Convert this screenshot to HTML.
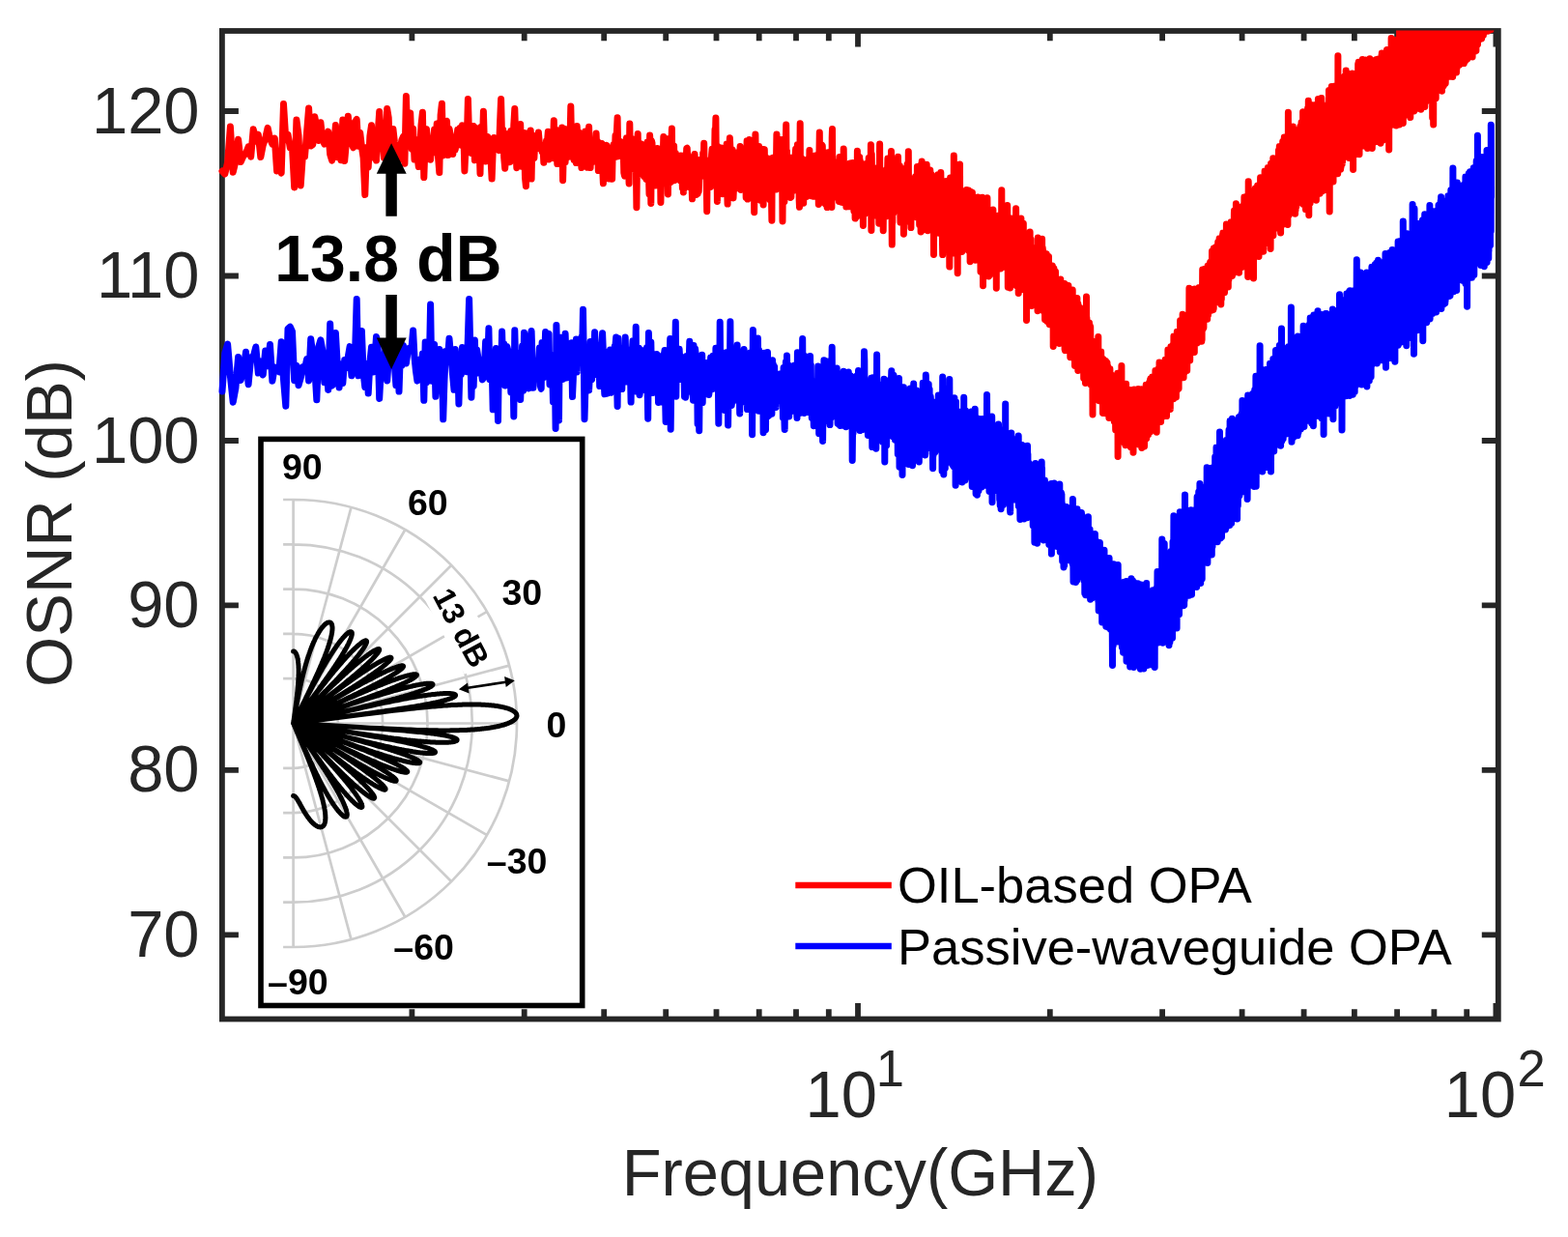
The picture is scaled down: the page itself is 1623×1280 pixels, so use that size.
<!DOCTYPE html><html><head><meta charset="utf-8"><title>OSNR vs Frequency</title><style>html,body{margin:0;padding:0;background:#fff;}svg{display:block;}text{font-family:"Liberation Sans",Arial,Helvetica,sans-serif;}</style></head><body>
<svg width="1623" height="1280" viewBox="0 0 1623 1280">
<rect width="1623" height="1280" fill="#fff"/>
<defs><clipPath id="ax"><rect x="224" y="31.5" width="1335" height="1028"/></clipPath></defs>
<path d="M229.9 967.4H246.9M1550.8 967.4H1533.8M229.9 796.9H246.9M1550.8 796.9H1533.8M229.9 626.4H246.9M1550.8 626.4H1533.8M229.9 456.0H246.9M1550.8 456.0H1533.8M229.9 285.5H246.9M1550.8 285.5H1533.8M229.9 115.0H246.9M1550.8 115.0H1533.8M426.4 1054.5V1044.3M426.4 32.0V42.2M542.7 1054.5V1044.3M542.7 32.0V42.2M625.2 1054.5V1044.3M625.2 32.0V42.2M689.2 1054.5V1044.3M689.2 32.0V42.2M741.5 1054.5V1044.3M741.5 32.0V42.2M785.7 1054.5V1044.3M785.7 32.0V42.2M824.0 1054.5V1044.3M824.0 32.0V42.2M857.8 1054.5V1044.3M857.8 32.0V42.2M1086.8 1054.5V1044.3M1086.8 32.0V42.2M1203.1 1054.5V1044.3M1203.1 32.0V42.2M1285.6 1054.5V1044.3M1285.6 32.0V42.2M1349.6 1054.5V1044.3M1349.6 32.0V42.2M1401.9 1054.5V1044.3M1401.9 32.0V42.2M1446.1 1054.5V1044.3M1446.1 32.0V42.2M1484.4 1054.5V1044.3M1484.4 32.0V42.2M1518.2 1054.5V1044.3M1518.2 32.0V42.2M888.0 1054.5V1037.9M888.0 32.0V48.6M1548.4 1054.5V1037.9M1548.4 32.0V48.6" stroke="#262626" stroke-width="5.8" fill="none"/>
<rect x="229.9" y="32.0" width="1320.8999999999999" height="1022.5" fill="none" stroke="#262626" stroke-width="5.8"/>
<g clip-path="url(#ax)" fill="none" stroke-width="7" stroke-linejoin="round" stroke-linecap="round">
<path stroke="#0000ff" d="M230.0 405.0L232.8 365.4 235.6 356.0 238.4 388.9 241.2 416.2 243.9 401.7 246.6 369.5 249.2 393.5 251.9 382.7 254.5 364.3 257.1 397.8 259.7 369.6 262.2 369.1 264.8 359.0 267.3 386.1 269.8 374.0 272.2 388.0 274.7 362.9 277.1 378.8 279.5 356.6 281.9 394.2 284.3 380.0 286.6 383.0 288.9 384.7 291.2 353.8 293.5 392.7 295.8 420.2 298.0 340.1 300.3 338.2 302.5 343.0 304.7 393.7 306.9 378.2 309.0 398.7 311.2 391.0 313.3 379.9 315.5 381.4 317.6 371.6 319.6 393.9 321.7 350.8 323.8 366.0 325.8 380.3 327.8 413.8 329.9 358.6 331.9 351.8 333.9 362.9 335.8 395.8 337.8 370.0 339.7 403.4 341.7 334.9 343.6 399.2 345.5 397.2 347.4 344.6 349.3 378.3 351.1 401.0 353.0 376.9 354.8 396.4 356.7 372.5 358.5 380.8 360.3 369.0 362.1 358.6 363.9 388.8 365.7 370.8 367.4 371.2 369.2 309.5 370.9 388.8 372.7 352.3 374.4 342.5 376.1 385.8 377.8 400.5 379.5 376.6 381.2 407.1 382.9 374.8 384.5 359.2 386.2 385.1 387.8 373.4 389.5 348.4 391.1 356.2 392.7 412.4 394.3 382.5 395.9 383.8 397.5 369.1 399.1 360.4 400.7 393.9 402.2 372.8 403.8 359.0 405.3 372.2 406.9 355.9 408.4 379.0 409.9 398.8 411.4 357.4 413.0 405.1 414.5 360.9 415.9 378.2 417.4 357.4 418.9 370.3 420.4 376.0 421.8 365.9 423.3 360.2 424.7 360.7 426.2 357.7 427.6 342.0 429.0 369.5 430.4 383.4 431.9 394.1 433.3 388.7 434.7 372.1 436.0 382.0 437.4 366.0 438.8 414.3 440.2 353.9 441.5 395.6 442.9 356.1 444.2 383.1 445.6 315.0 446.9 394.3 448.3 372.8 449.6 356.4 450.9 410.3 452.2 391.8 453.5 377.3 454.8 361.4 456.1 375.6 457.4 373.3 458.7 433.8 460.0 392.7 461.3 363.5 462.5 365.9 463.8 366.4 465.0 350.2 466.3 365.4 467.5 375.3 468.8 390.8 470.0 403.3 471.2 361.5 472.5 388.2 473.7 368.8 474.9 418.0 476.1 376.7 477.3 387.5 478.5 359.6 479.7 362.2 480.9 381.8 482.1 370.6 483.2 384.8 484.4 348.1 485.6 309.5 486.8 361.1 487.9 411.2 489.1 372.9 490.2 399.3 491.4 352.1 492.5 386.7 493.6 361.9 494.8 369.5 495.9 379.2 497.0 372.9 498.1 383.8 499.3 392.9 500.4 391.2 501.5 377.3 502.6 353.6 503.7 364.0 504.8 375.3 505.9 339.7 506.9 392.7 508.0 374.4 509.1 374.2 510.2 423.8 511.2 391.0 512.3 382.8 513.4 360.5 514.4 384.4 515.5 435.5 516.5 362.6 517.6 397.5 518.6 387.8 519.6 343.1 520.7 380.8 521.7 355.8 522.7 399.0 523.8 393.1 524.8 358.6 525.8 362.6 526.8 380.3 527.8 374.1 528.8 405.9 529.8 391.7 530.8 373.3 531.8 431.0 532.8 341.8 533.8 383.9 534.8 393.9 535.8 375.1 536.7 365.5 537.7 388.4 538.7 413.5 539.7 381.9 540.6 358.0 541.6 404.2 542.5 344.3 543.5 387.2 544.4 367.6 545.4 394.8 546.3 362.8 547.3 401.9 548.2 383.4 549.2 346.9 550.1 342.5 551.0 372.3 551.9 401.3 552.9 380.2 553.8 379.1 554.7 373.7 555.6 391.2 556.5 384.7 557.4 382.9 558.4 360.1 559.3 399.2 560.2 402.3 561.1 354.4 562.0 368.7 562.8 390.7 563.7 368.9 564.6 343.4 565.5 389.5 566.4 387.7 567.3 366.9 568.1 345.4 569.0 397.9 569.9 367.0 570.8 369.1 571.6 382.5 572.5 415.9 573.3 394.7 574.2 369.3 575.1 443.5 575.9 336.4 576.8 379.4 577.6 363.8 578.5 434.9 579.3 348.9 580.1 386.8 581.0 379.0 581.8 380.2 582.6 392.5 583.5 362.1 584.3 355.1 585.1 345.3 586.0 371.2 586.8 390.9 587.6 374.6 588.4 388.8 589.2 356.0 590.0 368.8 590.8 363.4 591.6 354.7 592.5 410.6 593.3 392.5 594.1 363.4 594.9 363.3 595.7 376.1 596.4 351.1 597.2 384.9 598.0 353.7 598.8 370.4 599.6 358.6 600.4 368.4 601.2 353.1 601.9 348.9 602.7 359.9 603.5 320.2 604.3 372.1 605.0 433.7 605.8 405.0 606.6 392.2 607.3 373.1 608.1 390.8 608.9 365.4 609.6 403.9 610.4 387.8 611.1 353.6 611.9 391.7 612.6 392.8 613.4 377.8 614.1 364.8 614.9 369.8 615.6 343.7 616.3 359.3 617.1 361.5 617.8 387.7 618.6 384.1 619.3 367.4 620.0 371.7 620.7 399.6 621.5 380.4 622.2 383.9 622.9 358.2 623.6 344.7 624.4 365.4 625.1 393.0 625.8 407.8 626.5 390.3 627.2 388.4 627.9 364.4 628.6 407.2 629.4 403.8 630.1 370.2 630.8 378.9 631.5 361.9 632.2 406.3 632.9 387.3 633.6 378.3 634.3 387.4 635.0 388.1 635.6 372.8 636.3 357.9 637.0 357.2 637.7 349.1 638.4 388.8 639.1 420.5 639.8 350.0 640.4 383.1 641.1 388.1 641.8 363.0 642.5 384.5 643.2 361.1 643.8 402.6 644.5 370.3 645.2 382.9 645.8 393.4 646.5 373.4 647.2 349.0 647.8 371.7 648.5 395.1 649.2 379.9 649.8 385.6 650.5 362.1 651.1 384.2 651.8 394.8 652.4 382.4 653.1 416.1 653.7 378.1 654.4 363.2 655.0 352.8 655.7 402.7 656.3 381.0 657.0 400.3 657.6 390.4 658.2 338.2 658.9 405.1 659.5 375.6 660.2 387.3 660.8 402.0 661.4 360.3 662.0 408.7 662.7 404.5 663.3 400.4 663.9 379.1 664.6 388.2 665.2 362.8 665.8 384.0 666.4 372.4 667.1 384.6 667.7 374.2 668.3 388.3 668.9 404.4 669.5 359.7 670.1 400.0 670.7 433.2 671.4 344.5 672.0 381.3 672.6 383.7 673.2 391.6 673.8 354.0 674.4 382.6 675.0 386.0 675.6 406.4 676.2 382.0 676.8 393.4 677.4 366.4 678.0 380.6 678.6 376.1 679.2 396.8 679.8 366.4 680.4 369.2 681.0 394.7 681.5 416.5 682.1 391.3 682.7 389.9 683.3 378.3 683.9 404.1 684.5 394.3 685.1 415.9 685.6 390.7 686.2 367.7 686.8 374.6 687.4 367.1 688.0 362.4 688.5 407.7 689.1 436.4 689.7 362.8 690.3 417.2 690.8 389.6 691.4 368.0 692.0 392.2 692.5 384.1 693.1 371.5 693.7 350.5 694.2 444.2 694.8 390.8 695.4 362.6 695.9 395.6 696.5 396.8 697.0 377.3 697.6 387.8 698.1 380.8 698.7 370.8 699.3 333.2 699.8 410.3 700.4 359.9 700.9 390.4 701.5 389.5 702.0 373.5 702.6 378.4 703.1 361.2 703.7 371.1 704.2 386.8 704.7 392.4 705.3 370.5 705.8 369.5 706.4 376.5 706.9 389.1 707.4 382.7 708.0 379.8 708.5 410.4 709.1 378.5 709.6 411.2 710.1 407.8 710.7 368.5 711.2 406.0 711.7 375.7 712.2 382.0 712.8 380.6 713.3 370.7 713.8 353.3 714.4 364.4 714.9 377.3 715.4 369.9 715.9 365.8 716.5 375.5 717.0 384.3 717.5 414.2 718.0 357.5 718.5 378.3 719.0 371.1 719.6 361.1 720.1 365.6 720.6 372.2 721.1 401.4 721.6 385.1 722.1 438.7 722.6 399.7 723.2 393.8 723.7 445.7 724.2 395.8 724.7 374.1 725.2 400.3 725.7 397.5 726.2 381.7 726.7 367.3 727.2 416.6 727.7 391.0 728.2 400.8 728.7 377.7 729.2 404.9 729.7 381.7 730.2 394.2 730.7 404.7 731.2 375.4 731.7 388.0 732.2 392.8 732.7 392.0 733.2 400.7 733.7 408.5 734.2 405.1 734.6 394.9 735.1 384.0 735.6 369.9 736.1 377.1 736.6 380.9 737.1 402.7 737.6 384.0 738.0 368.2 738.5 401.9 739.0 376.2 739.5 377.0 740.0 386.7 740.5 399.4 740.9 360.3 741.4 370.8 741.9 394.2 742.4 384.5 742.8 375.6 743.3 381.5 743.8 438.3 744.3 383.1 744.7 404.2 745.2 333.3 745.7 383.4 746.2 399.5 746.6 383.5 747.1 380.7 747.6 371.4 748.0 407.5 748.5 384.7 749.0 381.9 749.4 371.6 749.9 424.5 750.4 405.4 750.8 389.7 751.3 379.6 751.7 364.7 752.2 397.5 752.7 397.5 753.1 367.0 753.6 440.1 754.0 406.5 754.5 375.2 755.0 382.6 755.4 385.0 755.9 332.7 756.3 390.1 756.8 363.3 757.2 419.4 757.7 398.6 758.1 415.7 758.6 415.6 759.0 389.3 759.5 399.3 759.9 406.5 760.4 407.1 760.8 390.3 761.3 382.2 761.7 394.0 762.2 379.0 762.6 383.5 763.1 357.0 763.5 395.1 763.9 375.2 764.4 383.7 764.8 392.8 765.3 399.5 765.7 427.9 766.1 397.6 766.6 368.6 767.0 396.4 767.5 383.4 767.9 401.3 768.3 381.9 768.8 381.5 769.2 385.1 769.6 383.1 770.1 361.6 770.5 382.4 770.9 394.3 771.4 416.2 771.8 389.3 772.2 388.0 772.6 405.2 773.1 404.5 773.5 423.6 773.9 405.4 774.4 394.6 774.8 419.1 775.2 422.6 775.6 386.5 776.1 398.0 776.5 364.9 776.9 388.7 777.3 379.4 777.7 391.5 778.2 386.7 778.6 449.7 779.0 393.6 779.4 341.4 779.8 399.7 780.3 385.5 780.7 372.5 781.1 418.0 781.5 421.3 781.9 387.7 782.3 406.0 782.8 368.5 783.2 367.9 783.6 391.2 784.0 422.6 784.4 350.1 784.8 381.2 785.2 425.2 785.6 362.2 786.0 408.0 786.5 405.2 786.9 392.7 787.3 399.9 787.7 396.7 788.1 376.3 788.5 391.0 788.9 392.4 789.3 384.3 789.7 372.6 790.1 447.7 790.5 400.8 790.9 365.3 791.3 384.3 791.7 404.3 792.1 404.3 792.5 444.7 792.9 395.5 793.3 401.9 793.7 404.3 794.1 404.4 794.5 364.5 794.9 430.6 795.3 401.2 795.7 430.0 796.1 423.2 796.5 394.7 796.9 375.4 797.3 413.2 797.7 394.5 798.1 389.6 798.5 379.2 798.9 428.2 799.2 389.9 799.6 372.8 800.0 389.9 800.4 377.3 800.8 401.0 801.2 390.7 801.6 379.4 802.0 409.3 802.4 387.0 802.7 411.7 803.1 421.5 803.5 392.4 803.9 387.3 804.3 402.7 804.7 415.2 805.0 399.2 805.4 401.9 805.8 399.0 806.2 405.2 806.6 411.0 807.0 387.0 807.3 391.1 807.7 400.7 808.1 388.0 808.5 402.6 808.9 409.9 809.2 399.9 809.6 389.5 810.0 386.5 810.4 432.1 810.7 416.5 811.1 380.6 811.5 385.7 811.9 434.7 812.2 444.4 812.6 403.5 813.0 422.1 813.4 374.6 813.7 401.5 814.1 414.9 814.5 368.1 814.8 387.6 815.2 415.9 815.6 422.3 815.9 391.3 816.3 407.3 816.7 431.0 817.0 395.4 817.4 378.4 817.8 401.3 818.1 395.5 818.5 426.0 818.9 405.6 819.2 388.4 819.6 380.9 820.0 394.0 820.3 411.6 820.7 415.3 821.1 417.4 821.4 406.5 821.8 414.0 822.1 402.3 822.5 378.1 822.9 399.8 823.2 400.2 823.6 400.7 823.9 406.4 824.3 392.8 824.7 428.0 825.0 432.5 825.4 364.7 825.7 404.6 826.1 391.7 826.4 392.7 826.8 412.1 827.2 393.6 827.5 398.1 827.9 393.2 828.2 424.6 828.6 427.4 828.9 410.2 829.3 417.8 829.6 403.4 830.0 408.0 830.3 392.2 830.7 350.6 831.0 392.9 831.4 412.6 831.7 420.8 832.1 411.6 832.4 427.4 832.8 397.4 833.1 368.4 833.5 406.6 833.8 396.2 834.2 398.3 834.5 382.2 834.8 407.7 835.2 402.1 835.5 395.5 835.9 402.4 836.2 396.4 836.6 397.2 836.9 426.6 837.3 401.9 837.6 390.3 837.9 413.0 838.3 395.6 838.6 368.5 839.0 423.7 839.3 377.6 839.6 404.0 840.0 410.2 840.3 432.4 840.7 429.6 841.0 411.2 841.3 394.6 841.7 400.9 842.0 428.1 842.3 440.7 842.7 418.5 843.0 397.1 843.4 427.4 843.7 402.2 844.0 401.7 844.4 404.1 844.7 419.8 845.0 414.2 845.4 427.2 845.7 432.8 846.0 418.7 846.4 408.9 846.7 379.1 847.0 412.6 847.3 408.7 847.7 448.8 848.0 409.5 848.3 407.3 848.7 427.2 849.0 429.4 849.3 406.1 849.6 418.9 850.0 390.1 850.3 393.6 850.6 432.9 851.0 385.4 851.3 427.4 851.6 456.4 851.9 424.8 852.3 427.5 852.6 421.3 852.9 372.7 853.2 393.2 853.6 400.6 853.9 427.9 854.2 391.3 854.5 398.9 854.8 405.2 855.2 435.5 855.5 385.9 855.8 387.6 856.1 423.3 856.5 373.9 856.8 418.2 857.1 404.1 857.4 384.0 857.7 404.9 858.0 394.5 858.4 415.6 858.7 419.2 859.0 439.6 859.3 412.6 859.6 414.7 860.0 402.6 860.3 412.6 860.6 432.0 860.9 378.6 861.2 359.2 861.5 403.7 861.8 414.8 862.2 419.4 862.5 428.9 862.8 418.0 863.1 406.7 863.4 419.5 863.7 414.1 864.0 410.3 864.3 417.8 864.7 429.9 865.0 416.7 865.3 417.1 865.6 391.2 865.9 412.2 866.2 381.1 866.5 427.6 866.8 397.8 867.1 438.1 867.4 400.8 867.8 407.8 868.1 438.9 868.4 422.4 868.7 405.1 869.0 400.1 869.3 425.4 869.6 440.5 869.9 421.8 870.2 388.3 870.5 396.9 870.8 411.6 871.1 440.2 871.4 421.0 871.7 421.8 872.0 437.8 872.3 412.4 872.6 414.6 872.9 413.0 873.2 384.3 873.5 424.8 873.8 423.9 874.1 434.1 874.4 395.2 874.7 402.0 875.0 433.6 875.3 422.7 875.6 441.7 875.9 401.5 876.2 420.7 876.5 405.0 876.8 422.8 877.1 408.6 877.4 427.0 877.7 436.9 878.0 429.7 878.3 385.0 878.6 434.6 878.9 425.8 879.2 399.0 879.5 401.9 879.8 418.1 880.1 428.3 880.4 409.9 880.7 388.9 881.0 423.2 881.3 421.2 881.6 427.0 881.9 395.1 882.2 476.4 882.5 449.8 882.7 423.8 883.0 448.3 883.3 420.2 883.6 436.1 883.9 405.4 884.2 420.0 884.5 400.4 884.8 390.3 885.1 413.8 885.4 406.9 885.7 429.1 885.9 441.7 886.2 415.8 886.5 420.0 886.8 422.4 887.1 388.8 887.4 423.9 887.7 419.3 888.0 418.3 888.2 399.4 888.5 383.5 888.8 414.8 889.1 425.0 889.4 443.5 889.7 439.7 890.0 445.6 890.2 426.1 890.5 440.3 890.8 415.8 891.1 430.9 891.4 436.4 891.7 436.5 891.9 424.1 892.2 396.8 892.5 444.6 892.8 405.6 893.1 418.8 893.4 414.6 893.6 403.6 893.9 444.0 894.2 430.8 894.5 363.8 894.8 373.2 895.0 412.3 895.3 431.3 895.6 413.4 895.9 406.5 896.2 408.7 896.4 412.5 896.7 425.6 897.0 403.9 897.3 418.9 897.5 428.5 897.8 426.0 898.1 436.0 898.4 450.5 898.7 411.5 898.9 413.6 899.2 426.5 899.5 449.0 899.8 434.2 900.0 402.7 900.3 426.4 900.6 422.9 900.9 428.4 901.1 445.5 901.4 401.4 901.7 441.0 901.9 391.3 902.2 422.1 902.5 428.1 902.8 462.6 903.0 408.6 903.3 390.7 903.6 433.8 903.9 409.4 904.1 449.8 904.4 408.6 904.7 405.6 904.9 444.1 905.2 423.2 905.5 439.8 905.7 395.7 906.0 451.7 906.3 411.0 906.6 436.7 906.8 464.3 907.1 393.6 907.4 417.2 907.6 367.1 907.9 450.7 908.2 428.4 908.4 435.1 908.7 434.1 909.0 419.2 909.2 407.2 909.5 445.2 909.8 419.5 910.0 427.1 910.3 412.3 910.6 443.7 910.8 399.4 911.1 398.2 911.4 418.7 911.6 401.3 911.9 435.5 912.1 439.5 912.4 408.8 912.7 437.1 912.9 410.5 913.2 421.9 913.5 422.9 913.7 457.4 914.0 422.8 914.2 406.1 914.5 406.0 914.8 445.1 915.0 392.2 915.3 414.4 915.6 416.1 915.8 477.9 916.1 414.5 916.3 441.7 916.6 427.5 916.9 406.6 917.1 436.1 917.4 432.9 917.6 460.9 917.9 409.7 918.1 416.2 918.4 424.2 918.7 420.9 918.9 425.2 919.2 421.6 919.4 410.7 919.7 393.8 919.9 413.3 920.2 397.8 920.5 404.2 920.7 413.6 921.0 433.2 921.2 439.7 921.5 404.5 921.7 429.5 922.0 438.8 922.2 423.0 922.5 393.3 922.8 383.8 923.0 439.0 923.3 441.4 923.5 429.5 923.8 404.7 924.0 451.7 924.3 447.3 924.5 423.9 924.8 420.6 925.0 388.2 925.3 439.1 925.5 394.8 925.8 438.0 926.0 439.0 926.3 427.2 926.5 455.3 926.8 419.6 927.0 436.9 927.3 440.9 927.5 430.7 927.8 418.3 928.0 449.4 928.3 434.3 928.5 422.9 928.8 423.5 929.0 429.2 929.3 469.9 929.5 428.9 929.8 422.5 930.0 407.0 930.3 404.2 930.5 391.5 930.8 431.9 931.0 483.2 931.3 408.2 931.5 399.6 931.8 421.7 932.0 418.1 932.3 402.8 932.5 433.9 932.7 431.0 933.0 427.5 933.2 443.2 933.5 416.2 933.7 454.6 934.0 491.5 934.2 438.7 934.5 441.2 934.7 424.2 934.9 436.0 935.2 404.9 935.4 400.8 935.7 425.8 935.9 415.8 936.2 441.1 936.4 430.5 936.6 441.8 936.9 436.2 937.1 434.1 937.4 432.1 937.6 423.3 937.9 421.7 938.1 469.6 938.3 478.1 938.6 427.3 938.8 450.2 939.1 439.1 939.3 458.2 939.5 441.8 939.8 407.2 940.0 425.2 940.3 480.5 940.5 450.6 940.7 459.5 941.0 423.4 941.2 442.4 941.4 424.2 941.7 404.5 941.9 423.7 942.2 401.9 942.4 421.5 942.6 436.6 942.9 446.6 943.1 457.7 943.3 426.4 943.6 437.5 943.8 441.2 944.1 443.9 944.3 416.2 944.5 481.7 944.8 448.8 945.0 411.8 945.2 438.4 945.5 449.8 945.7 397.0 945.9 430.2 946.2 438.5 946.4 434.2 946.6 404.4 946.9 440.9 947.1 423.4 947.3 450.4 947.6 442.8 947.8 423.9 948.0 438.1 948.3 421.3 948.5 421.2 948.7 404.1 949.0 430.3 949.2 450.7 949.4 437.3 949.7 434.7 949.9 422.9 950.1 424.9 950.4 449.8 950.6 406.1 950.8 475.7 951.0 434.2 951.3 478.0 951.5 458.6 951.7 427.5 952.0 450.1 952.2 440.8 952.4 444.9 952.7 451.5 952.9 425.3 953.1 423.9 953.3 427.9 953.6 409.4 953.8 431.1 954.0 440.8 954.2 441.3 954.5 440.3 954.7 428.8 954.9 452.1 955.2 396.3 955.4 428.9 955.6 430.3 955.8 454.5 956.1 450.0 956.3 452.7 956.5 437.3 956.7 455.8 957.0 417.3 957.2 438.6 957.4 395.6 957.6 471.1 957.9 468.8 958.1 425.6 958.3 388.1 958.5 396.1 958.8 407.4 959.0 440.2 959.2 434.7 959.4 408.8 959.7 428.2 959.9 425.0 960.1 447.6 960.3 452.4 960.6 434.1 960.8 440.9 961.0 438.6 961.2 397.4 961.4 442.5 961.7 437.7 961.9 454.0 962.1 402.8 962.3 454.5 962.6 426.8 962.8 444.9 963.0 463.8 963.2 410.4 963.4 413.8 963.7 459.8 963.9 417.4 964.1 421.1 964.3 452.3 964.5 436.4 964.8 456.1 965.0 446.6 965.2 440.3 965.4 460.5 965.6 484.7 965.8 439.1 966.1 470.8 966.3 464.0 966.5 443.6 966.7 450.7 966.9 422.9 967.2 429.4 967.4 447.4 967.6 441.0 967.8 468.1 968.0 416.1 968.2 436.4 968.5 429.6 968.7 439.4 968.9 466.0 969.1 418.5 969.3 459.9 969.5 431.1 969.8 436.5 970.0 463.2 970.2 437.6 970.4 456.8 970.6 445.8 970.8 440.1 971.0 436.5 971.3 408.9 971.5 428.9 971.7 447.4 971.9 448.3 972.1 414.2 972.3 464.6 972.5 456.1 972.8 418.4 973.0 423.7 973.2 455.1 973.4 409.4 973.6 430.1 973.8 444.2 974.0 442.8 974.3 444.3 974.5 453.5 974.7 429.5 974.9 436.0 975.1 487.6 975.3 417.6 975.5 437.1 975.7 390.0 975.9 433.3 976.2 471.3 976.4 448.1 976.6 462.2 976.8 490.9 977.0 471.1 977.2 470.5 977.4 431.9 977.6 473.9 977.8 452.9 978.0 466.5 978.3 484.6 978.5 449.9 978.7 427.3 978.9 447.9 979.1 422.2 979.3 432.0 979.5 432.9 979.7 434.0 979.9 472.5 980.1 465.9 980.3 430.6 980.6 472.2 980.8 414.9 981.0 435.9 981.2 446.6 981.4 473.9 981.6 464.6 981.8 459.1 982.0 476.6 982.2 464.8 982.4 478.2 982.6 434.2 982.8 392.6 983.0 442.0 983.2 467.7 983.4 456.2 983.6 469.2 983.9 465.6 984.1 461.8 984.3 468.1 984.5 436.7 984.7 474.0 984.9 430.9 985.1 449.3 985.3 422.7 985.5 462.3 985.7 420.0 985.9 481.0 986.1 424.5 986.3 457.6 986.5 449.5 986.7 434.4 986.9 478.4 987.1 443.8 987.3 483.1 987.5 431.7 987.7 436.4 987.9 411.8 988.1 464.6 988.3 472.2 988.5 458.0 988.7 450.1 988.9 434.5 989.1 502.3 989.3 469.2 989.5 415.7 989.7 447.6 989.9 445.7 990.2 486.9 990.4 495.3 990.6 484.7 990.8 453.4 991.0 442.3 991.2 425.5 991.4 465.9 991.6 439.4 991.8 447.2 992.0 441.8 992.2 448.8 992.4 474.0 992.6 490.6 992.7 458.7 992.9 456.0 993.1 432.5 993.3 430.2 993.5 433.7 993.7 474.5 993.9 461.3 994.1 476.5 994.3 465.2 994.5 448.0 994.7 430.6 994.9 449.0 995.1 426.9 995.3 498.8 995.5 462.6 995.7 449.4 995.9 499.0 996.1 449.2 996.3 469.1 996.5 454.0 996.7 465.1 996.9 449.9 997.1 468.1 997.3 487.9 997.5 431.4 997.7 411.3 997.9 486.6 998.1 461.8 998.3 476.8 998.5 452.3 998.7 491.2 998.9 497.1 999.0 434.0 999.2 473.0 999.4 446.0 999.6 424.9 999.8 452.6 1000.0 471.1 1000.2 430.1 1000.4 431.9 1000.6 485.4 1000.8 460.0 1001.0 467.9 1001.2 435.2 1001.4 445.6 1001.6 462.0 1001.8 463.5 1002.0 462.6 1002.1 493.3 1002.3 463.1 1002.5 427.1 1002.7 441.1 1002.9 458.4 1003.1 486.7 1003.3 445.1 1003.5 451.4 1003.7 459.2 1003.9 444.8 1004.1 442.4 1004.3 454.9 1004.5 480.9 1004.6 470.2 1004.8 453.9 1005.0 468.6 1005.2 432.9 1005.4 481.3 1005.6 475.9 1005.8 466.6 1006.0 425.8 1006.2 503.5 1006.4 467.9 1006.5 439.6 1006.7 441.4 1006.9 475.7 1007.1 429.4 1007.3 466.2 1007.5 458.1 1007.7 455.3 1007.9 479.7 1008.1 491.8 1008.2 470.2 1008.4 456.2 1008.6 451.4 1008.8 493.3 1009.0 456.0 1009.2 423.3 1009.4 466.0 1009.6 493.4 1009.8 460.0 1009.9 438.4 1010.1 510.9 1010.3 476.4 1010.5 470.9 1010.7 485.2 1010.9 432.4 1011.1 462.5 1011.2 460.7 1011.4 512.2 1011.6 452.6 1011.8 452.9 1012.0 435.4 1012.2 447.5 1012.4 460.7 1012.6 470.8 1012.7 461.2 1012.9 507.9 1013.1 476.0 1013.3 479.3 1013.5 494.8 1013.7 479.4 1013.9 455.1 1014.0 433.6 1014.2 474.0 1014.4 449.0 1014.6 494.5 1014.8 450.6 1015.0 449.3 1015.1 468.0 1015.3 489.9 1015.5 462.9 1015.7 471.3 1015.9 470.8 1016.1 504.1 1016.2 474.2 1016.4 467.1 1016.6 455.0 1016.8 433.4 1017.0 498.0 1017.2 492.7 1017.3 448.3 1017.5 481.5 1017.7 475.6 1017.9 460.8 1018.1 462.3 1018.3 485.0 1018.4 443.7 1018.6 458.3 1018.8 467.8 1019.0 469.4 1019.2 465.2 1019.3 474.4 1019.5 481.1 1019.7 451.2 1019.9 471.9 1020.1 459.1 1020.3 502.2 1020.4 440.8 1020.6 465.7 1020.8 485.5 1021.0 464.9 1021.2 464.0 1021.3 459.8 1021.5 408.6 1021.7 446.9 1021.9 469.9 1022.1 469.6 1022.2 441.0 1022.4 477.8 1022.6 462.3 1022.8 478.8 1023.0 490.6 1023.1 479.9 1023.3 447.9 1023.5 479.7 1023.7 439.4 1023.8 457.1 1024.0 508.6 1024.2 473.7 1024.4 506.5 1024.6 470.0 1024.7 474.2 1024.9 450.7 1025.1 494.1 1025.3 470.3 1025.4 487.8 1025.6 483.9 1025.8 486.2 1026.0 482.0 1026.2 474.5 1026.3 475.4 1026.5 461.1 1026.7 431.1 1026.9 486.2 1027.0 519.8 1027.2 499.0 1027.4 484.1 1027.6 486.9 1027.7 456.7 1027.9 456.4 1028.1 492.9 1028.3 484.6 1028.5 474.1 1028.6 493.3 1028.8 459.5 1029.0 489.0 1029.2 472.3 1029.3 481.7 1029.5 503.4 1029.7 475.8 1029.9 507.6 1030.0 506.8 1030.2 463.2 1030.4 452.7 1030.6 453.4 1030.7 477.5 1030.9 495.1 1031.1 472.4 1031.3 501.6 1031.4 503.9 1031.6 477.9 1031.8 486.1 1031.9 485.0 1032.1 476.2 1032.3 503.2 1032.5 473.1 1032.6 480.1 1032.8 488.8 1033.0 499.0 1033.2 504.4 1033.3 450.5 1033.5 439.0 1033.7 478.8 1033.8 480.6 1034.0 459.2 1034.2 488.4 1034.4 495.3 1034.5 490.2 1034.7 516.9 1034.9 460.8 1035.1 483.0 1035.2 523.1 1035.4 497.0 1035.6 459.5 1035.7 487.2 1035.9 507.8 1036.1 526.8 1036.3 497.2 1036.4 507.9 1036.6 460.3 1036.8 478.4 1036.9 508.7 1037.1 463.7 1037.3 482.6 1037.4 445.0 1037.6 515.1 1037.8 481.5 1038.0 496.2 1038.1 453.0 1038.3 457.1 1038.5 522.6 1038.6 477.6 1038.8 473.5 1039.0 495.7 1039.1 496.7 1039.3 444.2 1039.5 464.9 1039.7 486.5 1039.8 485.7 1040.0 493.0 1040.2 476.8 1040.3 480.0 1040.5 490.5 1040.7 418.1 1040.8 468.8 1041.0 474.9 1041.2 486.6 1041.3 483.4 1041.5 476.7 1041.7 481.5 1041.8 485.8 1042.0 493.6 1042.2 494.6 1042.3 460.3 1042.5 507.5 1042.7 454.0 1042.8 498.8 1043.0 472.8 1043.2 499.7 1043.3 509.8 1043.5 448.7 1043.7 500.5 1043.8 493.7 1044.0 478.5 1044.2 496.2 1044.3 478.0 1044.5 490.9 1044.7 466.7 1044.8 504.9 1045.0 501.0 1045.2 504.3 1045.3 475.4 1045.5 527.2 1045.7 530.1 1045.8 487.5 1046.0 480.7 1046.2 481.0 1046.3 503.8 1046.5 511.0 1046.7 474.3 1046.8 447.9 1047.0 499.4 1047.2 489.3 1047.3 493.8 1047.5 501.0 1047.7 467.4 1047.8 491.9 1048.0 484.5 1048.1 498.6 1048.3 516.2 1048.5 491.1 1048.6 473.5 1048.8 517.1 1049.0 506.2 1049.1 487.5 1049.3 454.5 1049.5 473.8 1049.6 495.0 1049.8 503.5 1049.9 481.5 1050.1 501.5 1050.3 479.6 1050.4 484.1 1050.6 504.0 1050.8 487.5 1050.9 496.2 1051.1 511.5 1051.2 516.9 1051.4 481.6 1051.6 488.7 1051.7 466.7 1051.9 467.3 1052.1 500.5 1052.2 483.8 1052.4 456.5 1052.5 505.7 1052.7 477.7 1052.9 488.7 1053.0 503.9 1053.2 503.6 1053.4 494.5 1053.5 454.8 1053.7 507.6 1053.8 483.9 1054.0 467.2 1054.2 451.1 1054.3 523.8 1054.5 499.7 1054.6 499.3 1054.8 509.7 1055.0 495.7 1055.1 467.2 1055.3 511.7 1055.4 518.4 1055.6 508.7 1055.8 529.8 1055.9 537.5 1056.1 482.3 1056.2 489.7 1056.4 517.1 1056.6 502.8 1056.7 503.7 1056.9 518.7 1057.0 514.9 1057.2 490.8 1057.4 502.6 1057.5 485.7 1057.7 496.4 1057.8 477.9 1058.0 460.6 1058.1 490.8 1058.3 489.0 1058.5 519.6 1058.6 533.7 1058.8 502.2 1058.9 511.5 1059.1 489.1 1059.3 483.3 1059.4 496.6 1059.6 496.8 1059.7 508.8 1059.9 505.3 1060.0 537.0 1060.2 498.9 1060.4 469.9 1060.5 506.2 1060.7 490.5 1060.8 508.3 1061.0 527.2 1061.1 491.3 1061.3 503.1 1061.5 515.3 1061.6 485.7 1061.8 509.6 1061.9 516.5 1062.1 522.1 1062.2 528.1 1062.4 517.2 1062.5 514.0 1062.7 477.9 1062.9 505.4 1063.0 487.0 1063.2 535.8 1063.3 509.4 1063.5 461.3 1063.6 498.8 1063.8 514.9 1063.9 470.0 1064.1 519.5 1064.3 484.7 1064.4 529.4 1064.6 509.0 1064.7 498.6 1064.9 481.7 1065.0 514.7 1065.2 479.2 1065.3 532.7 1065.5 512.1 1065.7 528.4 1065.8 512.0 1066.0 486.3 1066.1 497.0 1066.3 485.3 1066.4 489.3 1066.6 513.7 1066.7 532.7 1066.9 528.5 1067.0 521.7 1067.2 500.0 1067.3 522.0 1067.5 494.4 1067.7 516.1 1067.8 529.1 1068.0 508.5 1068.1 502.9 1068.3 503.8 1068.4 525.2 1068.6 506.6 1068.7 484.3 1068.9 504.9 1069.0 491.9 1069.2 544.0 1069.3 514.0 1069.5 484.1 1069.6 519.4 1069.8 528.8 1069.9 522.1 1070.1 507.3 1070.2 517.7 1070.4 520.5 1070.6 535.3 1070.7 522.6 1070.9 561.2 1071.0 511.2 1071.2 546.6 1071.3 516.2 1071.5 481.6 1071.6 492.5 1071.8 479.6 1071.9 481.8 1072.1 541.0 1072.2 503.6 1072.4 529.2 1072.5 499.2 1072.7 517.1 1072.8 496.2 1073.0 535.2 1073.1 512.7 1073.3 508.9 1073.4 514.9 1073.6 562.2 1073.7 527.5 1073.9 535.5 1074.0 493.8 1074.2 505.9 1074.3 525.1 1074.5 481.8 1074.6 546.4 1074.8 525.1 1074.9 519.4 1075.1 515.9 1075.2 515.4 1075.4 510.1 1075.5 548.5 1075.7 534.4 1075.8 545.8 1076.0 514.8 1076.1 503.3 1076.3 548.6 1076.4 496.8 1076.6 509.2 1076.7 536.0 1076.9 543.7 1077.0 495.5 1077.2 516.6 1077.3 522.9 1077.4 519.8 1077.6 505.3 1077.7 536.4 1077.9 512.4 1078.0 518.2 1078.2 478.0 1078.3 521.2 1078.5 484.5 1078.6 537.9 1078.8 533.8 1078.9 513.8 1079.1 527.4 1079.2 526.5 1079.4 521.5 1079.5 531.9 1079.7 522.3 1079.8 515.4 1080.0 509.2 1080.1 558.9 1080.2 529.3 1080.4 525.2 1080.5 540.3 1080.7 518.1 1080.8 518.4 1081.0 539.6 1081.1 547.0 1081.3 540.0 1081.4 496.9 1081.6 528.0 1081.7 526.5 1081.9 536.3 1082.0 509.6 1082.2 506.4 1082.3 525.3 1082.4 510.0 1082.6 506.6 1082.7 526.7 1082.9 546.8 1083.0 531.1 1083.2 550.9 1083.3 508.8 1083.5 543.0 1083.6 528.8 1083.7 511.6 1083.9 520.9 1084.0 512.3 1084.2 525.3 1084.3 514.8 1084.5 555.0 1084.6 522.9 1084.8 501.8 1084.9 526.5 1085.1 538.2 1085.2 524.3 1085.3 548.0 1085.5 512.8 1085.6 514.1 1085.8 563.6 1085.9 531.5 1086.1 542.4 1086.2 541.6 1086.3 543.4 1086.5 532.9 1086.6 528.4 1086.8 553.9 1086.9 522.8 1087.1 535.0 1087.2 546.4 1087.4 525.1 1087.5 502.7 1087.6 542.4 1087.8 554.9 1087.9 538.7 1088.1 500.6 1088.2 546.6 1088.4 573.1 1088.5 503.7 1088.6 547.4 1088.8 529.7 1088.9 536.3 1089.1 550.4 1089.2 551.2 1089.3 537.1 1089.5 546.1 1089.6 542.2 1089.8 538.2 1089.9 534.8 1090.1 533.0 1090.2 550.1 1090.3 544.4 1090.5 528.1 1090.6 558.2 1090.8 522.6 1090.9 532.5 1091.0 539.8 1091.2 500.0 1091.3 530.1 1091.5 554.5 1091.6 553.8 1091.8 514.6 1091.9 521.9 1092.0 517.2 1092.2 533.9 1092.3 537.4 1092.5 507.5 1092.6 545.2 1092.7 540.5 1092.9 537.9 1093.0 526.3 1093.2 536.0 1093.3 504.9 1093.4 544.5 1093.6 544.2 1093.7 538.2 1093.9 517.3 1094.0 565.5 1094.1 562.9 1094.3 504.2 1094.4 549.2 1094.6 544.2 1094.7 526.9 1094.8 551.7 1095.0 554.4 1095.1 555.9 1095.3 545.2 1095.4 529.4 1095.5 532.3 1095.7 552.5 1095.8 565.6 1096.0 533.3 1096.1 537.6 1096.2 556.8 1096.4 501.3 1096.5 552.2 1096.6 539.1 1096.8 501.0 1096.9 559.0 1097.1 526.3 1097.2 559.7 1097.3 571.3 1097.5 520.4 1097.6 521.4 1097.8 544.7 1097.9 511.0 1098.0 559.5 1098.2 549.1 1098.3 564.8 1098.4 510.1 1098.6 549.9 1098.7 555.2 1098.9 511.3 1099.0 563.9 1099.1 519.8 1099.3 550.4 1099.4 521.4 1099.5 562.5 1099.7 580.6 1099.8 548.7 1100.0 548.4 1100.1 573.3 1100.2 539.4 1100.4 549.3 1100.5 564.5 1100.6 557.0 1100.8 579.7 1100.9 572.6 1101.0 587.0 1101.2 549.4 1101.3 571.9 1101.5 534.3 1101.6 568.2 1101.7 585.0 1101.9 548.9 1102.0 526.8 1102.1 548.1 1102.3 565.6 1102.4 534.7 1102.5 562.8 1102.7 562.8 1102.8 542.9 1102.9 542.1 1103.1 534.7 1103.2 558.9 1103.4 577.9 1103.5 559.0 1103.6 560.8 1103.8 524.6 1103.9 542.4 1104.0 567.1 1104.2 531.7 1104.3 561.0 1104.4 570.4 1104.6 558.0 1104.7 550.3 1104.8 573.3 1105.0 563.2 1105.1 569.4 1105.2 566.0 1105.4 542.3 1105.5 534.0 1105.6 548.3 1105.8 559.4 1105.9 552.3 1106.0 574.8 1106.2 561.4 1106.3 575.6 1106.5 558.9 1106.6 542.6 1106.7 573.5 1106.9 566.8 1107.0 540.6 1107.1 549.2 1107.3 570.8 1107.4 552.4 1107.5 579.9 1107.7 558.9 1107.8 556.5 1107.9 552.1 1108.1 547.9 1108.2 550.8 1108.3 549.5 1108.5 552.3 1108.6 574.3 1108.7 566.2 1108.9 555.1 1109.0 553.1 1109.1 532.5 1109.3 580.5 1109.4 538.2 1109.5 556.8 1109.6 580.2 1109.8 574.4 1109.9 566.4 1110.0 549.4 1110.2 583.5 1110.3 538.4 1110.4 516.5 1110.6 563.4 1110.7 576.4 1110.8 572.8 1111.0 602.0 1111.1 577.3 1111.2 556.3 1111.4 557.1 1111.5 578.9 1111.6 560.0 1111.8 558.7 1111.9 526.3 1112.0 555.5 1112.2 535.9 1112.3 566.6 1112.4 564.8 1112.5 576.5 1112.7 598.2 1112.8 558.9 1112.9 591.6 1113.1 540.2 1113.2 566.1 1113.3 582.2 1113.5 602.5 1113.6 541.3 1113.7 558.4 1113.9 566.5 1114.0 561.8 1114.1 544.8 1114.2 531.3 1114.4 539.6 1114.5 562.8 1114.6 537.6 1114.8 600.4 1114.9 589.6 1115.0 526.7 1115.2 555.2 1115.3 592.0 1115.4 594.6 1115.5 588.1 1115.7 536.9 1115.8 558.5 1115.9 591.8 1116.1 568.2 1116.2 557.1 1116.3 576.6 1116.5 586.4 1116.6 569.5 1116.7 571.8 1116.8 588.7 1117.0 555.8 1117.1 548.9 1117.2 582.9 1117.4 543.4 1117.5 577.8 1117.6 553.1 1117.7 585.0 1117.9 544.1 1118.0 591.2 1118.1 574.2 1118.3 562.4 1118.4 551.3 1118.5 565.7 1118.6 550.3 1118.8 544.9 1118.9 591.0 1119.0 581.5 1119.2 594.5 1119.3 542.3 1119.4 530.4 1119.5 537.9 1119.7 583.3 1119.8 586.6 1119.9 532.9 1120.1 591.2 1120.2 561.8 1120.3 546.5 1120.4 569.3 1120.6 582.5 1120.7 566.8 1120.8 567.7 1120.9 554.4 1121.1 542.8 1121.2 564.1 1121.3 538.9 1121.5 584.1 1121.6 554.8 1121.7 598.8 1121.8 540.2 1122.0 601.0 1122.1 554.7 1122.2 554.7 1122.3 578.9 1122.5 591.4 1122.6 572.4 1122.7 566.1 1122.8 614.0 1123.0 584.0 1123.1 549.4 1123.2 568.6 1123.4 608.5 1123.5 580.9 1123.6 591.1 1123.7 615.8 1123.9 562.6 1124.0 582.4 1124.1 561.4 1124.2 575.0 1124.4 586.2 1124.5 548.2 1124.6 578.5 1124.7 578.5 1124.9 597.2 1125.0 563.9 1125.1 550.2 1125.2 584.3 1125.4 553.5 1125.5 580.2 1125.6 588.2 1125.7 558.9 1125.9 574.4 1126.0 555.9 1126.1 561.6 1126.2 547.6 1126.4 534.8 1126.5 577.8 1126.6 555.8 1126.7 574.8 1126.9 576.9 1127.0 599.7 1127.1 571.0 1127.2 570.1 1127.4 588.7 1127.5 611.5 1127.6 577.1 1127.7 585.8 1127.9 575.1 1128.0 564.8 1128.1 547.8 1128.2 577.8 1128.4 574.1 1128.5 574.6 1128.6 620.3 1128.7 573.1 1128.9 586.9 1129.0 573.2 1129.1 604.5 1129.2 574.7 1129.3 618.7 1129.5 575.5 1129.6 596.9 1129.7 602.0 1129.8 576.5 1130.0 599.0 1130.1 582.9 1130.2 566.3 1130.3 568.2 1130.5 588.9 1130.6 618.7 1130.7 572.3 1130.8 593.6 1131.0 566.2 1131.1 588.0 1131.2 556.3 1131.3 566.9 1131.4 583.1 1131.6 568.0 1131.7 577.9 1131.8 604.3 1131.9 581.2 1132.1 569.3 1132.2 559.0 1132.3 573.6 1132.4 608.3 1132.5 583.3 1132.7 582.2 1132.8 600.2 1132.9 602.9 1133.0 606.5 1133.2 578.9 1133.3 567.8 1133.4 552.6 1133.5 573.0 1133.6 579.6 1133.8 602.4 1133.9 594.3 1134.0 576.4 1134.1 606.3 1134.3 562.7 1134.5 564.9 1134.6 566.8 1134.7 584.2 1134.9 572.3 1135.0 574.3 1135.1 617.5 1135.2 560.4 1135.3 569.5 1135.5 586.0 1135.6 600.2 1135.7 601.3 1135.8 586.2 1135.9 584.3 1136.1 586.6 1136.2 607.6 1136.3 573.7 1136.4 592.1 1136.6 596.9 1136.7 569.4 1136.8 592.4 1136.9 622.3 1137.0 596.1 1137.2 631.9 1137.3 562.0 1137.4 599.7 1137.5 603.1 1137.6 612.3 1137.8 580.6 1138.0 598.6 1138.1 598.2 1138.2 568.5 1138.4 561.5 1138.5 608.2 1138.6 604.5 1138.7 598.4 1138.8 611.0 1139.0 620.3 1139.1 574.6 1139.2 614.7 1139.3 629.5 1139.4 620.2 1139.6 611.7 1139.7 614.3 1139.8 570.6 1139.9 590.3 1140.0 621.7 1140.1 631.4 1140.3 610.7 1140.4 592.2 1140.5 599.0 1140.7 643.9 1141.0 592.3 1141.1 616.1 1141.2 612.5 1141.3 609.3 1141.5 616.4 1141.6 605.2 1141.7 603.1 1141.8 579.7 1141.9 583.6 1142.0 595.6 1142.2 589.0 1142.3 609.9 1142.4 608.2 1142.5 625.8 1142.6 637.8 1143.0 569.3 1143.1 615.5 1143.2 621.5 1143.3 592.4 1143.5 600.4 1143.6 594.3 1143.7 630.7 1143.8 621.9 1143.9 634.4 1144.0 584.8 1144.2 596.4 1144.3 592.5 1144.4 589.2 1144.5 614.4 1144.8 648.3 1145.0 597.3 1145.1 631.7 1145.2 637.0 1145.3 594.8 1145.5 602.4 1145.6 605.1 1145.7 609.4 1145.8 648.1 1145.9 639.0 1146.0 635.3 1146.2 639.8 1146.3 614.2 1146.4 632.0 1146.5 612.7 1146.7 649.0 1146.9 578.7 1147.0 615.2 1147.1 603.4 1147.2 581.3 1147.3 607.9 1147.4 617.3 1147.6 625.6 1147.7 599.3 1147.8 632.1 1147.9 623.1 1148.0 633.7 1148.1 577.5 1148.5 629.7 1148.6 602.8 1148.7 607.7 1148.8 594.9 1148.9 594.0 1149.1 599.6 1149.2 639.0 1149.3 597.4 1149.4 651.2 1149.5 625.7 1149.6 610.5 1149.7 631.5 1150.0 614.1 1150.1 612.1 1150.2 609.6 1150.3 621.0 1150.4 605.4 1150.6 625.7 1150.7 650.4 1150.8 608.4 1150.9 609.4 1151.0 609.5 1151.5 688.6 1151.6 626.5 1151.7 633.5 1151.8 597.4 1151.9 636.2 1152.0 628.4 1152.2 668.0 1152.4 608.6 1152.5 614.2 1152.6 644.2 1152.7 583.7 1152.8 607.6 1153.0 634.4 1153.1 640.3 1153.2 630.9 1153.3 651.3 1153.4 621.8 1153.5 629.4 1153.7 605.1 1154.0 616.6 1154.1 629.7 1154.2 628.0 1154.3 630.5 1154.4 617.2 1154.5 615.8 1155.0 654.8 1155.1 647.3 1155.2 649.1 1155.3 636.9 1155.4 630.1 1155.6 603.1 1155.7 622.1 1155.8 654.8 1155.9 645.7 1156.0 619.9 1156.5 664.0 1156.6 615.0 1156.7 647.1 1156.8 645.2 1156.9 634.5 1157.0 637.3 1157.2 584.4 1157.5 655.2 1157.6 639.9 1157.7 655.3 1157.8 607.5 1157.9 630.6 1158.0 639.0 1158.3 657.0 1158.5 622.0 1158.6 649.6 1158.7 649.7 1158.8 623.9 1158.9 646.0 1159.0 641.0 1159.3 607.5 1159.4 659.9 1159.5 647.0 1159.6 633.2 1159.7 641.0 1159.8 640.9 1159.9 627.7 1160.0 622.0 1160.1 636.3 1160.5 610.4 1160.6 628.9 1160.7 655.6 1160.8 639.3 1160.9 636.0 1161.0 628.5 1161.3 604.3 1161.4 669.7 1161.5 620.4 1161.6 604.5 1161.7 644.0 1161.8 641.1 1161.9 625.2 1162.0 605.4 1162.3 668.8 1162.5 622.9 1162.6 675.2 1162.7 625.4 1162.8 617.6 1162.9 648.2 1163.0 644.6 1163.1 669.6 1163.5 602.2 1163.6 647.1 1163.7 624.1 1163.8 628.2 1163.9 622.6 1164.0 655.4 1164.1 671.9 1164.4 628.0 1164.6 649.4 1164.7 617.2 1165.0 674.6 1165.1 642.2 1165.2 610.6 1165.3 606.7 1165.4 630.6 1165.5 624.5 1165.9 601.4 1166.0 684.2 1166.1 602.2 1166.2 650.0 1166.3 665.1 1166.4 633.2 1166.5 635.5 1166.8 615.2 1167.0 666.2 1167.1 630.5 1167.2 679.6 1167.3 620.8 1167.5 643.2 1167.6 666.5 1167.7 652.0 1167.8 644.6 1167.9 622.1 1168.0 660.7 1168.1 602.8 1168.5 629.2 1168.6 614.2 1168.7 622.7 1168.8 673.1 1168.9 617.3 1169.0 646.0 1169.2 663.8 1169.3 613.7 1169.4 642.4 1169.5 661.4 1169.7 690.1 1169.8 617.7 1170.0 641.7 1170.1 674.0 1170.2 621.4 1170.3 660.3 1170.4 629.9 1170.5 621.3 1170.6 609.7 1170.8 664.1 1170.9 641.3 1171.0 598.8 1171.3 664.2 1171.5 649.8 1171.6 675.3 1171.7 617.3 1171.8 618.1 1171.9 681.9 1172.0 658.6 1172.2 634.3 1172.4 662.6 1172.5 601.1 1172.9 677.2 1173.0 636.9 1173.1 653.4 1173.4 610.3 1173.5 690.6 1173.6 625.5 1173.7 658.0 1173.8 602.6 1173.9 684.1 1174.0 655.7 1174.1 689.1 1174.2 632.5 1174.4 642.9 1174.6 645.7 1174.8 627.5 1175.0 688.4 1175.1 684.3 1175.4 626.5 1175.5 677.9 1175.6 632.8 1175.7 673.1 1175.8 640.4 1175.9 647.8 1176.0 647.5 1176.1 660.6 1176.4 636.6 1176.5 659.1 1176.9 629.8 1177.0 654.9 1177.1 648.8 1177.4 627.3 1177.5 663.5 1177.6 633.7 1177.7 654.1 1177.8 603.8 1177.9 658.8 1178.0 662.3 1178.1 628.5 1178.4 677.7 1178.5 662.4 1178.8 610.6 1179.0 641.5 1179.1 660.0 1179.2 666.1 1179.4 643.4 1179.5 652.0 1179.6 635.7 1179.8 672.6 1180.0 667.2 1180.1 632.3 1180.2 638.5 1180.3 656.3 1180.4 692.3 1180.5 670.8 1180.6 685.8 1180.9 613.6 1181.0 660.8 1181.1 605.1 1181.2 676.0 1181.4 674.8 1181.5 658.6 1181.7 634.2 1182.0 682.2 1182.1 663.7 1182.4 635.3 1182.5 645.9 1182.6 648.6 1182.9 616.9 1183.0 684.1 1183.1 656.0 1183.2 683.4 1183.4 646.7 1183.5 652.8 1183.6 655.7 1183.7 636.9 1183.8 643.0 1183.9 692.0 1184.0 671.3 1184.3 633.4 1184.4 681.4 1184.5 629.8 1184.6 670.6 1184.9 634.3 1185.0 646.1 1185.2 633.3 1185.3 661.6 1185.4 650.4 1185.5 644.5 1185.8 636.6 1185.9 680.6 1186.0 665.6 1186.1 676.4 1186.4 634.6 1186.5 646.4 1186.6 688.2 1186.7 603.4 1187.0 683.8 1187.1 669.5 1187.3 646.8 1187.5 677.3 1187.6 651.8 1187.7 688.5 1187.8 642.3 1188.0 652.5 1188.1 650.2 1188.5 612.8 1188.6 678.3 1188.8 645.8 1189.0 659.8 1189.1 618.8 1189.2 672.8 1189.5 670.4 1189.6 666.8 1189.7 632.4 1190.0 675.2 1190.1 680.7 1190.4 687.7 1190.5 636.3 1190.6 665.2 1190.8 618.0 1191.0 658.0 1191.1 652.9 1191.2 658.6 1191.4 636.9 1191.5 653.6 1191.6 643.4 1191.7 612.7 1191.9 683.3 1192.0 630.3 1192.1 658.4 1192.3 662.0 1192.5 618.4 1192.6 655.4 1192.7 630.5 1193.0 665.8 1193.1 650.5 1193.4 610.7 1193.5 626.3 1193.5 662.1 1193.9 621.5 1194.0 668.1 1194.3 622.7 1194.4 628.0 1194.5 656.5 1194.6 658.4 1194.9 616.9 1195.0 668.1 1195.2 690.5 1195.4 627.1 1195.5 645.4 1195.6 630.8 1195.8 657.6 1195.9 640.4 1196.0 641.7 1196.1 611.5 1196.5 662.1 1196.6 640.2 1196.8 626.3 1196.9 659.5 1197.0 638.5 1197.1 626.1 1197.2 633.7 1197.3 608.0 1197.5 629.0 1197.6 638.7 1198.0 591.5 1198.1 639.3 1198.4 660.1 1198.4 632.3 1198.5 634.8 1198.7 625.9 1198.9 664.9 1199.0 599.4 1199.4 644.1 1199.5 605.4 1199.7 599.1 1200.0 648.1 1200.1 627.6 1200.2 613.1 1200.4 636.2 1200.5 633.0 1200.6 627.6 1200.9 650.8 1201.0 620.2 1201.1 641.8 1201.2 603.6 1201.3 651.9 1201.4 624.2 1201.5 624.6 1201.6 595.0 1201.7 633.4 1201.9 601.0 1202.0 621.4 1202.1 643.2 1202.4 618.5 1202.5 648.6 1202.8 557.9 1203.0 618.9 1203.1 629.7 1203.2 613.6 1203.5 665.2 1203.6 645.3 1203.7 628.4 1203.8 646.9 1203.9 639.2 1204.0 572.0 1204.2 650.6 1204.4 635.3 1204.5 594.4 1204.7 636.3 1205.0 620.8 1205.1 633.6 1205.2 562.4 1205.4 647.6 1205.5 621.3 1205.6 631.8 1205.7 612.0 1205.8 639.6 1205.9 635.8 1206.0 599.1 1206.2 644.6 1206.5 619.5 1206.6 596.0 1206.9 636.3 1207.0 614.1 1207.1 615.9 1207.2 596.8 1207.3 624.6 1207.4 609.2 1207.5 637.0 1207.6 638.0 1207.7 611.9 1207.9 634.7 1208.0 622.8 1208.2 651.7 1208.4 595.4 1208.5 618.7 1208.6 651.2 1208.9 609.9 1209.0 626.9 1209.1 644.4 1209.4 598.2 1209.5 593.4 1210.0 667.8 1210.1 610.6 1210.3 641.0 1210.4 576.2 1210.5 578.8 1210.9 664.6 1211.0 623.4 1211.1 640.5 1211.2 650.2 1211.4 615.9 1211.5 618.8 1211.6 598.1 1211.7 574.3 1211.9 630.5 1212.0 623.5 1212.1 570.4 1212.3 630.7 1212.5 628.9 1212.6 626.0 1212.7 575.5 1212.9 585.6 1213.0 611.2 1213.3 592.5 1213.5 660.3 1213.6 598.4 1213.9 620.3 1214.0 606.4 1214.0 560.6 1214.1 617.6 1214.4 604.7 1214.5 597.7 1214.6 614.0 1214.9 533.7 1215.0 613.3 1215.1 608.0 1215.3 590.0 1215.4 645.3 1215.5 609.4 1215.7 582.7 1215.9 644.2 1216.0 634.0 1216.1 607.6 1216.4 583.1 1216.5 588.0 1216.8 609.3 1216.9 564.4 1217.0 607.2 1217.1 618.7 1217.2 582.2 1217.4 601.7 1217.5 623.6 1217.6 557.8 1218.0 641.0 1218.1 650.0 1218.2 588.9 1218.4 600.3 1218.5 594.2 1218.7 579.7 1219.0 627.7 1219.1 590.8 1219.4 614.6 1219.5 570.9 1219.8 635.4 1220.0 577.6 1220.1 576.0 1220.2 588.2 1220.4 559.9 1220.5 635.8 1220.7 578.7 1221.0 619.5 1221.0 612.6 1221.1 616.9 1221.3 529.7 1221.5 563.2 1221.6 595.4 1221.8 623.7 1221.9 553.5 1222.0 594.4 1222.2 596.9 1222.3 566.3 1222.5 593.5 1222.6 608.6 1222.8 558.8 1222.9 586.4 1223.0 596.0 1223.1 612.6 1223.3 585.2 1223.5 588.3 1223.6 558.0 1223.7 607.9 1223.9 547.5 1224.0 589.2 1224.1 555.2 1224.2 613.5 1224.4 573.3 1224.5 544.6 1225.0 626.7 1225.1 557.4 1225.2 544.7 1225.4 605.2 1225.5 596.2 1225.7 626.3 1225.8 554.5 1225.9 597.0 1226.0 594.7 1226.1 620.9 1226.5 512.0 1226.6 596.7 1226.7 567.0 1226.9 580.5 1227.0 573.2 1227.3 570.5 1227.4 612.6 1227.4 600.1 1227.5 569.7 1227.6 603.1 1227.9 557.5 1228.0 595.2 1228.1 587.5 1228.4 551.4 1228.5 568.7 1228.6 612.2 1228.8 550.2 1228.9 604.9 1229.0 604.6 1229.1 606.2 1229.3 543.2 1229.5 603.4 1229.5 579.9 1229.8 557.4 1230.0 606.1 1230.1 607.9 1230.2 564.8 1230.3 615.9 1230.5 573.4 1230.6 554.8 1230.8 545.5 1230.8 616.2 1230.9 587.3 1231.0 567.4 1231.1 584.6 1231.2 537.1 1231.5 538.4 1231.5 559.8 1231.6 581.9 1231.9 540.1 1232.0 577.7 1232.1 532.8 1232.4 613.3 1232.5 575.8 1232.6 574.4 1232.7 585.2 1232.8 527.7 1232.9 542.8 1233.0 542.7 1233.4 582.7 1233.4 573.9 1233.5 615.2 1233.7 547.5 1234.0 566.9 1234.0 591.1 1234.3 553.7 1234.5 582.3 1234.6 555.3 1234.8 603.7 1235.0 572.4 1235.1 568.6 1235.2 597.1 1235.5 534.3 1235.6 584.8 1235.8 589.8 1235.9 566.2 1236.0 557.4 1236.2 537.9 1236.3 598.2 1236.4 539.7 1236.5 594.6 1236.7 600.0 1236.9 563.6 1237.0 540.1 1237.1 581.6 1237.5 543.2 1237.5 587.8 1237.8 546.2 1238.0 566.3 1238.0 549.2 1238.3 585.7 1238.4 526.6 1238.5 534.9 1238.6 607.5 1238.6 549.4 1239.0 552.4 1239.1 514.3 1239.1 572.1 1239.5 536.8 1239.6 589.9 1239.9 526.9 1240.0 565.3 1240.1 566.0 1240.2 515.5 1240.2 578.2 1240.5 560.4 1240.6 543.3 1240.7 509.0 1240.9 601.6 1241.0 566.6 1241.1 569.1 1241.3 521.5 1241.5 566.3 1241.6 586.4 1241.9 500.6 1242.0 543.3 1242.1 582.6 1242.3 512.8 1242.5 524.0 1242.6 559.1 1242.7 603.4 1243.0 530.9 1243.1 528.0 1243.2 515.0 1243.4 590.0 1243.5 520.0 1243.6 559.1 1243.7 574.3 1243.8 523.6 1244.0 526.1 1244.1 596.8 1244.2 599.0 1244.2 523.4 1244.5 555.5 1244.6 540.6 1244.7 558.0 1244.8 507.4 1245.0 541.8 1245.1 527.0 1245.2 566.1 1245.5 539.0 1245.6 565.7 1245.7 567.9 1246.0 513.7 1246.1 536.4 1246.3 573.0 1246.4 510.9 1246.5 561.7 1246.6 538.9 1246.6 571.9 1247.0 546.3 1247.0 514.8 1247.2 552.5 1247.5 530.3 1247.5 547.9 1247.7 504.0 1247.9 576.9 1247.9 558.9 1248.0 574.5 1248.3 514.0 1248.4 562.4 1248.5 557.4 1248.8 519.5 1248.9 556.8 1249.0 551.3 1249.2 483.7 1249.3 552.9 1249.5 527.4 1249.6 550.0 1249.7 519.7 1249.9 582.4 1250.0 568.8 1250.1 565.4 1250.2 567.0 1250.4 508.0 1250.5 537.6 1250.5 539.7 1250.7 575.0 1250.9 484.4 1251.0 523.3 1251.0 570.9 1251.3 535.1 1251.4 539.0 1251.5 533.7 1251.7 493.3 1251.8 553.5 1251.9 539.2 1252.0 541.7 1252.1 554.3 1252.2 511.2 1252.5 527.8 1252.6 532.3 1252.8 501.6 1252.9 555.9 1253.0 509.5 1253.0 502.5 1253.2 539.9 1253.5 536.5 1253.5 546.5 1253.7 547.4 1253.8 484.2 1253.9 515.2 1254.0 519.4 1254.3 573.9 1254.5 492.8 1254.6 514.6 1254.7 509.7 1255.0 565.4 1255.1 518.7 1255.1 493.0 1255.4 555.1 1255.5 546.0 1255.8 495.5 1255.9 522.0 1256.0 512.9 1256.3 560.7 1256.4 502.2 1256.5 535.2 1256.6 518.7 1256.6 543.7 1257.0 498.5 1257.0 493.2 1257.3 547.1 1257.4 509.2 1257.5 538.5 1257.7 472.8 1257.8 552.0 1258.0 512.8 1258.1 512.3 1258.1 482.0 1258.4 529.3 1258.5 516.7 1258.5 481.8 1258.7 529.7 1258.9 527.2 1259.0 463.0 1259.1 528.6 1259.5 493.3 1259.6 538.5 1259.8 554.8 1260.0 484.9 1260.0 474.5 1260.2 560.7 1260.4 506.9 1260.5 527.5 1260.6 537.8 1261.0 498.9 1261.0 466.5 1261.1 511.1 1261.4 486.6 1261.5 520.6 1261.6 532.6 1261.8 491.4 1262.0 504.0 1262.1 522.8 1262.3 539.9 1262.5 447.1 1262.5 508.2 1262.6 556.4 1262.8 488.2 1263.0 490.5 1263.1 475.6 1263.2 557.0 1263.4 472.8 1263.5 516.3 1263.5 468.8 1263.8 538.4 1263.9 510.6 1264.0 503.0 1264.3 464.2 1264.5 555.8 1264.5 463.6 1264.6 523.8 1264.9 504.6 1265.0 492.7 1265.3 484.9 1265.4 538.7 1265.5 520.8 1265.5 526.6 1265.9 527.1 1265.9 482.8 1266.0 479.7 1266.2 506.6 1266.4 466.2 1266.5 482.7 1266.5 471.6 1266.6 522.1 1266.8 465.2 1266.9 495.5 1267.0 505.1 1267.5 461.2 1267.5 502.9 1267.8 473.6 1267.9 524.7 1268.0 521.4 1268.1 479.2 1268.1 532.1 1268.3 472.1 1268.5 501.2 1268.5 548.1 1268.9 483.2 1269.0 492.8 1269.1 492.1 1269.3 455.5 1269.4 513.7 1269.4 477.4 1269.5 486.2 1269.6 473.1 1269.8 522.2 1270.0 495.5 1270.0 479.0 1270.2 497.0 1270.5 465.9 1270.6 540.7 1270.9 472.6 1271.0 484.4 1271.0 527.7 1271.2 461.7 1271.4 544.1 1271.5 491.3 1271.6 496.0 1271.7 521.5 1271.9 447.8 1271.9 468.9 1272.0 445.1 1272.5 515.8 1272.5 491.3 1272.7 455.7 1272.8 543.5 1273.0 501.8 1273.1 496.5 1273.1 435.5 1273.2 512.3 1273.4 477.3 1273.5 515.3 1273.7 453.9 1274.0 469.7 1274.0 487.9 1274.2 450.7 1274.5 504.0 1274.6 541.4 1274.6 447.6 1275.0 538.7 1275.1 473.2 1275.3 514.5 1275.4 433.2 1275.4 463.2 1275.5 473.8 1275.7 508.6 1275.9 466.6 1276.0 482.8 1276.0 463.1 1276.3 504.1 1276.4 457.1 1276.5 469.3 1276.6 483.0 1276.8 497.3 1276.9 440.9 1277.0 515.0 1277.1 522.5 1277.4 447.1 1277.4 489.1 1277.5 477.5 1277.8 510.9 1277.9 452.4 1278.0 462.9 1278.0 515.5 1278.5 451.8 1278.5 464.9 1278.7 514.3 1279.0 452.1 1279.1 495.8 1279.4 449.8 1279.5 446.3 1279.6 445.8 1279.7 510.3 1279.9 475.8 1280.0 508.2 1280.1 476.4 1280.2 511.2 1280.5 487.5 1280.5 476.1 1280.6 537.1 1281.0 436.6 1281.0 509.6 1281.3 447.1 1281.3 523.2 1281.5 506.0 1281.5 470.3 1281.6 486.1 1281.8 447.7 1282.0 463.3 1282.1 476.3 1282.3 431.7 1282.3 499.7 1282.5 486.2 1282.6 469.7 1282.8 448.6 1282.9 512.9 1283.0 452.2 1283.1 505.2 1283.4 445.6 1283.4 487.0 1283.5 468.5 1283.6 490.9 1283.7 430.7 1283.9 477.2 1284.0 488.5 1284.1 446.5 1284.4 508.8 1284.4 452.9 1284.5 474.7 1284.8 487.4 1284.9 456.5 1285.0 440.6 1285.2 428.0 1285.4 471.7 1285.4 446.3 1285.5 499.4 1285.7 509.1 1285.9 414.5 1285.9 446.5 1286.0 452.6 1286.2 436.7 1286.2 489.8 1286.4 454.2 1286.5 486.5 1286.7 503.6 1286.8 444.6 1286.9 455.0 1287.0 501.2 1287.4 431.6 1287.4 503.8 1287.5 484.3 1287.6 503.3 1287.7 438.8 1287.9 452.9 1288.0 484.3 1288.1 427.1 1288.4 459.8 1288.5 457.8 1288.7 427.9 1288.9 488.2 1289.0 447.4 1289.2 443.9 1289.3 484.3 1289.4 479.9 1289.5 431.2 1289.6 474.6 1289.9 470.3 1290.0 433.4 1290.1 481.4 1290.4 421.9 1290.5 478.7 1290.6 460.6 1290.9 437.2 1291.0 488.2 1291.1 437.1 1291.1 516.5 1291.5 463.6 1291.5 474.0 1291.7 409.1 1291.9 487.4 1292.0 410.4 1292.0 462.1 1292.2 424.6 1292.3 501.6 1292.5 446.8 1292.5 503.1 1292.8 416.7 1293.0 443.2 1293.0 455.0 1293.1 410.5 1293.3 497.4 1293.4 456.5 1293.5 426.8 1293.7 498.7 1294.0 419.9 1294.1 474.6 1294.1 416.4 1294.5 451.5 1294.6 462.4 1294.6 462.9 1294.8 433.6 1295.0 440.6 1295.0 494.6 1295.1 424.9 1295.5 469.0 1295.5 438.7 1295.9 484.4 1295.9 435.9 1296.0 446.7 1296.1 442.2 1296.3 484.4 1296.5 457.4 1296.6 407.5 1296.8 480.7 1297.0 454.5 1297.0 445.0 1297.2 471.8 1297.4 424.8 1297.5 441.7 1297.5 448.6 1297.7 434.2 1297.9 470.3 1297.9 456.8 1298.0 424.0 1298.1 503.5 1298.2 422.5 1298.5 441.0 1298.6 480.9 1298.7 403.6 1299.0 474.7 1299.0 434.9 1299.2 426.4 1299.3 470.3 1299.4 450.8 1299.5 463.2 1299.9 389.3 1300.0 499.3 1300.1 470.9 1300.1 433.7 1300.2 503.2 1300.5 443.2 1300.5 410.0 1300.9 472.1 1300.9 432.5 1301.0 486.3 1301.4 397.6 1301.5 433.2 1301.6 435.9 1301.8 477.9 1301.8 423.9 1302.0 439.0 1302.0 431.2 1302.1 411.2 1302.4 485.7 1302.4 460.9 1302.5 465.7 1302.8 423.7 1303.0 461.8 1303.0 449.7 1303.2 431.4 1303.4 473.4 1303.5 431.0 1303.6 410.9 1303.9 485.5 1304.0 419.4 1304.1 357.8 1304.4 475.6 1304.5 426.1 1304.5 441.8 1304.6 466.2 1304.9 426.1 1305.0 455.3 1305.1 426.9 1305.3 413.7 1305.3 459.4 1305.5 417.6 1305.5 455.0 1305.7 474.0 1305.9 414.2 1306.0 422.1 1306.1 461.4 1306.4 470.3 1306.5 414.9 1306.5 455.5 1306.7 416.4 1306.7 487.9 1307.0 419.9 1307.1 467.1 1307.2 439.2 1307.5 448.8 1307.5 453.6 1307.7 463.7 1307.8 382.9 1308.0 440.3 1308.1 429.4 1308.3 406.0 1308.5 474.4 1308.5 434.0 1308.7 399.1 1308.8 453.7 1309.0 437.4 1309.1 447.2 1309.2 480.1 1309.4 415.8 1309.4 454.7 1309.5 430.2 1309.6 447.8 1309.8 426.2 1310.0 431.7 1310.0 426.5 1310.2 459.5 1310.2 415.1 1310.4 455.6 1310.5 416.9 1311.0 483.5 1311.0 436.4 1311.1 382.2 1311.5 393.1 1311.6 426.3 1311.9 470.7 1311.9 399.5 1312.0 413.8 1312.1 392.7 1312.5 469.4 1312.5 404.4 1312.7 447.5 1312.8 396.8 1313.0 438.4 1313.1 382.1 1313.4 455.5 1313.5 445.1 1313.6 384.7 1314.0 449.1 1314.0 399.0 1314.4 467.8 1314.5 376.2 1314.6 395.3 1314.8 449.8 1314.9 385.7 1314.9 418.7 1315.0 457.6 1315.1 376.2 1315.5 440.4 1315.5 488.0 1315.8 392.6 1316.0 402.9 1316.0 459.8 1316.2 386.6 1316.5 455.8 1316.6 441.1 1316.8 456.5 1316.9 405.7 1316.9 415.7 1317.0 440.1 1317.1 396.0 1317.5 450.0 1317.5 393.2 1317.6 447.8 1317.8 371.6 1318.0 446.0 1318.0 385.0 1318.4 382.0 1318.5 463.6 1318.5 400.3 1318.6 383.5 1318.7 466.9 1319.0 428.2 1319.1 420.5 1319.2 382.3 1319.3 442.8 1319.5 415.2 1319.6 384.6 1319.8 452.0 1319.9 450.5 1320.0 374.8 1320.1 443.2 1320.5 399.3 1320.5 362.6 1320.8 458.7 1321.0 432.8 1321.0 410.8 1321.1 454.6 1321.5 394.8 1321.5 381.3 1321.7 445.8 1322.0 391.4 1322.0 394.7 1322.2 441.2 1322.5 416.7 1322.5 420.8 1322.8 459.9 1322.9 371.4 1323.0 436.2 1323.0 402.6 1323.4 384.0 1323.5 442.6 1323.5 396.7 1323.7 459.9 1323.9 368.2 1324.0 436.0 1324.0 402.1 1324.3 357.6 1324.4 432.9 1324.5 393.7 1324.6 425.5 1324.9 365.3 1325.0 457.9 1325.1 372.3 1325.1 362.2 1325.4 448.8 1325.5 443.4 1325.6 385.0 1325.6 461.2 1326.0 408.0 1326.0 418.7 1326.2 423.1 1326.5 340.0 1326.5 405.8 1326.7 456.4 1326.7 386.2 1327.0 440.6 1327.0 421.0 1327.3 429.5 1327.4 371.1 1327.5 405.6 1327.5 377.1 1327.6 373.7 1327.7 411.1 1328.0 404.1 1328.0 406.0 1328.2 454.0 1328.3 389.4 1328.5 410.1 1328.5 423.0 1328.7 435.1 1328.9 364.1 1329.0 380.2 1329.0 425.7 1329.3 381.0 1329.4 439.8 1329.5 436.1 1329.5 427.9 1329.7 449.7 1329.8 401.7 1329.9 425.7 1330.0 423.7 1330.3 371.9 1330.3 434.7 1330.5 420.5 1330.6 388.8 1330.6 384.7 1330.8 437.9 1331.0 411.9 1331.0 431.0 1331.2 360.4 1331.4 448.9 1331.5 371.7 1331.5 399.9 1331.6 429.6 1331.9 364.0 1332.0 373.6 1332.0 423.4 1332.1 376.9 1332.4 442.3 1332.5 430.6 1332.5 404.6 1332.8 365.5 1332.9 434.0 1332.9 420.9 1333.0 413.6 1333.1 366.5 1333.2 447.0 1333.5 438.7 1333.5 358.7 1333.6 446.4 1334.0 417.0 1334.0 397.8 1334.3 447.9 1334.3 375.5 1334.5 397.8 1334.5 368.7 1334.9 443.8 1335.0 381.7 1335.1 407.9 1335.3 423.2 1335.5 372.4 1335.5 410.5 1335.6 432.2 1335.7 368.6 1336.0 421.9 1336.0 405.3 1336.2 443.5 1336.4 318.1 1336.4 422.2 1336.5 373.0 1336.7 442.8 1337.0 430.0 1337.0 457.3 1337.3 375.3 1337.5 389.1 1337.5 418.9 1337.6 349.9 1337.9 422.0 1338.0 439.8 1338.1 445.9 1338.3 382.9 1338.5 418.6 1338.5 357.9 1338.7 452.7 1339.0 442.0 1339.0 398.8 1339.3 414.7 1339.5 386.5 1339.6 362.0 1339.7 437.4 1340.0 386.1 1340.0 377.5 1340.1 435.7 1340.3 369.9 1340.5 383.8 1340.6 434.9 1340.7 444.9 1340.8 365.5 1341.0 440.2 1341.0 402.6 1341.2 446.7 1341.3 379.5 1341.4 426.3 1341.5 358.0 1341.9 350.9 1341.9 435.2 1342.0 426.4 1342.0 396.2 1342.2 354.4 1342.4 435.1 1342.5 399.6 1342.6 422.7 1342.7 367.7 1343.0 401.5 1343.0 374.5 1343.2 450.7 1343.2 347.9 1343.4 397.2 1343.5 366.3 1343.6 354.7 1343.7 423.7 1344.0 405.9 1344.0 447.6 1344.2 359.5 1344.5 386.7 1344.6 404.5 1344.7 417.7 1345.0 348.5 1345.0 363.1 1345.3 429.5 1345.5 404.8 1345.5 425.7 1345.6 382.7 1346.0 434.4 1346.0 397.3 1346.4 444.1 1346.5 382.6 1346.5 387.9 1346.9 375.1 1347.0 427.6 1347.1 361.1 1347.1 430.9 1347.5 379.6 1347.5 389.8 1347.7 353.3 1348.0 431.3 1348.0 388.4 1348.4 353.3 1348.5 417.1 1348.6 385.8 1348.7 412.3 1348.9 369.0 1349.0 391.1 1349.0 440.6 1349.1 337.3 1349.5 377.1 1349.5 371.3 1349.8 348.1 1349.9 441.4 1350.0 427.8 1350.0 407.7 1350.1 348.2 1350.2 416.8 1350.4 415.4 1350.5 390.2 1350.8 355.1 1351.0 416.4 1351.0 407.2 1351.1 352.5 1351.5 364.2 1351.5 362.6 1351.8 415.9 1352.0 385.4 1352.0 409.6 1352.3 362.7 1352.4 415.5 1352.4 411.4 1352.5 400.9 1352.8 423.1 1352.9 375.3 1353.0 397.0 1353.0 386.8 1353.2 364.4 1353.5 429.5 1353.5 429.7 1353.8 363.4 1354.0 405.3 1354.0 426.1 1354.4 435.3 1354.4 358.1 1354.5 396.0 1354.5 371.1 1354.7 353.3 1354.8 411.4 1355.0 390.0 1355.0 411.9 1355.2 336.1 1355.3 429.9 1355.5 396.3 1355.6 393.6 1355.7 368.0 1355.8 407.3 1355.9 369.9 1356.0 391.6 1356.2 328.9 1356.3 391.7 1356.4 363.0 1356.5 375.0 1356.6 398.1 1356.7 356.6 1357.0 388.8 1357.0 399.6 1357.1 350.3 1357.3 425.0 1357.5 417.2 1357.5 364.7 1357.8 438.3 1358.0 374.6 1358.0 401.6 1358.1 365.8 1358.3 415.1 1358.5 371.6 1358.5 410.5 1358.7 364.6 1359.0 374.8 1359.0 390.4 1359.1 371.7 1359.4 440.8 1359.5 379.2 1359.5 418.3 1359.8 432.3 1359.9 326.0 1360.0 370.9 1360.0 370.2 1360.3 398.9 1360.5 357.2 1360.5 365.5 1361.0 417.4 1361.0 422.5 1361.1 348.8 1361.4 404.2 1361.5 412.4 1361.6 352.1 1361.9 430.1 1362.0 416.6 1362.1 349.2 1362.1 419.8 1362.5 382.8 1362.5 386.8 1362.9 339.3 1363.0 424.4 1363.0 424.4 1363.5 344.9 1363.5 373.7 1363.8 428.5 1363.9 325.2 1364.0 371.2 1364.0 321.8 1364.2 415.8 1364.5 353.0 1364.5 359.4 1364.7 430.6 1364.9 346.4 1364.9 357.8 1365.0 414.2 1365.3 426.8 1365.3 350.7 1365.5 372.5 1365.5 404.0 1365.9 421.1 1365.9 351.4 1366.0 388.4 1366.0 359.3 1366.1 358.7 1366.1 416.1 1366.5 369.6 1366.5 396.2 1366.6 403.5 1367.0 353.1 1367.0 368.6 1367.2 337.4 1367.2 394.7 1367.5 365.2 1367.5 361.3 1367.7 327.4 1367.8 398.0 1368.0 367.4 1368.0 325.4 1368.1 432.9 1368.5 385.2 1368.5 362.3 1368.9 351.9 1369.0 433.1 1369.0 420.7 1369.2 339.8 1369.5 374.1 1369.5 369.8 1369.7 422.6 1369.9 326.6 1370.0 359.4 1370.0 359.3 1370.1 449.5 1370.2 325.5 1370.5 346.1 1370.5 419.3 1370.6 330.0 1371.0 358.3 1371.0 352.9 1371.3 388.7 1371.3 348.5 1371.5 380.9 1371.5 355.8 1371.7 417.7 1372.0 333.6 1372.0 324.5 1372.4 381.7 1372.5 340.7 1372.5 325.0 1372.6 415.2 1373.0 324.4 1373.0 365.3 1373.4 417.2 1373.5 352.8 1373.5 374.9 1373.6 352.7 1373.7 406.6 1374.0 382.0 1374.0 402.8 1374.3 349.5 1374.4 404.9 1374.5 395.0 1374.5 393.0 1374.6 366.5 1374.9 419.4 1375.0 373.4 1375.0 407.3 1375.3 333.0 1375.5 358.2 1375.5 427.9 1375.9 334.9 1376.0 400.8 1376.0 386.6 1376.1 400.4 1376.5 341.6 1376.5 386.9 1376.7 341.3 1377.0 400.9 1377.0 415.1 1377.4 327.5 1377.4 383.8 1377.5 393.7 1377.6 399.4 1378.0 340.7 1378.0 334.0 1378.2 327.8 1378.3 385.4 1378.5 335.2 1378.5 387.8 1378.6 391.9 1378.7 346.6 1379.0 385.4 1379.0 344.1 1379.3 397.0 1379.4 320.1 1379.5 384.7 1379.5 381.7 1379.6 357.5 1379.9 433.7 1380.0 385.7 1380.0 403.2 1380.4 342.2 1380.5 367.1 1380.5 354.7 1380.9 347.6 1380.9 382.8 1381.0 368.9 1381.0 353.9 1381.1 344.4 1381.2 415.0 1381.5 375.8 1381.5 340.2 1381.9 420.2 1382.0 373.9 1382.0 328.9 1382.2 321.6 1382.4 418.1 1382.5 371.4 1382.5 408.7 1383.0 338.6 1383.0 350.1 1383.1 331.0 1383.2 392.9 1383.5 381.4 1383.5 397.2 1383.8 351.7 1384.0 364.9 1384.0 351.7 1384.1 339.8 1384.5 393.6 1384.5 413.6 1385.0 338.8 1385.1 356.1 1385.2 405.6 1385.4 323.8 1385.5 350.2 1385.5 361.8 1385.6 398.8 1385.8 330.0 1386.0 385.3 1386.0 368.5 1386.1 396.8 1386.5 330.5 1386.5 304.8 1386.7 393.3 1387.0 366.3 1387.0 341.4 1387.2 403.0 1387.5 383.3 1387.5 356.1 1387.7 343.8 1387.8 380.7 1388.0 362.7 1388.0 363.9 1388.2 404.5 1388.3 332.5 1388.5 361.9 1388.5 356.1 1388.9 380.7 1389.0 310.6 1389.0 445.1 1389.3 320.9 1389.5 378.8 1389.5 325.0 1389.9 383.6 1390.0 357.9 1390.0 374.9 1390.3 404.6 1390.5 314.4 1390.5 355.0 1390.6 325.4 1390.7 400.9 1391.0 334.3 1391.0 344.3 1391.3 373.1 1391.3 317.6 1391.5 320.0 1391.5 318.7 1391.9 386.9 1392.0 366.5 1392.0 326.9 1392.4 396.6 1392.5 386.7 1392.5 332.0 1392.8 315.4 1393.0 379.0 1393.0 349.9 1393.0 360.5 1393.2 409.7 1393.3 350.2 1393.5 380.6 1393.5 361.2 1393.7 402.3 1393.9 303.9 1394.0 352.3 1394.0 368.4 1394.2 387.7 1394.4 327.7 1394.5 342.3 1394.5 397.1 1394.6 316.9 1395.0 365.3 1395.0 323.0 1395.4 405.0 1395.5 371.7 1395.5 380.4 1395.6 381.8 1395.6 339.1 1396.0 340.4 1396.0 333.9 1396.3 376.2 1396.4 302.1 1396.5 345.6 1396.5 357.2 1396.8 340.5 1396.9 409.6 1397.0 357.3 1397.0 341.9 1397.2 377.0 1397.3 300.7 1397.5 365.4 1397.5 340.4 1397.5 302.4 1397.6 397.3 1398.0 321.3 1398.0 361.8 1398.3 309.7 1398.5 382.2 1398.5 374.0 1398.6 330.0 1399.0 365.5 1399.0 318.5 1399.2 377.7 1399.5 340.0 1399.5 357.2 1399.8 382.4 1399.9 324.9 1400.0 327.7 1400.0 402.1 1400.2 339.4 1400.3 408.2 1400.5 350.5 1400.5 385.5 1401.0 309.1 1401.0 333.8 1401.1 390.6 1401.2 300.8 1401.5 341.6 1401.5 360.2 1401.6 305.6 1402.0 365.2 1402.0 344.0 1402.2 405.5 1402.5 306.9 1402.5 342.4 1402.6 333.3 1402.9 382.3 1403.0 378.3 1403.0 390.8 1403.1 309.7 1403.4 399.1 1403.5 378.5 1403.5 303.8 1403.7 383.9 1404.0 335.5 1404.0 329.7 1404.3 268.7 1404.4 397.4 1404.5 368.5 1404.5 351.1 1404.6 323.5 1404.7 379.0 1405.0 323.9 1405.0 353.8 1405.1 329.2 1405.4 375.1 1405.5 362.2 1405.5 346.2 1405.8 323.9 1405.9 363.7 1406.0 344.1 1406.0 344.3 1406.1 382.9 1406.5 305.3 1406.5 326.3 1406.7 311.5 1406.8 380.6 1407.0 337.3 1407.0 352.4 1407.3 380.0 1407.4 301.1 1407.5 307.6 1407.5 365.5 1407.6 379.3 1407.9 305.2 1408.0 309.3 1408.0 359.2 1408.3 281.9 1408.4 379.5 1408.5 347.2 1408.5 349.4 1408.6 377.7 1408.7 296.9 1409.0 349.6 1409.0 361.8 1409.1 301.0 1409.4 397.9 1409.5 361.7 1409.5 343.0 1409.8 373.1 1409.9 312.1 1410.0 320.3 1410.0 316.3 1410.4 381.8 1410.5 346.4 1410.5 349.6 1410.6 297.2 1410.9 381.8 1411.0 303.5 1411.0 285.8 1411.3 359.3 1411.5 335.6 1411.5 359.9 1411.7 296.7 1412.0 355.1 1412.0 372.6 1412.2 394.1 1412.3 317.6 1412.5 355.6 1412.5 373.2 1412.7 314.0 1412.9 393.9 1413.0 319.0 1413.0 363.9 1413.2 373.0 1413.3 319.2 1413.5 339.8 1413.5 349.7 1413.8 369.9 1414.0 297.3 1414.0 363.9 1414.2 292.1 1414.5 378.6 1414.5 281.9 1414.9 399.9 1415.0 329.3 1415.0 325.0 1415.3 387.8 1415.4 282.3 1415.5 353.3 1415.5 331.4 1415.6 380.1 1415.8 293.5 1416.0 346.8 1416.0 342.7 1416.4 290.9 1416.5 372.6 1416.5 291.0 1416.7 383.1 1417.0 356.8 1417.0 351.6 1417.3 393.9 1417.3 303.9 1417.5 338.8 1417.5 350.0 1417.9 375.0 1418.0 297.7 1418.0 344.0 1418.1 381.7 1418.3 330.1 1418.5 349.8 1418.5 341.1 1418.6 289.2 1418.7 385.1 1419.0 328.5 1419.0 362.9 1419.1 390.1 1419.5 319.2 1419.5 333.9 1419.5 344.1 1419.9 276.2 1420.0 297.8 1420.0 325.2 1420.3 303.8 1420.4 377.0 1420.5 304.8 1420.5 316.5 1420.8 351.3 1421.0 291.4 1421.0 318.2 1421.2 356.6 1421.5 323.6 1421.5 332.3 1421.8 363.6 1421.9 291.9 1422.0 358.3 1422.0 343.2 1422.2 300.2 1422.4 369.7 1422.5 331.4 1422.5 335.9 1422.6 356.5 1422.9 307.9 1423.0 335.7 1423.0 353.0 1423.1 274.0 1423.5 293.9 1423.5 310.4 1424.0 366.6 1424.0 352.9 1424.0 361.7 1424.5 291.5 1424.5 324.6 1424.6 272.2 1424.7 369.2 1425.0 325.0 1425.0 296.4 1425.3 376.1 1425.5 343.5 1425.5 327.9 1425.6 372.3 1426.0 284.5 1426.0 343.6 1426.2 351.6 1426.5 269.3 1426.5 333.1 1426.7 285.7 1426.8 342.8 1427.0 316.6 1427.0 321.5 1427.3 360.4 1427.3 299.7 1427.5 310.8 1427.5 324.2 1427.7 281.5 1427.9 350.3 1428.0 300.9 1428.0 340.3 1428.0 370.0 1428.1 297.2 1428.5 340.0 1428.5 333.9 1428.7 359.8 1428.8 289.5 1429.0 347.3 1429.0 318.8 1429.4 362.2 1429.4 276.3 1429.5 313.5 1429.5 306.9 1429.8 367.0 1429.9 298.0 1430.0 324.1 1430.0 336.1 1430.0 279.2 1430.3 372.7 1430.5 319.6 1430.5 298.3 1430.6 292.0 1430.9 363.6 1431.0 340.4 1431.0 300.9 1431.3 341.4 1431.5 323.5 1431.5 294.8 1431.9 351.0 1432.0 325.5 1432.0 331.2 1432.2 360.3 1432.5 287.7 1432.5 328.7 1432.6 355.2 1432.8 281.6 1433.0 314.7 1433.0 333.3 1433.1 270.5 1433.3 365.5 1433.5 321.8 1433.5 341.2 1433.7 365.2 1434.0 262.6 1434.0 321.8 1434.1 364.2 1434.4 278.7 1434.5 325.3 1434.5 380.2 1434.8 284.3 1435.0 312.8 1435.0 294.3 1435.1 286.0 1435.3 366.4 1435.5 359.8 1435.5 286.7 1435.8 283.7 1435.9 361.0 1436.0 332.0 1436.0 335.3 1436.1 263.7 1436.3 364.1 1436.5 352.3 1436.5 346.4 1436.9 272.0 1437.0 317.3 1437.0 355.7 1437.4 267.0 1437.5 295.4 1437.5 326.6 1437.8 358.0 1437.9 298.2 1438.0 335.2 1438.0 298.0 1438.2 364.0 1438.5 261.6 1438.5 317.4 1438.8 345.3 1439.0 295.4 1439.0 324.8 1439.3 290.0 1439.4 370.4 1439.5 328.4 1439.5 331.9 1439.9 353.6 1440.0 288.8 1440.0 327.0 1440.2 308.3 1440.3 352.1 1440.5 332.2 1440.5 295.5 1440.6 370.8 1440.9 290.2 1441.0 305.8 1441.0 325.4 1441.1 258.6 1441.4 358.0 1441.5 299.5 1441.5 302.2 1441.6 368.5 1441.7 274.4 1442.0 320.3 1442.0 304.8 1442.1 262.6 1442.3 337.6 1442.5 279.0 1442.5 311.3 1442.7 266.8 1442.9 336.0 1443.0 328.8 1443.0 306.6 1443.0 342.6 1443.1 264.2 1443.5 317.3 1443.5 349.3 1443.9 374.3 1444.0 272.2 1444.0 292.1 1444.3 272.8 1444.5 356.7 1444.5 338.5 1444.5 346.6 1444.8 349.3 1444.9 275.7 1445.0 340.2 1445.0 277.2 1445.4 272.2 1445.5 333.3 1445.5 344.6 1445.8 274.3 1446.0 324.9 1446.0 279.2 1446.1 339.0 1446.5 322.8 1446.5 332.8 1446.8 347.5 1446.9 264.7 1447.0 273.8 1447.0 285.1 1447.1 249.9 1447.2 357.3 1447.5 314.4 1447.5 301.6 1447.7 267.2 1447.8 356.1 1448.0 274.3 1448.0 319.7 1448.2 332.5 1448.3 254.0 1448.5 312.9 1448.5 277.5 1448.6 349.7 1448.9 276.5 1449.0 322.5 1449.0 299.2 1449.1 276.5 1449.2 331.3 1449.5 329.7 1449.5 320.1 1449.6 249.4 1449.6 333.9 1450.0 309.4 1450.0 299.0 1450.2 353.9 1450.3 278.6 1450.5 337.0 1450.5 278.0 1450.6 342.2 1451.0 313.1 1451.0 258.6 1451.5 324.6 1451.5 316.4 1451.5 316.4 1451.7 341.7 1451.9 278.1 1452.0 296.3 1452.0 296.4 1452.2 338.5 1452.3 229.0 1452.5 287.8 1452.5 345.5 1452.9 274.7 1453.0 288.7 1453.0 296.7 1453.1 345.1 1453.3 275.7 1453.5 316.7 1453.5 257.1 1453.6 352.1 1454.0 265.4 1454.0 302.7 1454.3 250.2 1454.4 341.0 1454.5 305.5 1454.5 312.7 1454.9 281.1 1455.0 353.4 1455.0 345.8 1455.3 261.2 1455.5 288.4 1455.5 314.1 1455.8 357.8 1455.8 241.4 1456.0 296.7 1456.0 295.0 1456.0 262.0 1456.3 339.6 1456.5 314.3 1456.5 315.8 1456.7 348.9 1457.0 280.0 1457.0 295.3 1457.0 311.8 1457.1 349.4 1457.1 254.5 1457.5 278.9 1457.5 302.6 1457.7 263.4 1457.9 326.8 1458.0 314.7 1458.0 303.5 1458.2 348.6 1458.4 279.3 1458.5 291.7 1458.5 283.2 1458.7 265.0 1458.9 330.4 1459.0 315.9 1459.0 341.3 1459.5 252.1 1459.5 296.9 1459.7 349.2 1459.9 272.5 1460.0 273.7 1460.0 273.2 1460.2 248.4 1460.4 328.1 1460.5 293.4 1460.5 289.3 1460.6 346.4 1460.8 243.7 1461.0 312.1 1461.0 301.8 1461.1 316.0 1461.2 247.3 1461.5 311.0 1461.5 294.9 1461.7 349.9 1461.9 252.4 1462.0 291.1 1462.0 277.8 1462.1 211.5 1462.3 324.3 1462.5 262.1 1462.5 282.5 1462.6 264.5 1462.9 338.5 1463.0 329.8 1463.0 273.5 1463.0 259.2 1463.2 329.2 1463.5 319.7 1463.5 286.7 1463.5 366.2 1463.8 255.5 1464.0 266.3 1464.0 326.7 1464.0 216.0 1464.2 339.0 1464.5 259.5 1464.5 279.6 1464.7 322.1 1465.0 240.1 1465.0 306.3 1465.3 329.6 1465.4 266.7 1465.5 324.6 1465.5 282.1 1465.6 251.7 1465.8 339.1 1466.0 293.2 1466.0 290.6 1466.3 312.8 1466.4 246.9 1466.5 266.0 1466.5 284.0 1466.8 327.9 1466.9 265.0 1467.0 288.8 1467.0 231.3 1467.2 341.7 1467.5 293.8 1467.5 272.9 1467.8 308.4 1467.8 245.7 1468.0 303.5 1468.0 271.1 1468.1 232.3 1468.2 307.0 1468.5 268.7 1468.5 295.7 1468.9 264.5 1469.0 325.5 1469.0 314.9 1469.0 247.4 1469.5 339.0 1469.5 283.9 1469.5 287.6 1469.6 237.0 1469.8 327.7 1470.0 258.6 1470.0 315.0 1470.1 255.3 1470.3 326.6 1470.5 319.4 1470.5 281.0 1470.7 232.1 1471.0 334.1 1471.0 258.3 1471.1 305.9 1471.2 239.2 1471.5 300.8 1471.5 281.6 1471.6 341.0 1471.6 237.2 1472.0 249.2 1472.0 277.0 1472.4 308.7 1472.4 227.7 1472.5 299.9 1472.5 293.0 1472.8 352.7 1472.8 265.7 1473.0 317.8 1473.0 288.5 1473.1 320.0 1473.4 252.7 1473.5 260.7 1473.5 281.2 1473.5 310.8 1474.0 250.9 1474.0 287.2 1474.4 255.5 1474.4 317.1 1474.5 271.4 1474.5 254.2 1474.7 221.8 1474.8 325.2 1475.0 311.8 1475.0 267.3 1475.3 247.3 1475.5 318.2 1475.5 318.0 1476.0 230.6 1476.0 307.4 1476.1 317.8 1476.2 246.2 1476.5 253.0 1476.5 274.6 1476.6 242.1 1476.7 333.8 1477.0 310.5 1477.0 255.7 1477.2 249.9 1477.3 326.2 1477.5 260.4 1477.5 298.1 1477.6 318.2 1477.8 258.9 1478.0 272.7 1478.0 296.2 1478.1 223.1 1478.3 311.0 1478.5 306.6 1478.5 275.9 1478.9 289.9 1478.9 248.3 1479.0 273.2 1479.0 283.1 1479.2 229.4 1479.4 326.5 1479.5 239.2 1479.5 275.0 1479.7 298.0 1479.9 212.6 1480.0 249.4 1480.0 262.6 1480.1 224.9 1480.1 330.0 1480.5 296.5 1480.5 252.9 1480.8 234.8 1480.9 291.2 1481.0 273.9 1481.0 296.7 1481.3 241.6 1481.4 319.9 1481.5 261.1 1481.5 237.5 1481.9 323.5 1482.0 237.6 1482.0 251.7 1482.2 315.0 1482.5 237.2 1482.5 274.0 1482.6 244.8 1482.8 324.5 1483.0 278.4 1483.0 268.1 1483.3 318.8 1483.4 233.1 1483.5 278.8 1483.5 323.8 1483.7 255.5 1484.0 283.1 1484.0 257.7 1484.2 234.5 1484.4 323.0 1484.5 295.8 1484.5 307.7 1484.7 309.8 1484.9 219.7 1485.0 281.8 1485.0 260.0 1485.1 218.7 1485.3 311.4 1485.5 256.7 1485.5 273.1 1485.8 295.4 1485.9 248.4 1486.0 280.3 1486.0 232.6 1486.2 225.6 1486.4 303.6 1486.5 264.5 1486.5 249.2 1486.6 222.9 1486.6 323.0 1487.0 233.2 1487.0 298.3 1487.1 226.5 1487.4 303.4 1487.5 246.0 1487.5 301.2 1487.7 240.3 1488.0 288.1 1488.0 284.8 1488.3 303.7 1488.5 217.6 1488.5 250.9 1488.9 298.2 1489.0 243.5 1489.0 212.3 1489.4 310.2 1489.5 274.9 1489.5 285.4 1489.6 239.4 1489.8 309.1 1490.0 240.2 1490.0 250.9 1490.1 243.4 1490.3 298.7 1490.5 259.5 1490.5 240.4 1490.6 308.9 1491.0 261.9 1491.0 233.1 1491.2 208.0 1491.4 304.0 1491.5 279.8 1491.5 259.3 1491.6 203.8 1491.9 319.4 1492.0 255.6 1492.0 252.9 1492.1 219.7 1492.2 311.0 1492.5 300.7 1492.5 270.2 1492.7 314.1 1492.9 220.6 1493.0 261.2 1493.0 292.9 1493.3 208.2 1493.4 295.1 1493.5 239.2 1493.5 270.0 1493.6 231.5 1493.9 315.2 1494.0 254.5 1494.0 276.6 1494.2 280.0 1494.4 211.3 1494.5 228.9 1494.5 256.1 1494.6 312.6 1494.9 213.0 1495.0 267.6 1495.0 228.1 1495.1 296.1 1495.3 209.8 1495.5 235.4 1495.5 287.7 1495.6 225.9 1495.8 313.8 1496.0 248.9 1496.0 244.9 1496.1 311.1 1496.5 233.4 1496.5 234.7 1496.6 207.9 1496.7 294.5 1497.0 270.0 1497.0 276.3 1497.1 214.1 1497.4 278.2 1497.5 271.9 1497.5 251.3 1497.8 301.2 1498.0 229.1 1498.0 235.4 1498.2 227.4 1498.4 287.5 1498.5 266.3 1498.5 251.0 1498.9 202.7 1498.9 287.4 1499.0 210.3 1499.0 272.4 1499.4 305.7 1499.4 205.1 1499.5 275.8 1499.5 248.3 1500.0 241.3 1500.0 306.6 1500.0 255.9 1500.2 295.8 1500.3 216.6 1500.5 227.2 1500.5 234.0 1500.8 212.7 1501.0 290.2 1501.0 220.6 1501.0 305.9 1501.5 226.1 1501.5 249.7 1501.8 196.7 1501.9 285.1 1502.0 275.5 1502.0 257.3 1502.2 204.7 1502.4 286.6 1502.5 283.6 1502.5 261.7 1502.6 222.7 1502.8 289.4 1503.0 241.1 1503.0 270.9 1503.1 209.7 1503.4 273.7 1503.5 244.2 1503.5 271.8 1503.9 174.1 1504.0 251.6 1504.0 265.5 1504.2 287.3 1504.3 214.4 1504.5 250.6 1504.5 264.9 1504.6 199.6 1504.7 301.8 1505.0 279.6 1505.0 224.1 1505.3 288.9 1505.4 198.9 1505.5 241.2 1505.5 257.5 1505.6 198.2 1505.9 292.9 1506.0 250.7 1506.0 267.7 1506.1 273.7 1506.2 189.3 1506.5 218.0 1506.5 255.7 1506.7 274.8 1507.0 206.5 1507.0 251.6 1507.1 204.5 1507.2 291.3 1507.5 260.3 1507.5 244.8 1507.7 300.4 1507.7 203.8 1508.0 246.6 1508.0 216.8 1508.2 290.4 1508.3 189.1 1508.5 234.5 1508.5 234.8 1508.6 277.6 1509.0 197.2 1509.0 265.9 1509.2 281.3 1509.4 197.9 1509.5 263.7 1509.5 254.2 1509.7 225.7 1509.9 282.6 1510.0 234.5 1510.0 262.4 1510.1 270.1 1510.3 200.5 1510.5 261.7 1510.5 224.5 1510.8 197.1 1510.8 273.3 1511.0 267.2 1511.0 238.3 1511.1 272.8 1511.4 225.9 1511.5 228.4 1511.5 207.8 1511.6 191.9 1511.9 284.5 1512.0 233.8 1512.0 261.3 1512.2 198.0 1512.3 267.0 1512.5 231.3 1512.5 265.2 1512.9 288.9 1513.0 202.8 1513.0 209.1 1513.1 195.9 1513.4 272.6 1513.5 239.9 1513.5 274.5 1513.7 290.2 1513.9 198.4 1514.0 241.9 1514.0 240.5 1514.4 285.5 1514.5 193.2 1514.5 243.1 1514.5 270.1 1514.8 191.4 1514.9 274.2 1515.0 244.4 1515.0 252.2 1515.1 283.8 1515.3 199.0 1515.5 246.4 1515.5 272.0 1515.8 282.9 1515.9 204.7 1516.0 275.8 1516.0 240.3 1516.2 281.7 1516.4 192.5 1516.5 199.3 1516.5 242.6 1516.7 292.5 1516.9 183.0 1517.0 252.7 1517.0 293.5 1517.2 195.9 1517.5 213.3 1517.5 242.5 1517.5 289.5 1517.9 194.6 1518.0 227.8 1518.0 224.1 1518.3 289.9 1518.4 195.6 1518.5 206.3 1518.5 223.0 1518.6 317.3 1518.8 199.4 1519.0 230.2 1519.0 231.1 1519.3 188.0 1519.4 285.8 1519.5 261.2 1519.5 191.6 1519.5 280.2 1520.0 204.2 1520.0 209.6 1520.2 179.8 1520.3 285.2 1520.5 257.9 1520.5 222.0 1520.6 189.1 1520.9 256.5 1521.0 252.4 1521.0 228.8 1521.1 266.4 1521.1 202.5 1521.5 251.8 1521.5 177.7 1521.7 272.2 1522.0 244.2 1522.0 242.7 1522.2 186.2 1522.4 279.0 1522.5 211.7 1522.5 264.6 1522.5 208.9 1522.6 285.8 1523.0 241.5 1523.0 226.9 1523.4 195.0 1523.4 287.2 1523.5 227.3 1523.5 215.2 1523.7 269.1 1523.9 197.9 1524.0 198.7 1524.0 270.3 1524.2 187.6 1524.5 246.6 1524.5 227.6 1524.7 282.5 1524.8 191.8 1525.0 236.2 1525.0 201.1 1525.2 279.3 1525.3 173.7 1525.5 231.0 1525.5 209.3 1525.6 182.6 1525.8 284.4 1526.0 204.9 1526.0 217.1 1526.1 251.4 1526.3 173.9 1526.5 211.5 1526.5 251.0 1526.8 191.7 1527.0 254.3 1527.0 227.8 1527.0 259.3 1527.1 270.5 1527.3 185.3 1527.5 209.1 1527.5 196.6 1527.8 259.1 1527.9 170.7 1528.0 255.1 1528.0 221.5 1528.2 166.4 1528.2 270.9 1528.5 197.7 1528.5 225.5 1528.6 170.3 1528.7 255.7 1529.0 227.6 1529.0 258.7 1529.3 262.3 1529.4 140.3 1529.5 260.3 1529.5 194.1 1529.9 252.9 1529.9 188.2 1530.0 248.3 1530.0 196.3 1530.1 187.9 1530.2 254.6 1530.5 242.6 1530.5 221.1 1530.8 255.2 1530.8 183.0 1531.0 228.5 1531.0 263.5 1531.1 169.1 1531.2 272.0 1531.5 220.4 1531.5 256.3 1531.5 173.1 1532.0 206.7 1532.0 260.7 1532.2 176.4 1532.5 226.1 1532.5 209.8 1532.7 163.0 1532.8 274.5 1533.0 204.8 1533.0 214.5 1533.2 181.5 1533.2 274.6 1533.5 218.2 1533.5 185.0 1533.7 271.8 1533.9 162.5 1534.0 239.3 1534.0 236.5 1534.0 163.2 1534.2 271.4 1534.5 189.5 1534.5 238.3 1534.7 176.0 1534.9 253.4 1535.0 226.1 1535.0 215.3 1535.2 184.3 1535.5 274.2 1535.5 226.9 1535.6 176.8 1535.8 265.1 1536.0 247.1 1536.0 193.7 1536.1 176.7 1536.3 275.8 1536.5 222.3 1536.5 232.1 1536.8 262.0 1536.9 176.1 1537.0 227.0 1537.0 231.7 1537.0 175.4 1537.3 254.3 1537.5 232.4 1537.5 248.5 1537.6 178.1 1537.9 262.2 1538.0 241.6 1538.0 221.9 1538.3 182.0 1538.4 233.5 1538.5 200.4 1538.5 222.9 1538.7 185.9 1538.7 269.6 1539.0 189.4 1539.0 185.8 1539.0 155.5 1539.1 271.4 1539.5 241.8 1539.5 211.9 1539.7 165.7 1539.9 242.6 1540.0 216.8 1540.0 230.8 1540.1 242.8 1540.4 190.1 1540.5 210.6 1540.5 183.0 1540.7 164.5 1540.8 267.2 1541.0 212.8 1541.0 177.6 1541.0 259.8 1541.4 173.8 1541.5 195.4 1541.5 205.8 1541.8 166.3 1541.8 234.5 1542.0 203.2 1542.0 218.3 1542.2 165.8 1542.5 253.9 1542.5 222.8 1542.6 157.0 1542.6 239.2 1543.0 186.3 1543.0 199.5 1543.2 239.2 1543.3 129.3 1543.5 204.1"/>
<path stroke="#ff0000" d="M230.0 177.0L232.8 180.0 235.6 168.0 238.4 130.9 241.2 178.2 243.9 166.9 246.6 144.2 249.2 167.5 251.9 161.5 254.5 158.8 257.1 151.9 259.7 162.1 262.2 133.8 264.8 146.2 267.3 139.2 269.8 162.6 272.2 150.3 274.7 143.0 277.1 132.3 279.5 143.6 281.9 149.2 284.3 143.0 286.6 176.9 288.9 170.6 291.2 179.2 293.5 107.6 295.8 144.7 298.0 139.2 300.3 152.9 302.5 152.9 304.7 193.9 306.9 124.0 309.0 139.7 311.2 191.9 313.3 161.7 315.5 161.9 317.6 136.5 319.6 111.9 321.7 151.0 323.8 149.6 325.8 120.8 327.8 132.4 329.9 145.5 331.9 126.7 333.9 144.9 335.8 149.0 337.8 147.8 339.7 136.1 341.7 159.7 343.6 166.1 345.5 153.9 347.4 129.5 349.3 162.7 351.1 136.3 353.0 165.8 354.8 124.1 356.7 166.5 358.5 146.6 360.3 120.3 362.1 140.3 363.9 148.2 365.7 152.8 367.4 126.1 369.2 123.4 370.9 151.2 372.7 137.1 374.4 152.0 376.1 163.2 377.8 201.5 379.5 152.4 381.2 173.0 382.9 140.7 384.5 129.8 386.2 163.0 387.8 152.4 389.5 166.0 391.1 139.7 392.7 115.6 394.3 144.7 395.9 137.6 397.5 163.4 399.1 151.1 400.7 112.5 402.2 121.7 403.8 165.7 405.3 161.4 406.9 133.5 408.4 147.0 409.9 156.4 411.4 156.9 413.0 165.5 414.5 152.4 415.9 145.0 417.4 141.5 418.9 169.2 420.4 99.6 421.8 144.1 423.3 147.7 424.7 117.0 426.2 154.0 427.6 133.3 429.0 165.1 430.4 144.4 431.9 161.1 433.3 172.6 434.7 155.3 436.0 129.3 437.4 116.3 438.8 183.6 440.2 145.4 441.5 133.8 442.9 150.8 444.2 144.1 445.6 165.2 446.9 148.8 448.3 148.5 449.6 134.1 450.9 157.7 452.2 128.0 453.5 161.7 454.8 178.6 456.1 118.9 457.4 107.2 458.7 160.9 460.0 132.0 461.3 129.8 462.5 125.2 463.8 160.5 465.0 133.3 466.3 139.8 467.5 142.9 468.8 159.6 470.0 142.1 471.2 154.9 472.5 146.5 473.7 134.2 474.9 144.1 476.1 132.5 477.3 150.3 478.5 129.7 479.7 130.4 480.9 176.9 482.1 149.5 483.2 149.6 484.4 102.6 485.6 143.2 486.8 146.7 487.9 158.4 489.1 155.9 490.2 130.5 491.4 165.8 492.5 140.8 493.6 132.8 494.8 135.6 495.9 144.6 497.0 179.6 498.1 131.3 499.3 154.4 500.4 115.2 501.5 151.7 502.6 167.1 503.7 147.9 504.8 141.4 505.9 155.9 506.9 163.8 508.0 163.3 509.1 185.0 510.2 155.8 511.2 142.6 512.3 150.4 513.4 151.4 514.4 154.4 515.5 152.2 516.5 155.6 517.6 125.9 518.6 102.5 519.6 143.8 520.7 134.3 521.7 163.3 522.7 174.3 523.8 161.2 524.8 155.9 525.8 138.5 526.8 145.9 527.8 167.7 528.8 135.4 529.8 141.3 530.8 155.2 531.8 129.0 532.8 112.5 533.8 146.7 534.8 173.7 535.8 169.6 536.7 153.2 537.7 155.0 538.7 128.5 539.7 172.2 540.6 157.2 541.6 163.4 542.5 137.6 543.5 184.0 544.4 192.7 545.4 137.9 546.3 160.9 547.3 144.3 548.2 154.7 549.2 134.9 550.1 185.1 551.0 139.8 551.9 150.6 552.9 163.5 553.8 145.2 554.7 151.8 555.6 146.6 556.5 153.6 557.4 137.1 558.4 148.8 559.3 152.6 560.2 150.7 561.1 157.0 562.0 151.4 562.8 168.2 563.7 151.1 564.6 154.1 565.5 145.8 566.4 148.0 567.3 136.3 568.1 164.9 569.0 138.4 569.9 144.8 570.8 162.5 571.6 163.3 572.5 150.5 573.3 124.7 574.2 163.8 575.1 161.3 575.9 134.6 576.8 169.6 577.6 146.1 578.5 139.3 579.3 158.9 580.1 154.6 581.0 160.8 581.8 131.9 582.6 186.7 583.5 148.1 584.3 133.2 585.1 167.8 586.0 152.2 586.8 163.2 587.6 152.6 588.4 157.1 589.2 162.1 590.0 146.3 590.8 110.0 591.6 150.8 592.5 144.5 593.3 159.7 594.1 165.6 594.9 154.9 595.7 144.8 596.4 168.6 597.2 130.6 598.0 142.3 598.8 159.5 599.6 137.2 600.4 159.4 601.2 158.2 601.9 173.5 602.7 144.5 603.5 149.2 604.3 164.6 605.0 147.1 605.8 135.9 606.6 148.3 607.3 147.8 608.1 173.3 608.9 159.0 609.6 131.2 610.4 169.8 611.1 173.5 611.9 152.6 612.6 155.4 613.4 167.7 614.1 145.5 614.9 167.1 615.6 163.4 616.3 149.5 617.1 138.1 617.8 156.8 618.6 146.5 619.3 176.6 620.0 163.0 620.7 173.3 621.5 163.0 622.2 165.2 622.9 148.5 623.6 171.8 624.4 189.8 625.1 156.4 625.8 151.9 626.5 159.0 627.2 153.9 627.9 150.4 628.6 163.9 629.4 157.2 630.1 184.9 630.8 162.0 631.5 167.2 632.2 177.4 632.9 157.4 633.6 185.3 634.3 152.3 635.0 149.5 635.6 156.7 636.3 160.8 637.0 140.3 637.7 162.2 638.4 136.2 639.1 121.7 639.8 161.8 640.4 152.9 641.1 148.7 641.8 157.1 642.5 159.8 643.2 146.7 643.8 148.8 644.5 160.6 645.2 155.4 645.8 178.8 646.5 182.1 647.2 164.2 647.8 171.6 648.5 142.7 649.2 174.4 649.8 163.7 650.5 172.1 651.1 190.0 651.8 128.0 652.4 168.7 653.1 147.0 653.7 174.2 654.4 143.8 655.0 156.9 655.7 168.2 656.3 174.8 657.0 166.3 657.6 152.5 658.2 156.4 658.9 214.7 659.5 165.3 660.2 138.5 660.8 179.0 661.4 172.3 662.0 179.7 662.7 160.4 663.3 179.1 663.9 148.9 664.6 175.1 665.2 158.2 665.8 176.9 666.4 182.3 667.1 154.5 667.7 165.5 668.3 167.0 668.9 185.5 669.5 177.9 670.1 147.1 670.7 174.0 671.4 178.7 672.0 200.8 672.6 140.1 673.2 158.4 673.8 210.4 674.4 145.5 675.0 148.0 675.6 175.6 676.2 183.7 676.8 156.7 677.4 176.1 678.0 169.4 678.6 191.9 679.2 167.7 679.8 183.6 680.4 153.4 681.0 165.0 681.5 166.4 682.1 186.3 682.7 177.4 683.3 156.2 683.9 209.5 684.5 180.7 685.1 166.6 685.6 164.4 686.2 165.4 686.8 141.5 687.4 171.7 688.0 172.5 688.5 155.0 689.1 180.8 689.7 147.0 690.3 160.2 690.8 161.5 691.4 201.0 692.0 143.6 692.5 178.3 693.1 184.4 693.7 175.5 694.2 188.4 694.8 153.5 695.4 133.1 695.9 182.0 696.5 150.6 697.0 164.6 697.6 151.0 698.1 186.8 698.7 183.9 699.3 158.6 699.8 184.6 700.4 172.2 700.9 168.0 701.5 171.3 702.0 167.2 702.6 180.3 703.1 175.5 703.7 165.0 704.2 186.8 704.7 160.9 705.3 175.4 705.8 177.6 706.4 194.6 706.9 162.9 707.4 198.9 708.0 173.9 708.5 168.0 709.1 160.4 709.6 180.6 710.1 172.0 710.7 153.6 711.2 153.3 711.7 162.5 712.2 160.6 712.8 188.9 713.3 193.5 713.8 185.4 714.4 177.3 714.9 164.7 715.4 172.5 715.9 185.8 716.5 205.8 717.0 186.3 717.5 167.3 718.0 172.4 718.5 164.1 719.0 159.4 719.6 169.0 720.1 175.1 720.6 201.4 721.1 172.9 721.6 193.8 722.1 200.4 722.6 173.4 723.2 197.9 723.7 183.7 724.2 165.6 724.7 176.6 725.2 172.7 725.7 168.7 726.2 169.2 726.7 174.8 727.2 179.5 727.7 158.4 728.2 172.4 728.7 148.3 729.2 176.8 729.7 182.7 730.2 175.4 730.7 177.3 731.2 182.2 731.7 218.7 732.2 169.1 732.7 181.1 733.2 189.0 733.7 179.3 734.2 165.9 734.6 171.6 735.1 189.1 735.6 193.4 736.1 171.0 736.6 160.1 737.1 154.3 737.6 175.9 738.0 191.1 738.5 177.7 739.0 176.1 739.5 167.4 740.0 134.0 740.5 139.3 740.9 122.0 741.4 174.0 741.9 151.7 742.4 208.4 742.8 151.5 743.3 156.5 743.8 154.5 744.3 191.5 744.7 159.6 745.2 184.5 745.7 183.3 746.2 178.1 746.6 153.0 747.1 164.2 747.6 200.8 748.0 153.4 748.5 160.8 749.0 171.5 749.4 187.1 749.9 178.2 750.4 186.1 750.8 157.2 751.3 189.4 751.7 183.4 752.2 148.9 752.7 199.0 753.1 211.1 753.6 162.2 754.0 175.4 754.5 196.9 755.0 150.9 755.4 142.8 755.9 153.9 756.3 165.6 756.8 165.5 757.2 184.5 757.7 179.1 758.1 154.9 758.6 183.9 759.0 204.9 759.5 194.1 759.9 190.8 760.4 175.3 760.8 190.7 761.3 159.6 761.7 187.1 762.2 173.7 762.6 193.2 763.1 182.6 763.5 157.8 763.9 177.3 764.4 194.8 764.8 157.2 765.3 166.4 765.7 163.1 766.1 151.5 766.6 190.8 767.0 196.4 767.5 188.3 767.9 179.4 768.3 174.7 768.8 179.4 769.2 163.9 769.6 190.0 770.1 192.4 770.5 190.6 770.9 167.3 771.4 177.0 771.8 173.2 772.2 204.5 772.6 178.8 773.1 145.8 773.5 182.3 773.9 206.1 774.4 187.0 774.8 190.1 775.2 176.7 775.6 144.6 776.1 147.2 776.5 156.2 776.9 174.2 777.3 181.2 777.7 187.3 778.2 170.9 778.6 191.6 779.0 171.9 779.4 165.1 779.8 190.1 780.3 161.8 780.7 219.8 781.1 159.6 781.5 178.1 781.9 139.0 782.3 170.9 782.8 171.3 783.2 153.8 783.6 153.0 784.0 169.3 784.4 168.0 784.8 197.0 785.2 182.8 785.6 151.6 786.0 163.2 786.5 188.2 786.9 207.3 787.3 183.2 787.7 182.0 788.1 206.8 788.5 176.7 788.9 172.2 789.3 154.5 789.7 169.0 790.1 212.0 790.5 154.5 790.9 177.4 791.3 154.7 791.7 179.4 792.1 191.5 792.5 173.5 792.9 189.1 793.3 189.0 793.7 184.6 794.1 204.9 794.5 190.0 794.9 172.7 795.3 166.7 795.7 164.1 796.1 185.2 796.5 172.5 796.9 193.0 797.3 207.2 797.7 174.3 798.1 172.5 798.5 204.9 798.9 228.3 799.2 170.6 799.6 193.1 800.0 163.3 800.4 170.3 800.8 172.4 801.2 188.6 801.6 180.3 802.0 184.6 802.4 187.7 802.7 178.7 803.1 196.1 803.5 166.7 803.9 139.0 804.3 150.1 804.7 152.6 805.0 169.8 805.4 195.1 805.8 181.5 806.2 169.2 806.6 161.7 807.0 170.4 807.3 172.5 807.7 170.0 808.1 156.1 808.5 171.5 808.9 195.4 809.2 144.4 809.6 175.4 810.0 229.0 810.4 182.3 810.7 167.5 811.1 146.1 811.5 181.2 811.9 208.7 812.2 181.4 812.6 198.3 813.0 178.6 813.4 145.3 813.7 129.0 814.1 173.3 814.5 156.6 814.8 192.6 815.2 184.7 815.6 171.8 815.9 194.1 816.3 166.3 816.7 190.6 817.0 165.3 817.4 189.0 817.8 162.9 818.1 204.4 818.5 184.7 818.9 203.6 819.2 167.6 819.6 173.2 820.0 194.3 820.3 164.3 820.7 163.9 821.1 197.5 821.4 188.5 821.8 196.8 822.1 176.2 822.5 190.2 822.9 169.6 823.2 159.4 823.6 154.2 823.9 172.6 824.3 172.7 824.7 171.5 825.0 189.3 825.4 149.7 825.7 173.2 826.1 186.3 826.4 172.5 826.8 167.8 827.2 207.9 827.5 214.3 827.9 164.4 828.2 127.7 828.6 207.1 828.9 186.5 829.3 173.0 829.6 184.4 830.0 163.9 830.3 186.5 830.7 182.5 831.0 191.0 831.4 197.7 831.7 210.3 832.1 176.4 832.4 199.4 832.8 170.1 833.1 168.5 833.5 172.9 833.8 167.2 834.2 198.6 834.5 197.8 834.8 203.4 835.2 182.7 835.5 187.5 835.9 173.9 836.2 164.8 836.6 190.4 836.9 187.6 837.3 165.7 837.6 192.8 837.9 155.6 838.3 180.7 838.6 173.5 839.0 175.2 839.3 166.4 839.6 199.0 840.0 192.9 840.3 202.8 840.7 186.0 841.0 163.2 841.3 177.9 841.7 165.0 842.0 191.3 842.3 203.3 842.7 189.3 843.0 174.5 843.4 178.2 843.7 187.4 844.0 161.0 844.4 186.6 844.7 187.4 845.0 175.6 845.4 177.7 845.7 187.1 846.0 171.3 846.4 171.3 846.7 197.0 847.0 188.1 847.3 211.4 847.7 168.8 848.0 156.2 848.3 137.0 848.7 200.0 849.0 173.0 849.3 161.3 849.6 184.1 850.0 156.8 850.3 179.4 850.6 150.0 851.0 181.2 851.3 151.1 851.6 181.2 851.9 209.3 852.3 180.8 852.6 197.4 852.9 174.9 853.2 170.9 853.6 161.3 853.9 201.9 854.2 184.4 854.5 211.3 854.8 166.5 855.2 181.8 855.5 186.7 855.8 208.1 856.1 214.6 856.5 175.1 856.8 167.4 857.1 157.8 857.4 207.0 857.7 184.3 858.0 175.3 858.4 184.9 858.7 189.8 859.0 158.2 859.3 200.8 859.6 192.2 860.0 188.3 860.3 170.0 860.6 195.4 860.9 214.5 861.2 142.8 861.5 133.6 861.8 179.3 862.2 192.0 862.5 186.5 862.8 184.0 863.1 172.3 863.4 186.2 863.7 176.6 864.0 184.2 864.3 185.6 864.7 197.1 865.0 177.3 865.3 181.5 865.6 203.9 865.9 183.3 866.2 182.7 866.5 200.7 866.8 191.3 867.1 188.4 867.4 190.6 867.8 167.3 868.1 194.5 868.4 208.4 868.7 196.6 869.0 162.4 869.3 191.9 869.6 173.0 869.9 183.9 870.2 189.6 870.5 168.6 870.8 209.1 871.1 186.7 871.4 200.5 871.7 198.0 872.0 209.4 872.3 207.1 872.6 164.5 872.9 188.8 873.2 154.0 873.5 181.1 873.8 199.7 874.1 202.9 874.4 209.0 874.7 182.4 875.0 193.6 875.3 190.1 875.6 208.9 875.9 214.0 876.2 182.9 876.5 172.2 876.8 188.7 877.1 183.0 877.4 198.5 877.7 201.1 878.0 197.7 878.3 178.6 878.6 212.7 878.9 190.0 879.2 213.8 879.5 211.6 879.8 169.0 880.1 173.7 880.4 173.4 880.7 193.5 881.0 190.4 881.3 193.9 881.6 176.7 881.9 196.6 882.2 212.2 882.5 168.5 882.7 186.8 883.0 193.9 883.3 187.9 883.6 186.9 883.9 218.4 884.2 210.7 884.5 203.8 884.8 178.0 885.1 226.1 885.4 196.1 885.7 181.1 885.9 185.0 886.2 182.6 886.5 224.4 886.8 193.8 887.1 191.6 887.4 156.2 887.7 202.5 888.0 173.8 888.2 172.7 888.5 200.6 888.8 177.1 889.1 204.3 889.4 208.9 889.7 162.4 890.0 188.9 890.2 165.9 890.5 190.1 890.8 205.8 891.1 169.4 891.4 220.1 891.7 186.3 891.9 172.4 892.2 189.4 892.5 204.1 892.8 169.4 893.1 191.5 893.4 233.5 893.6 210.8 893.9 194.0 894.2 184.8 894.5 208.2 894.8 171.1 895.0 185.4 895.3 221.3 895.6 189.8 895.9 213.5 896.2 195.0 896.4 180.7 896.7 188.0 897.0 193.2 897.3 185.5 897.5 178.9 897.8 179.6 898.1 168.5 898.4 194.0 898.7 198.6 898.9 204.3 899.2 163.5 899.5 205.3 899.8 192.2 900.0 169.6 900.3 194.1 900.6 205.6 900.9 201.0 901.1 204.3 901.4 149.8 901.7 207.2 901.9 238.4 902.2 159.4 902.5 180.7 902.8 198.7 903.0 185.5 903.3 204.1 903.6 206.0 903.9 193.9 904.1 223.5 904.4 177.5 904.7 208.3 904.9 185.7 905.2 180.8 905.5 203.0 905.7 183.5 906.0 207.4 906.3 174.7 906.6 194.2 906.8 180.0 907.1 189.9 907.4 187.7 907.6 175.5 907.9 204.5 908.2 173.7 908.4 178.0 908.7 208.5 909.0 209.9 909.2 205.0 909.5 199.7 909.8 231.3 910.0 174.5 910.3 182.2 910.6 149.1 910.8 209.1 911.1 199.1 911.4 212.6 911.6 210.4 911.9 190.9 912.1 181.2 912.4 178.4 912.7 231.0 912.9 210.6 913.2 204.5 913.5 189.3 913.7 191.7 914.0 189.3 914.2 238.7 914.5 213.7 914.8 194.1 915.0 188.9 915.3 200.0 915.6 198.7 915.8 209.3 916.1 195.1 916.3 208.5 916.6 216.7 916.9 177.3 917.1 224.0 917.4 175.4 917.6 191.0 917.9 207.3 918.1 181.1 918.4 207.7 918.7 172.1 918.9 164.1 919.2 173.8 919.4 168.5 919.7 195.7 919.9 190.7 920.2 201.5 920.5 178.9 920.7 214.3 921.0 194.6 921.2 195.4 921.5 203.8 921.7 192.2 922.0 185.8 922.2 197.8 922.5 156.6 922.8 207.6 923.0 212.2 923.3 253.1 923.5 183.7 923.8 230.1 924.0 192.7 924.3 204.7 924.5 209.1 924.8 220.6 925.0 174.2 925.3 188.9 925.5 189.7 925.8 192.0 926.0 191.6 926.3 195.5 926.5 194.9 926.8 202.2 927.0 206.3 927.3 207.3 927.5 177.1 927.8 213.5 928.0 182.9 928.3 176.8 928.5 181.0 928.8 183.3 929.0 200.5 929.3 211.6 929.5 162.2 929.8 188.6 930.0 213.0 930.3 201.3 930.5 206.5 930.8 172.6 931.0 214.2 931.3 171.6 931.5 201.4 931.8 221.3 932.0 230.1 932.3 207.0 932.5 213.3 932.7 188.1 933.0 190.2 933.2 218.3 933.5 198.5 933.7 196.4 934.0 174.6 934.2 201.2 934.5 209.7 934.7 185.2 934.9 190.1 935.2 225.8 935.4 242.2 935.7 194.0 935.9 179.5 936.2 188.4 936.4 194.7 936.6 222.5 936.9 188.6 937.1 229.8 937.4 183.3 937.6 193.1 937.9 213.7 938.1 195.2 938.3 185.1 938.6 197.1 938.8 207.1 939.1 170.0 939.3 195.2 939.5 197.7 939.8 192.6 940.0 212.3 940.3 156.7 940.5 193.4 940.7 200.4 941.0 212.3 941.2 196.0 941.4 226.0 941.7 184.2 941.9 222.1 942.2 185.2 942.4 197.2 942.6 206.4 942.9 235.6 943.1 215.6 943.3 193.2 943.6 222.7 943.8 196.6 944.1 186.6 944.3 208.1 944.5 202.0 944.8 217.0 945.0 190.9 945.2 207.1 945.5 211.6 945.7 205.4 945.9 200.1 946.2 188.5 946.4 216.4 946.6 203.1 946.9 209.4 947.1 194.7 947.3 201.1 947.6 182.8 947.8 202.4 948.0 214.3 948.3 202.6 948.5 216.1 948.7 206.6 949.0 225.0 949.2 197.9 949.4 172.6 949.7 208.8 949.9 198.4 950.1 184.3 950.4 212.8 950.6 206.0 950.8 209.2 951.0 195.7 951.3 205.0 951.5 206.0 951.7 232.7 952.0 189.6 952.2 201.5 952.4 208.1 952.7 171.4 952.9 173.6 953.1 239.9 953.3 170.8 953.6 212.0 953.8 187.0 954.0 188.5 954.2 167.1 954.5 186.2 954.7 215.9 954.9 177.6 955.2 212.7 955.4 207.8 955.6 237.9 955.8 193.9 956.1 224.7 956.3 218.1 956.5 197.3 956.7 173.0 957.0 229.2 957.2 178.4 957.4 194.2 957.6 218.3 957.9 222.4 958.1 187.7 958.3 202.1 958.5 198.2 958.8 223.8 959.0 196.0 959.2 170.3 959.4 219.2 959.7 193.6 959.9 203.2 960.1 183.3 960.3 238.7 960.6 206.4 960.8 190.4 961.0 194.8 961.2 193.6 961.4 207.4 961.7 201.4 961.9 216.1 962.1 232.0 962.3 217.2 962.6 182.9 962.8 176.0 963.0 191.7 963.2 224.2 963.4 199.5 963.7 193.7 963.9 208.3 964.1 180.6 964.3 185.7 964.5 215.4 964.8 201.0 965.0 198.5 965.2 212.5 965.4 196.4 965.6 194.7 965.8 199.0 966.1 218.2 966.3 208.6 966.5 263.4 966.7 202.4 966.9 219.7 967.2 241.9 967.4 187.8 967.6 214.6 967.8 204.0 968.0 223.7 968.2 217.1 968.5 235.7 968.7 218.7 968.9 199.6 969.1 199.9 969.3 217.1 969.5 217.1 969.8 220.6 970.0 240.6 970.2 189.1 970.4 216.9 970.6 186.6 970.8 180.8 971.0 224.5 971.3 221.2 971.5 192.5 971.7 241.3 971.9 193.9 972.1 190.6 972.3 223.8 972.5 216.1 972.8 209.3 973.0 211.2 973.2 216.6 973.4 210.2 973.6 209.7 973.8 178.5 974.0 188.7 974.3 224.5 974.5 200.6 974.7 223.6 974.9 236.3 975.1 207.5 975.3 219.3 975.5 252.2 975.7 263.6 975.9 248.2 976.2 242.8 976.4 228.6 976.6 213.0 976.8 199.8 977.0 195.0 977.2 224.4 977.4 224.2 977.6 212.6 977.8 231.5 978.0 205.0 978.3 236.6 978.5 217.1 978.7 215.9 978.9 216.7 979.1 215.0 979.3 227.9 979.5 187.5 979.7 220.6 979.9 240.3 980.1 230.8 980.3 212.2 980.6 249.9 980.8 198.4 981.0 194.1 981.2 228.8 981.4 191.7 981.6 216.3 981.8 235.1 982.0 233.0 982.2 232.6 982.4 210.2 982.6 222.8 982.8 276.1 983.0 251.8 983.2 234.5 983.4 233.7 983.6 184.1 983.9 235.2 984.1 248.1 984.3 243.1 984.5 235.4 984.7 220.9 984.9 214.7 985.1 232.3 985.3 228.4 985.5 225.9 985.7 215.9 985.9 253.0 986.1 200.2 986.3 221.7 986.5 211.4 986.7 241.6 986.9 249.1 987.1 245.8 987.3 161.0 987.5 196.8 987.7 261.9 987.9 232.9 988.1 221.4 988.3 223.9 988.5 217.4 988.7 231.7 988.9 229.8 989.1 217.4 989.3 193.1 989.5 223.8 989.7 233.5 989.9 234.6 990.2 222.0 990.4 233.5 990.6 244.4 990.8 216.5 991.0 252.9 991.2 282.7 991.4 202.1 991.6 208.9 991.8 237.6 992.0 207.4 992.2 249.7 992.4 249.8 992.6 228.4 992.7 259.1 992.9 231.4 993.1 217.7 993.3 231.7 993.5 170.1 993.7 241.3 993.9 199.3 994.1 246.6 994.3 219.2 994.5 244.1 994.7 199.1 994.9 220.4 995.1 229.9 995.3 245.6 995.5 205.8 995.7 260.4 995.9 238.2 996.1 219.3 996.3 252.3 996.5 231.4 996.7 251.5 996.9 197.8 997.1 244.4 997.3 220.1 997.5 222.1 997.7 241.3 997.9 235.9 998.1 214.8 998.3 218.1 998.5 243.5 998.7 239.1 998.9 244.1 999.0 245.0 999.2 227.4 999.4 246.4 999.6 248.2 999.8 232.9 1000.0 212.7 1000.2 205.6 1000.4 196.6 1000.6 255.5 1000.8 228.4 1001.0 222.2 1001.2 227.3 1001.4 207.3 1001.6 238.6 1001.8 258.0 1002.0 254.7 1002.1 203.3 1002.3 259.2 1002.5 218.8 1002.7 197.0 1002.9 210.1 1003.1 215.2 1003.3 233.6 1003.5 214.2 1003.7 205.2 1003.9 229.0 1004.1 270.8 1004.3 220.9 1004.5 243.2 1004.6 236.0 1004.8 261.1 1005.0 198.5 1005.2 255.6 1005.4 210.4 1005.6 223.6 1005.8 233.2 1006.0 205.2 1006.2 220.7 1006.4 199.3 1006.5 260.2 1006.7 219.5 1006.9 231.0 1007.1 235.3 1007.3 237.7 1007.5 232.7 1007.7 241.1 1007.9 243.5 1008.1 252.5 1008.2 228.2 1008.4 222.1 1008.6 216.2 1008.8 247.9 1009.0 235.8 1009.2 247.4 1009.4 247.2 1009.6 269.2 1009.8 241.1 1009.9 251.6 1010.1 214.3 1010.3 216.8 1010.5 231.6 1010.7 214.4 1010.9 250.9 1011.1 212.3 1011.2 239.2 1011.4 233.9 1011.6 217.0 1011.8 231.7 1012.0 233.3 1012.2 204.1 1012.4 240.6 1012.6 257.2 1012.7 251.1 1012.9 226.2 1013.1 227.6 1013.3 216.3 1013.5 251.1 1013.7 266.8 1013.9 229.2 1014.0 206.9 1014.2 243.3 1014.4 253.1 1014.6 247.3 1014.8 242.4 1015.0 281.3 1015.1 255.7 1015.3 250.6 1015.5 247.8 1015.7 260.6 1015.9 222.3 1016.1 224.2 1016.2 248.3 1016.4 227.5 1016.6 245.7 1016.8 204.2 1017.0 255.4 1017.2 257.2 1017.3 241.9 1017.5 295.8 1017.7 272.4 1017.9 220.6 1018.1 224.0 1018.3 220.6 1018.4 233.5 1018.6 222.4 1018.8 242.6 1019.0 229.5 1019.2 214.2 1019.3 212.4 1019.5 265.5 1019.7 241.0 1019.9 238.1 1020.1 243.0 1020.3 241.1 1020.4 257.2 1020.6 253.6 1020.8 231.6 1021.0 227.2 1021.2 222.2 1021.3 219.2 1021.5 270.2 1021.7 225.8 1021.9 204.7 1022.1 227.4 1022.2 228.5 1022.4 250.1 1022.6 226.8 1022.8 254.2 1023.0 251.5 1023.1 268.5 1023.3 285.9 1023.5 226.2 1023.7 270.4 1023.8 222.2 1024.0 236.8 1024.2 249.5 1024.4 284.6 1024.6 257.9 1024.7 268.1 1024.9 241.7 1025.1 256.5 1025.3 259.1 1025.4 236.6 1025.6 260.4 1025.8 266.2 1026.0 242.6 1026.2 265.3 1026.3 277.6 1026.5 247.2 1026.7 246.0 1026.9 240.1 1027.0 234.3 1027.2 249.3 1027.4 238.4 1027.6 240.5 1027.7 231.7 1027.9 217.0 1028.1 228.7 1028.3 253.2 1028.5 224.1 1028.6 234.5 1028.8 278.8 1029.0 268.9 1029.2 233.9 1029.3 259.0 1029.5 234.9 1029.7 279.0 1029.9 236.4 1030.0 249.3 1030.2 274.6 1030.4 232.0 1030.6 273.2 1030.7 232.3 1030.9 252.8 1031.1 242.6 1031.3 298.3 1031.4 251.6 1031.6 247.2 1031.8 229.0 1031.9 265.5 1032.1 262.8 1032.3 273.9 1032.5 275.8 1032.6 223.2 1032.8 274.1 1033.0 274.4 1033.2 239.1 1033.3 269.6 1033.5 278.0 1033.7 239.3 1033.8 223.1 1034.0 242.9 1034.2 264.3 1034.4 254.6 1034.5 226.6 1034.7 245.3 1034.9 231.1 1035.1 242.7 1035.2 252.3 1035.4 239.2 1035.6 257.6 1035.7 278.1 1035.9 247.0 1036.1 243.5 1036.3 272.2 1036.4 226.6 1036.6 227.1 1036.8 196.8 1036.9 248.3 1037.1 259.1 1037.3 249.8 1037.4 262.3 1037.6 267.8 1037.8 261.5 1038.0 236.3 1038.1 246.8 1038.3 276.3 1038.5 231.9 1038.6 247.4 1038.8 244.3 1039.0 249.0 1039.1 231.7 1039.3 226.5 1039.5 274.0 1039.7 271.2 1039.8 239.1 1040.0 251.9 1040.2 266.3 1040.3 246.6 1040.5 265.4 1040.7 241.6 1040.8 246.7 1041.0 252.2 1041.2 245.1 1041.3 256.3 1041.5 254.6 1041.7 259.4 1041.8 263.7 1042.0 235.3 1042.2 261.4 1042.3 259.1 1042.5 220.7 1042.7 212.4 1042.8 264.5 1043.0 236.9 1043.2 275.0 1043.3 297.3 1043.5 244.5 1043.7 242.5 1043.8 255.9 1044.0 269.3 1044.2 234.3 1044.3 280.7 1044.5 275.9 1044.7 269.6 1044.8 246.4 1045.0 274.8 1045.2 273.8 1045.3 233.9 1045.5 298.1 1045.7 251.7 1045.8 264.9 1046.0 247.6 1046.2 265.4 1046.3 280.6 1046.5 242.5 1046.7 226.1 1046.8 249.7 1047.0 233.2 1047.2 244.0 1047.3 256.4 1047.5 257.7 1047.7 284.3 1047.8 239.5 1048.0 266.3 1048.1 249.6 1048.3 286.2 1048.5 278.9 1048.6 265.8 1048.8 292.7 1049.0 249.8 1049.1 229.1 1049.3 235.7 1049.5 229.8 1049.6 242.1 1049.8 256.1 1049.9 283.4 1050.1 274.7 1050.3 270.3 1050.4 253.1 1050.6 247.4 1050.8 262.3 1050.9 264.4 1051.1 266.9 1051.2 269.2 1051.4 259.8 1051.6 215.8 1051.7 240.6 1051.9 246.4 1052.1 295.8 1052.2 254.4 1052.4 276.1 1052.5 291.6 1052.7 269.7 1052.9 255.6 1053.0 257.7 1053.2 243.6 1053.4 269.7 1053.5 285.8 1053.7 275.1 1053.8 279.1 1054.0 278.2 1054.2 303.5 1054.3 252.1 1054.5 267.7 1054.6 278.5 1054.8 289.2 1055.0 275.2 1055.1 254.9 1055.3 261.1 1055.4 245.2 1055.6 282.0 1055.8 269.9 1055.9 258.0 1056.1 233.9 1056.2 240.1 1056.4 246.8 1056.6 275.1 1056.7 242.5 1056.9 226.0 1057.0 238.2 1057.2 255.2 1057.4 299.6 1057.5 254.1 1057.7 257.7 1057.8 285.7 1058.0 294.8 1058.1 292.7 1058.3 265.4 1058.5 242.3 1058.6 258.3 1058.8 231.6 1058.9 272.8 1059.1 283.5 1059.3 231.3 1059.4 267.5 1059.6 274.4 1059.7 293.3 1059.9 295.9 1060.0 284.7 1060.2 255.7 1060.4 262.1 1060.5 293.0 1060.7 257.7 1060.8 268.8 1061.0 300.4 1061.1 272.4 1061.3 243.1 1061.5 264.4 1061.6 282.8 1061.8 266.7 1061.9 293.3 1062.1 295.8 1062.2 258.0 1062.4 261.0 1062.5 331.5 1062.7 247.6 1062.9 278.7 1063.0 267.9 1063.2 287.0 1063.3 259.9 1063.5 254.5 1063.6 308.0 1063.8 254.8 1063.9 260.7 1064.1 257.9 1064.3 266.4 1064.4 254.5 1064.6 271.8 1064.7 258.9 1064.9 264.7 1065.0 280.2 1065.2 286.9 1065.3 282.5 1065.5 258.9 1065.7 281.3 1065.8 271.3 1066.0 271.7 1066.1 240.0 1066.3 287.2 1066.4 271.4 1066.6 307.8 1066.7 287.0 1066.9 252.5 1067.0 247.6 1067.2 297.4 1067.3 257.7 1067.5 288.5 1067.7 269.2 1067.8 316.6 1068.0 276.9 1068.1 305.3 1068.3 301.9 1068.4 266.7 1068.6 269.4 1068.7 305.3 1068.9 276.2 1069.0 259.3 1069.2 300.2 1069.3 281.1 1069.5 276.1 1069.6 304.6 1069.8 274.1 1069.9 304.2 1070.1 272.9 1070.2 304.1 1070.4 288.7 1070.6 274.5 1070.7 283.0 1070.9 267.8 1071.0 256.5 1071.2 258.0 1071.3 277.9 1071.5 258.3 1071.6 288.0 1071.8 290.0 1071.9 289.0 1072.1 270.0 1072.2 281.1 1072.4 279.6 1072.5 306.4 1072.7 264.5 1072.8 273.0 1073.0 276.1 1073.1 278.0 1073.3 266.2 1073.4 268.7 1073.6 301.3 1073.7 268.7 1073.9 299.6 1074.0 321.8 1074.2 307.0 1074.3 246.1 1074.5 297.3 1074.6 291.5 1074.8 293.0 1074.9 250.2 1075.1 297.5 1075.2 261.0 1075.4 308.2 1075.5 304.0 1075.7 290.8 1075.8 275.3 1076.0 252.9 1076.1 303.9 1076.3 300.6 1076.4 275.8 1076.6 310.4 1076.7 297.2 1076.9 258.3 1077.0 276.9 1077.2 275.1 1077.3 281.9 1077.4 288.0 1077.6 270.5 1077.7 280.5 1077.9 296.2 1078.0 283.2 1078.2 279.4 1078.3 278.8 1078.5 283.0 1078.6 247.2 1078.8 288.4 1078.9 265.0 1079.1 287.6 1079.2 256.4 1079.4 303.9 1079.5 290.5 1079.7 259.2 1079.8 290.7 1080.0 271.1 1080.1 322.1 1080.2 296.4 1080.4 271.2 1080.5 291.7 1080.7 286.9 1080.8 311.5 1081.0 295.1 1081.1 298.5 1081.3 266.5 1081.4 304.6 1081.6 330.7 1081.7 302.1 1081.9 289.0 1082.0 293.3 1082.2 271.4 1082.3 294.3 1082.4 269.1 1082.6 292.0 1082.7 283.7 1082.9 275.2 1083.0 303.5 1083.2 262.7 1083.3 291.7 1083.5 266.5 1083.6 329.3 1083.7 332.5 1083.9 310.4 1084.0 331.5 1084.2 305.9 1084.3 305.1 1084.5 286.2 1084.6 277.1 1084.8 297.7 1084.9 284.8 1085.1 287.0 1085.2 310.4 1085.3 293.7 1085.5 265.5 1085.6 292.4 1085.8 281.8 1085.9 291.4 1086.1 275.7 1086.2 321.6 1086.3 335.8 1086.5 276.2 1086.6 311.4 1086.8 310.7 1086.9 277.7 1087.1 301.4 1087.2 327.6 1087.4 316.7 1087.5 332.3 1087.6 277.1 1087.8 285.8 1087.9 306.7 1088.1 308.2 1088.2 301.8 1088.4 293.9 1088.5 293.7 1088.6 290.0 1088.8 311.3 1088.9 308.7 1089.1 334.7 1089.2 292.6 1089.3 274.9 1089.5 314.4 1089.6 275.9 1089.8 311.7 1089.9 296.3 1090.1 316.3 1090.2 358.4 1090.3 330.8 1090.5 295.4 1090.6 299.7 1090.8 305.5 1090.9 277.8 1091.0 318.1 1091.2 309.1 1091.3 280.0 1091.5 331.1 1091.6 334.4 1091.8 281.3 1091.9 319.1 1092.0 332.9 1092.2 325.0 1092.3 289.0 1092.5 280.9 1092.6 306.7 1092.7 299.4 1092.9 309.3 1093.0 307.7 1093.2 320.5 1093.3 299.1 1093.4 307.3 1093.6 329.7 1093.7 308.4 1093.9 325.9 1094.0 317.2 1094.1 316.1 1094.3 293.8 1094.4 322.7 1094.6 311.4 1094.7 329.0 1094.8 353.9 1095.0 316.9 1095.1 328.7 1095.3 293.3 1095.4 316.3 1095.5 345.2 1095.7 313.3 1095.8 302.0 1096.0 319.1 1096.1 311.5 1096.2 310.7 1096.4 308.3 1096.5 355.6 1096.6 298.8 1096.8 308.2 1096.9 305.4 1097.1 341.8 1097.2 311.7 1097.3 343.6 1097.5 321.1 1097.6 317.5 1097.8 289.1 1097.9 342.7 1098.0 329.6 1098.2 327.1 1098.3 316.9 1098.4 311.2 1098.6 294.4 1098.7 339.0 1098.9 325.7 1099.0 313.4 1099.1 308.2 1099.3 323.4 1099.4 319.5 1099.5 354.4 1099.7 337.3 1099.8 310.2 1100.0 300.2 1100.1 317.8 1100.2 304.6 1100.4 324.5 1100.5 331.2 1100.6 336.1 1100.8 331.9 1100.9 320.0 1101.0 336.0 1101.2 306.6 1101.3 322.9 1101.5 340.8 1101.6 330.6 1101.7 299.9 1101.9 302.5 1102.0 293.6 1102.1 361.5 1102.3 295.4 1102.4 323.5 1102.5 362.7 1102.7 347.9 1102.8 352.8 1102.9 317.2 1103.1 341.8 1103.2 336.4 1103.4 327.0 1103.5 336.0 1103.6 321.9 1103.8 328.0 1103.9 335.8 1104.0 355.9 1104.2 311.3 1104.3 301.2 1104.4 329.8 1104.6 333.6 1104.7 357.3 1104.8 344.0 1105.0 318.0 1105.1 341.4 1105.2 352.3 1105.4 336.3 1105.5 324.4 1105.6 344.3 1105.8 324.5 1105.9 295.4 1106.0 357.6 1106.2 307.0 1106.3 325.7 1106.5 326.2 1106.6 326.0 1106.7 327.2 1106.9 305.1 1107.0 343.2 1107.1 333.8 1107.3 334.2 1107.4 354.3 1107.5 355.0 1107.7 359.8 1107.8 369.8 1107.9 343.1 1108.1 305.1 1108.2 338.9 1108.3 335.3 1108.5 336.5 1108.6 323.9 1108.7 318.6 1108.9 351.0 1109.0 354.5 1109.1 314.9 1109.3 346.7 1109.4 333.4 1109.5 329.4 1109.6 350.0 1109.8 336.2 1109.9 326.9 1110.0 338.6 1110.2 299.9 1110.3 326.7 1110.4 329.8 1110.6 311.9 1110.7 341.8 1110.8 343.7 1111.0 327.5 1111.1 335.8 1111.2 351.9 1111.4 359.3 1111.5 325.2 1111.6 346.1 1111.8 359.4 1111.9 339.5 1112.0 325.8 1112.2 326.0 1112.3 334.6 1112.4 321.4 1112.5 378.6 1112.7 330.5 1112.8 348.4 1112.9 344.9 1113.1 353.6 1113.2 334.7 1113.3 317.8 1113.5 372.7 1113.6 340.9 1113.7 344.8 1113.9 346.5 1114.0 366.4 1114.1 357.4 1114.2 365.1 1114.4 358.8 1114.5 346.6 1114.6 348.7 1114.8 330.4 1114.9 308.6 1115.0 340.2 1115.2 325.0 1115.3 363.1 1115.4 373.9 1115.5 366.9 1115.7 335.4 1115.8 383.6 1115.9 314.6 1116.1 323.9 1116.2 332.0 1116.3 329.0 1116.5 349.1 1116.6 350.4 1116.7 382.0 1116.8 365.5 1117.0 369.8 1117.1 355.3 1117.2 345.2 1117.4 335.6 1117.5 320.8 1117.6 332.6 1117.7 341.7 1117.9 362.7 1118.0 318.4 1118.1 324.4 1118.3 353.4 1118.4 330.6 1118.5 355.9 1118.6 342.5 1118.8 336.6 1118.9 326.3 1119.0 348.9 1119.2 337.6 1119.3 339.9 1119.4 339.7 1119.5 354.7 1119.7 354.2 1119.8 320.9 1119.9 349.0 1120.1 359.3 1120.2 371.0 1120.3 366.6 1120.4 356.6 1120.6 332.7 1120.7 339.6 1120.8 370.0 1120.9 341.4 1121.1 372.4 1121.2 377.1 1121.3 335.7 1121.5 362.7 1121.6 353.2 1121.7 391.5 1121.8 370.6 1122.0 346.9 1122.1 363.4 1122.2 340.2 1122.3 354.0 1122.5 360.6 1122.6 359.8 1122.7 362.9 1122.8 341.7 1123.0 325.2 1123.1 351.8 1123.2 342.7 1123.4 346.4 1123.5 396.6 1123.6 379.7 1123.7 356.4 1123.9 334.6 1124.0 337.2 1124.1 366.5 1124.2 379.2 1124.4 355.7 1124.5 307.1 1124.6 365.7 1124.7 380.1 1124.9 328.9 1125.0 364.7 1125.1 369.3 1125.2 379.0 1125.4 369.6 1125.5 343.8 1125.6 353.1 1125.7 337.0 1125.9 367.1 1126.0 367.3 1126.1 373.1 1126.2 347.7 1126.4 345.0 1126.5 391.3 1126.6 368.4 1126.7 395.6 1126.9 373.3 1127.0 340.8 1127.1 380.1 1127.2 387.7 1127.4 359.0 1127.5 333.9 1127.6 378.6 1127.7 365.1 1127.9 372.5 1128.0 356.0 1128.1 376.0 1128.2 391.4 1128.4 353.9 1128.5 384.1 1128.6 338.1 1128.7 337.7 1128.9 362.0 1129.0 398.0 1129.1 397.7 1129.2 360.1 1129.3 387.7 1129.5 380.8 1129.6 375.6 1129.7 377.4 1129.8 359.4 1130.0 385.5 1130.1 390.1 1130.2 380.8 1130.3 388.1 1130.5 366.0 1130.6 352.8 1130.7 379.0 1130.8 374.8 1131.0 428.9 1131.1 371.7 1131.2 368.3 1131.3 373.7 1131.4 372.8 1131.6 390.5 1131.7 399.8 1131.8 387.0 1131.9 357.2 1132.1 361.6 1132.2 365.2 1132.3 375.6 1132.4 369.7 1132.5 371.2 1132.7 361.9 1132.8 393.3 1132.9 391.9 1133.0 393.9 1133.2 376.9 1133.3 386.0 1133.4 363.6 1133.5 362.2 1133.6 370.2 1133.8 389.1 1133.9 377.3 1134.0 361.1 1134.3 387.4 1134.5 370.0 1134.6 382.3 1134.7 374.5 1134.9 376.3 1135.0 380.5 1135.1 394.5 1135.2 412.3 1135.3 408.2 1135.5 393.2 1135.6 376.6 1135.7 378.3 1135.8 379.3 1135.9 402.7 1136.1 385.5 1136.2 388.6 1136.3 352.2 1136.4 384.8 1136.6 406.6 1136.7 370.6 1136.8 348.5 1136.9 406.9 1137.0 410.5 1137.2 394.4 1137.3 406.9 1137.4 373.8 1137.5 406.0 1137.6 414.7 1137.9 392.3 1138.0 408.7 1138.1 406.4 1138.2 376.4 1138.4 410.6 1138.5 400.9 1138.6 391.7 1138.7 410.3 1138.8 404.5 1139.0 401.8 1139.1 382.0 1139.2 403.7 1139.3 372.8 1139.4 388.7 1139.6 363.9 1139.7 363.9 1139.8 398.5 1139.9 390.3 1140.0 393.2 1140.1 401.5 1140.3 397.9 1140.4 378.3 1140.5 393.9 1140.7 384.8 1141.0 387.7 1141.1 383.4 1141.2 388.6 1141.3 397.9 1141.5 427.4 1141.6 381.5 1141.7 403.2 1141.8 371.6 1141.9 420.7 1142.0 390.1 1142.2 397.9 1142.3 416.3 1142.4 411.9 1142.5 372.4 1142.9 406.8 1143.0 399.6 1143.1 409.1 1143.2 402.2 1143.3 395.5 1143.5 416.8 1143.6 373.5 1143.7 391.5 1143.8 383.3 1143.9 396.5 1144.0 392.2 1144.2 396.9 1144.3 391.6 1144.4 392.2 1144.5 373.6 1144.8 405.2 1145.0 390.2 1145.1 390.6 1145.2 428.0 1145.3 404.3 1145.5 407.8 1145.6 397.0 1145.7 394.0 1145.8 388.1 1145.9 427.1 1146.0 375.4 1146.2 407.6 1146.3 402.6 1146.4 399.1 1146.5 378.4 1146.7 419.6 1147.0 418.3 1147.1 415.2 1147.2 413.9 1147.3 417.1 1147.4 385.7 1147.6 397.7 1147.7 416.4 1147.8 385.5 1147.9 432.6 1148.0 397.2 1148.2 390.1 1148.4 412.6 1148.5 395.2 1148.6 403.3 1148.7 389.2 1148.8 426.6 1148.9 381.7 1149.1 415.2 1149.2 412.0 1149.3 415.4 1149.4 392.3 1149.5 425.4 1150.0 407.1 1150.1 420.1 1150.2 396.9 1150.3 419.1 1150.4 417.0 1150.6 388.1 1150.7 395.6 1150.8 409.2 1150.9 408.7 1151.0 431.0 1151.4 390.4 1151.5 410.9 1151.6 403.2 1151.7 395.1 1151.8 411.0 1151.9 430.0 1152.0 414.8 1152.3 419.0 1152.5 388.9 1152.6 422.3 1152.7 405.8 1152.8 432.6 1153.0 419.9 1153.1 402.3 1153.2 418.9 1153.3 436.3 1153.4 412.8 1153.5 399.0 1153.6 405.6 1154.0 396.1 1154.1 423.8 1154.2 435.0 1154.3 411.6 1154.4 430.2 1154.5 432.3 1154.7 445.0 1154.9 412.8 1155.0 425.4 1155.1 420.4 1155.2 423.9 1155.3 440.0 1155.4 412.6 1155.6 423.1 1155.7 404.1 1155.8 417.5 1155.9 409.5 1156.0 408.3 1156.5 434.1 1156.6 397.6 1156.7 437.7 1156.8 386.2 1156.9 426.0 1157.0 433.6 1157.1 472.6 1157.4 410.3 1157.5 437.4 1157.6 412.1 1157.7 407.9 1157.8 392.7 1157.9 426.9 1158.0 444.8 1158.5 412.1 1158.6 444.0 1158.7 434.6 1158.8 411.2 1158.9 404.3 1159.0 414.8 1159.4 451.0 1159.5 412.8 1159.6 419.6 1159.7 447.5 1159.8 429.0 1159.9 437.8 1160.0 404.6 1160.3 425.6 1160.5 419.4 1160.6 400.0 1160.7 452.4 1160.8 428.7 1160.9 378.4 1161.0 443.8 1161.5 414.5 1161.6 415.0 1161.7 432.8 1161.8 439.8 1161.9 435.3 1162.0 437.9 1162.1 447.0 1162.3 432.4 1162.5 445.8 1162.6 432.9 1162.7 427.1 1162.8 421.5 1162.9 409.3 1163.0 403.8 1163.5 454.4 1163.6 444.8 1163.7 430.3 1163.8 445.6 1163.9 426.6 1164.0 435.5 1164.1 459.0 1164.3 425.7 1164.4 441.3 1164.6 449.2 1164.8 423.9 1164.9 460.7 1165.0 426.1 1165.1 409.8 1165.2 433.4 1165.3 444.1 1165.4 441.6 1165.5 447.0 1165.6 397.2 1165.9 451.5 1166.0 426.0 1166.1 453.6 1166.2 440.4 1166.3 439.2 1166.4 459.9 1166.5 425.1 1166.8 437.0 1167.0 406.4 1167.1 453.4 1167.5 427.7 1167.6 453.5 1167.7 435.3 1167.8 445.9 1167.9 420.3 1168.0 430.1 1168.1 440.6 1168.3 419.6 1168.5 434.0 1168.6 452.7 1168.7 447.2 1168.8 449.5 1168.9 440.0 1169.0 449.7 1169.1 460.0 1169.2 438.1 1169.4 444.9 1169.5 403.6 1169.9 447.9 1170.0 430.8 1170.1 451.5 1170.2 425.7 1170.3 433.1 1170.4 462.8 1170.5 414.2 1170.6 434.5 1170.9 427.1 1171.0 446.0 1171.3 414.4 1171.5 416.4 1171.6 441.4 1171.7 435.7 1171.8 424.3 1171.9 429.8 1172.0 433.7 1172.1 442.4 1172.4 412.2 1172.5 430.6 1172.6 404.3 1173.0 468.3 1173.1 455.3 1173.5 416.2 1173.6 449.9 1173.7 452.2 1173.8 440.7 1173.9 403.1 1174.0 444.5 1174.1 448.9 1174.4 406.7 1174.6 430.7 1174.8 446.7 1175.0 437.7 1175.1 443.0 1175.2 423.6 1175.3 457.7 1175.5 446.7 1175.6 433.9 1175.7 430.0 1175.8 443.3 1175.9 441.1 1176.0 455.4 1176.2 424.8 1176.4 435.5 1176.5 421.2 1176.8 437.9 1177.0 411.7 1177.1 432.3 1177.2 437.3 1177.4 414.5 1177.5 424.5 1177.6 455.6 1177.7 421.4 1177.8 428.5 1177.9 429.3 1178.0 439.2 1178.2 402.5 1178.4 411.4 1178.5 433.2 1178.7 406.7 1178.8 459.9 1179.0 431.8 1179.1 448.1 1179.3 421.7 1179.5 427.6 1179.6 448.8 1179.8 427.6 1179.9 459.8 1180.0 441.6 1180.1 440.6 1180.2 420.7 1180.3 439.7 1180.4 409.8 1180.5 440.6 1180.6 418.2 1180.9 436.8 1181.0 438.8 1181.4 402.7 1181.5 453.2 1181.7 409.4 1181.8 463.6 1182.0 421.6 1182.1 441.1 1182.4 442.3 1182.5 410.5 1182.6 431.8 1182.8 433.6 1183.0 421.7 1183.1 420.2 1183.2 445.9 1183.3 418.1 1183.5 437.0 1183.6 429.7 1183.7 438.0 1183.8 439.8 1183.9 422.5 1184.0 436.3 1184.1 461.3 1184.2 413.5 1184.4 418.2 1184.5 462.1 1184.6 407.8 1184.9 416.0 1185.0 427.6 1185.2 408.1 1185.4 437.2 1185.5 422.9 1185.8 448.0 1185.9 409.1 1186.0 438.5 1186.2 398.3 1186.4 438.5 1186.5 433.1 1186.6 410.5 1186.7 453.6 1187.0 426.6 1187.1 419.0 1187.4 445.4 1187.5 432.2 1187.6 436.9 1187.8 403.3 1188.0 410.6 1188.1 424.9 1188.4 440.4 1188.5 403.3 1188.6 449.8 1189.0 411.8 1189.1 413.8 1189.2 440.4 1189.5 395.9 1189.6 398.8 1189.8 447.6 1190.0 410.8 1190.1 427.8 1190.3 433.2 1190.5 393.0 1190.6 447.1 1190.9 391.9 1191.0 429.4 1191.1 415.4 1191.2 406.0 1191.4 443.6 1191.5 413.6 1191.6 433.1 1191.7 405.7 1192.0 416.9 1192.1 432.5 1192.2 403.0 1192.3 437.5 1192.5 418.4 1192.6 403.0 1192.7 389.9 1193.0 423.0 1193.1 404.5 1193.5 425.4 1193.5 425.4 1193.6 436.0 1193.7 408.1 1193.9 422.9 1194.0 413.6 1194.1 404.3 1194.2 443.1 1194.4 411.6 1194.5 420.9 1194.8 397.6 1194.9 421.7 1195.0 416.6 1195.2 434.6 1195.3 398.1 1195.4 403.7 1195.5 421.2 1195.6 431.8 1195.9 383.5 1196.0 426.0 1196.3 407.0 1196.5 433.5 1196.6 443.0 1196.8 396.4 1197.0 427.4 1197.1 425.2 1197.2 447.3 1197.4 400.7 1197.5 406.6 1197.6 427.0 1197.8 399.9 1198.0 435.3 1198.1 419.8 1198.3 429.0 1198.4 399.8 1198.5 428.1 1198.7 382.0 1198.9 418.3 1199.0 421.6 1199.4 384.2 1199.5 421.7 1199.9 425.3 1200.0 375.0 1200.1 398.0 1200.4 434.3 1200.5 417.7 1200.6 398.7 1200.7 428.1 1201.0 400.3 1201.1 400.3 1201.2 420.9 1201.4 395.2 1201.5 419.2 1201.6 436.6 1201.9 391.3 1202.0 386.0 1202.2 432.8 1202.4 415.9 1202.5 411.1 1202.6 422.8 1202.7 389.5 1203.0 400.7 1203.1 405.8 1203.5 390.0 1203.6 428.3 1203.7 397.9 1203.8 429.4 1203.9 424.4 1204.0 411.6 1204.1 395.1 1204.4 425.1 1204.5 399.9 1204.8 424.2 1205.0 387.2 1205.1 409.3 1205.2 419.1 1205.5 401.4 1205.6 418.6 1205.9 389.5 1206.0 430.5 1206.1 372.3 1206.5 400.0 1206.6 373.3 1207.0 404.6 1207.1 383.6 1207.2 404.6 1207.3 372.9 1207.4 394.2 1207.5 430.6 1207.9 375.9 1208.0 407.1 1208.1 417.8 1208.4 388.3 1208.5 400.1 1208.6 400.8 1208.8 407.8 1208.9 362.1 1209.0 392.5 1209.2 377.1 1209.4 396.5 1209.5 400.0 1209.7 417.9 1209.8 383.1 1210.0 388.4 1210.1 380.8 1210.3 370.9 1210.3 414.7 1210.4 383.7 1210.5 392.7 1210.6 407.0 1211.0 370.7 1211.1 400.0 1211.3 423.4 1211.4 378.4 1211.5 397.5 1211.6 386.3 1211.6 406.9 1211.9 358.7 1212.0 397.4 1212.2 403.6 1212.5 373.4 1212.6 392.9 1212.8 402.0 1212.9 369.0 1213.0 367.6 1213.1 396.6 1213.5 384.8 1213.6 385.9 1213.8 358.3 1214.0 409.5 1214.0 375.0 1214.1 379.8 1214.3 356.6 1214.4 363.2 1214.5 386.4 1214.7 412.8 1214.9 348.1 1215.0 373.0 1215.1 359.6 1215.2 401.3 1215.4 355.4 1215.5 388.9 1215.7 397.8 1216.0 379.8 1216.1 391.9 1216.3 367.1 1216.4 387.5 1216.5 371.4 1216.8 399.1 1216.9 349.8 1217.0 350.9 1217.1 385.0 1217.2 358.3 1217.4 410.9 1217.5 362.8 1217.9 381.1 1218.0 348.9 1218.1 379.8 1218.2 404.1 1218.3 343.2 1218.4 384.3 1218.5 374.1 1218.8 390.5 1218.9 365.6 1219.0 367.3 1219.1 390.4 1219.2 369.0 1219.4 381.4 1219.5 379.4 1219.6 402.4 1220.0 344.5 1220.1 355.9 1220.1 402.0 1220.4 346.2 1220.5 361.9 1220.6 345.9 1220.8 375.9 1221.0 356.5 1221.0 388.0 1221.4 356.6 1221.5 359.0 1221.6 331.7 1221.7 376.9 1221.9 346.6 1222.0 374.2 1222.3 337.7 1222.5 362.6 1222.6 349.4 1222.7 379.0 1222.9 359.3 1223.0 350.9 1223.1 378.6 1223.5 345.9 1223.6 367.6 1223.8 380.6 1223.9 355.5 1224.0 371.7 1224.1 325.3 1224.2 376.8 1224.4 350.9 1224.5 381.9 1224.8 350.1 1225.0 363.7 1225.1 390.8 1225.4 352.1 1225.5 347.0 1225.6 386.2 1225.9 336.8 1226.0 371.1 1226.3 342.1 1226.5 364.9 1226.6 351.8 1226.7 366.5 1226.7 332.4 1226.9 338.4 1227.0 355.6 1227.1 380.8 1227.4 346.1 1227.5 369.1 1227.7 375.3 1227.9 338.5 1228.0 347.7 1228.1 353.6 1228.3 326.6 1228.5 347.2 1228.6 350.3 1228.7 383.4 1228.9 329.1 1229.0 333.0 1229.3 327.7 1229.4 367.2 1229.5 333.1 1229.5 363.8 1229.9 342.7 1230.0 355.0 1230.1 325.0 1230.3 368.9 1230.5 336.2 1230.6 373.1 1230.9 298.3 1231.0 354.6 1231.1 343.8 1231.4 361.3 1231.5 357.5 1231.5 341.6 1231.7 372.9 1231.9 323.1 1232.0 346.0 1232.1 339.4 1232.3 324.0 1232.5 365.6 1232.6 322.5 1232.7 341.1 1232.9 331.0 1233.0 342.6 1233.1 317.2 1233.4 334.6 1233.5 339.2 1233.7 332.0 1234.0 354.0 1234.0 319.2 1234.2 349.9 1234.5 333.5 1234.6 343.1 1234.6 311.8 1234.7 344.1 1235.0 331.1 1235.1 352.0 1235.5 314.4 1235.6 304.0 1235.9 335.0 1236.0 353.7 1236.1 318.4 1236.3 364.6 1236.4 327.8 1236.5 299.1 1236.9 334.9 1236.9 327.9 1237.0 350.3 1237.1 311.8 1237.5 333.4 1237.5 343.2 1237.9 317.2 1238.0 329.3 1238.0 322.6 1238.2 344.8 1238.5 317.4 1238.6 354.6 1238.7 311.8 1239.0 321.2 1239.1 355.1 1239.1 308.4 1239.5 322.5 1239.6 345.1 1239.9 348.8 1240.0 298.9 1240.1 311.6 1240.2 340.0 1240.5 316.0 1240.6 317.8 1240.7 345.1 1241.0 341.9 1241.1 335.4 1241.2 297.4 1241.5 313.3 1241.6 316.6 1241.7 306.8 1241.7 341.3 1242.0 330.5 1242.1 306.1 1242.3 346.2 1242.5 311.0 1242.6 339.2 1242.7 303.9 1243.0 319.4 1243.1 329.1 1243.2 335.4 1243.5 316.4 1243.6 342.5 1243.7 304.8 1243.8 353.3 1244.0 314.7 1244.1 351.5 1244.3 295.0 1244.5 325.4 1244.6 295.0 1244.7 278.9 1244.9 326.8 1245.0 320.0 1245.1 281.9 1245.3 340.2 1245.5 299.1 1245.6 302.2 1245.7 286.5 1245.9 339.1 1246.0 295.2 1246.1 281.6 1246.3 323.2 1246.5 308.6 1246.6 297.5 1246.6 295.1 1247.0 319.0 1247.0 296.6 1247.3 329.3 1247.4 278.2 1247.5 303.5 1247.5 316.6 1247.8 320.0 1247.9 279.7 1248.0 288.1 1248.4 329.7 1248.4 308.1 1248.5 288.1 1248.6 324.7 1248.7 284.8 1248.9 319.1 1249.0 321.1 1249.2 293.5 1249.5 311.2 1249.6 327.9 1249.7 330.2 1249.7 290.0 1250.0 310.6 1250.1 298.0 1250.1 275.0 1250.2 312.6 1250.5 299.0 1250.5 326.0 1250.8 284.8 1251.0 295.3 1251.0 304.0 1251.1 309.0 1251.4 284.8 1251.4 290.6 1251.5 292.5 1251.7 277.9 1251.8 314.9 1251.9 308.5 1252.0 297.3 1252.2 302.7 1252.3 275.2 1252.5 298.6 1252.6 271.5 1252.8 310.0 1253.0 292.4 1253.0 292.2 1253.2 312.6 1253.4 270.8 1253.5 283.8 1253.5 302.5 1253.6 282.8 1253.9 321.2 1253.9 296.4 1254.0 297.7 1254.3 309.7 1254.5 260.1 1254.6 302.2 1254.7 283.6 1254.9 308.2 1255.0 295.3 1255.1 280.6 1255.4 313.2 1255.4 277.4 1255.5 300.9 1255.8 320.6 1255.9 267.8 1256.0 299.3 1256.2 257.1 1256.2 319.3 1256.5 293.5 1256.6 274.5 1257.0 310.2 1257.0 271.8 1257.1 262.1 1257.4 299.5 1257.4 269.7 1257.5 286.5 1257.7 312.9 1257.8 271.2 1258.0 304.0 1258.1 256.1 1258.2 310.7 1258.5 298.7 1258.5 281.8 1258.6 261.9 1258.9 302.6 1259.0 278.4 1259.2 255.3 1259.4 309.9 1259.5 255.6 1259.6 289.7 1259.8 312.4 1260.0 269.3 1260.0 306.8 1260.3 254.0 1260.4 277.9 1260.5 277.1 1260.7 250.6 1260.8 292.2 1261.0 276.1 1261.0 256.5 1261.4 284.1 1261.4 283.9 1261.5 287.6 1261.9 252.7 1262.0 274.2 1262.1 252.1 1262.1 246.7 1262.4 290.9 1262.5 274.0 1262.5 287.9 1262.6 303.0 1262.8 266.9 1263.0 279.2 1263.1 279.1 1263.2 259.0 1263.5 295.6 1263.5 251.9 1263.8 314.9 1263.9 267.5 1264.0 288.8 1264.2 247.9 1264.3 309.6 1264.5 268.3 1264.5 253.4 1264.9 294.8 1264.9 269.2 1265.0 276.1 1265.2 297.1 1265.2 267.8 1265.5 284.1 1265.5 242.9 1265.6 292.8 1265.9 240.9 1266.0 260.1 1266.2 295.4 1266.5 286.6 1266.5 265.3 1266.6 279.6 1266.8 254.9 1266.9 260.6 1267.0 290.7 1267.1 248.5 1267.5 261.6 1267.5 302.6 1268.0 246.3 1268.1 256.0 1268.2 244.7 1268.3 296.7 1268.5 261.7 1268.5 274.2 1268.6 294.0 1268.8 252.6 1269.0 258.3 1269.1 258.2 1269.1 288.8 1269.4 231.9 1269.5 233.2 1269.7 287.0 1270.0 277.5 1270.0 247.7 1270.2 241.4 1270.3 282.1 1270.5 265.9 1270.6 265.6 1270.8 270.9 1271.0 254.5 1271.0 257.5 1271.1 256.5 1271.3 297.0 1271.5 264.8 1271.6 252.9 1271.8 248.6 1271.9 289.5 1272.0 248.1 1272.3 283.9 1272.5 259.5 1272.5 248.3 1272.8 242.4 1272.9 278.5 1273.0 252.0 1273.1 248.7 1273.3 285.0 1273.4 256.9 1273.5 242.5 1273.7 277.3 1274.0 239.9 1274.0 263.2 1274.2 229.7 1274.3 273.4 1274.5 244.9 1274.6 260.6 1274.6 267.9 1274.8 249.3 1275.0 249.9 1275.1 257.6 1275.4 285.6 1275.4 247.6 1275.5 254.1 1275.7 274.8 1276.0 232.5 1276.0 244.4 1276.5 271.3 1276.6 282.9 1276.8 236.6 1276.9 248.2 1277.0 277.8 1277.4 221.7 1277.5 217.9 1277.7 270.6 1278.0 245.8 1278.0 251.8 1278.4 255.5 1278.5 219.1 1278.5 254.8 1278.9 276.6 1279.0 242.5 1279.1 247.2 1279.3 261.5 1279.4 210.8 1279.5 247.8 1279.7 262.5 1279.8 216.7 1279.9 254.8 1280.0 249.7 1280.2 239.4 1280.2 275.7 1280.5 259.8 1280.5 277.6 1280.9 241.5 1281.0 249.3 1281.0 272.0 1281.2 240.2 1281.3 278.0 1281.5 258.6 1281.5 261.4 1281.6 235.6 1281.7 272.1 1282.0 242.1 1282.1 249.8 1282.3 222.1 1282.5 282.2 1282.6 214.1 1283.0 273.3 1283.1 232.0 1283.1 257.3 1283.4 221.4 1283.5 238.3 1283.6 222.8 1283.9 271.7 1283.9 269.8 1284.0 227.0 1284.2 274.1 1284.4 234.6 1284.5 260.9 1284.6 239.9 1284.9 272.1 1285.0 231.1 1285.2 215.2 1285.4 265.4 1285.5 237.0 1285.6 276.4 1285.9 222.4 1285.9 270.5 1286.0 238.6 1286.1 262.3 1286.2 237.1 1286.4 240.5 1286.5 254.5 1286.7 259.4 1286.9 219.6 1287.0 238.7 1287.1 260.9 1287.4 211.6 1287.5 214.0 1287.7 263.7 1287.9 204.1 1288.0 250.4 1288.2 239.3 1288.4 267.2 1288.4 255.5 1288.5 224.5 1288.9 263.1 1289.0 230.6 1289.1 219.5 1289.4 236.7 1289.4 232.2 1289.5 258.4 1289.8 263.0 1289.9 224.8 1290.0 246.5 1290.2 220.8 1290.3 274.6 1290.5 228.5 1290.6 241.3 1290.8 255.4 1291.0 211.6 1291.1 257.6 1291.1 229.8 1291.5 249.3 1291.5 204.3 1291.7 286.4 1291.8 201.5 1292.0 227.8 1292.0 267.1 1292.2 187.8 1292.5 227.3 1292.5 261.5 1292.7 206.0 1293.0 258.6 1293.0 253.6 1293.1 205.4 1293.4 250.1 1293.5 258.1 1293.9 220.4 1294.0 261.0 1294.1 236.0 1294.3 222.8 1294.4 273.0 1294.5 242.6 1294.6 238.5 1294.7 261.2 1294.8 207.6 1295.0 222.4 1295.0 213.2 1295.2 254.6 1295.4 210.7 1295.5 216.7 1295.5 231.0 1295.6 244.0 1295.8 205.1 1295.9 214.7 1296.0 271.8 1296.1 216.0 1296.5 243.9 1296.6 227.4 1296.6 226.8 1296.8 254.3 1297.0 236.1 1297.0 244.7 1297.3 219.1 1297.5 287.9 1297.5 235.2 1297.7 197.6 1297.8 254.5 1297.9 212.2 1298.0 255.1 1298.2 219.2 1298.5 245.0 1298.6 208.9 1298.7 238.4 1298.8 197.0 1299.0 223.6 1299.0 251.3 1299.3 195.1 1299.4 246.4 1299.5 218.9 1299.7 248.4 1299.9 198.6 1300.0 239.1 1300.1 212.4 1300.2 258.9 1300.5 222.3 1300.5 227.0 1300.7 235.5 1300.9 215.8 1301.0 225.6 1301.1 265.3 1301.2 196.4 1301.5 225.7 1301.6 261.5 1301.6 192.1 1302.0 198.8 1302.0 245.1 1302.2 194.6 1302.4 241.0 1302.5 195.8 1302.6 241.0 1303.0 218.4 1303.0 265.5 1303.3 214.2 1303.4 230.6 1303.5 240.7 1303.6 212.6 1304.0 228.5 1304.1 257.6 1304.3 193.7 1304.5 195.8 1304.5 220.5 1304.6 183.8 1304.8 254.2 1305.0 196.1 1305.1 219.7 1305.3 203.2 1305.3 253.7 1305.5 215.5 1305.5 216.2 1305.7 205.1 1305.7 234.6 1306.0 228.6 1306.1 255.5 1306.3 204.8 1306.5 231.0 1306.5 227.0 1306.8 190.6 1306.9 244.3 1307.0 203.7 1307.1 242.4 1307.5 193.0 1307.5 198.8 1307.7 260.2 1308.0 212.8 1308.1 221.0 1308.2 220.5 1308.3 251.4 1308.5 245.2 1308.5 221.5 1308.6 235.4 1308.8 201.2 1309.0 227.9 1309.1 176.9 1309.4 251.9 1309.5 186.5 1309.7 178.1 1309.9 237.8 1310.0 211.3 1310.0 192.4 1310.3 228.0 1310.4 205.6 1310.5 200.4 1310.7 236.1 1310.8 194.8 1311.0 205.8 1311.0 208.2 1311.4 205.9 1311.5 230.1 1311.6 213.4 1311.9 226.2 1311.9 179.0 1312.0 229.2 1312.4 173.4 1312.5 199.6 1312.5 194.9 1312.9 238.4 1313.0 208.1 1313.1 202.7 1313.1 213.6 1313.3 179.9 1313.4 182.9 1313.5 231.1 1314.0 181.7 1314.0 216.8 1314.2 187.7 1314.4 249.4 1314.5 209.5 1314.6 202.8 1314.8 180.5 1314.9 230.3 1314.9 224.6 1315.0 207.2 1315.1 257.5 1315.4 196.8 1315.5 230.1 1315.5 169.3 1315.9 234.6 1316.0 226.0 1316.0 212.5 1316.4 228.1 1316.5 172.8 1316.6 219.4 1316.7 169.7 1316.9 205.1 1317.0 212.9 1317.1 218.4 1317.2 175.2 1317.5 194.4 1317.5 201.7 1317.8 163.7 1317.9 243.8 1318.0 232.5 1318.0 214.7 1318.1 230.5 1318.2 191.2 1318.5 202.5 1318.5 196.1 1318.6 233.1 1318.8 174.0 1319.0 185.2 1319.1 231.1 1319.4 232.5 1319.5 179.1 1319.6 180.5 1319.9 226.7 1319.9 177.9 1320.0 233.7 1320.2 234.6 1320.3 173.1 1320.5 184.6 1320.5 206.9 1320.7 221.6 1320.8 164.1 1321.0 207.4 1321.0 166.6 1321.2 235.9 1321.5 206.5 1321.5 186.2 1321.7 163.7 1321.7 236.0 1322.0 186.6 1322.0 171.7 1322.2 235.0 1322.5 220.0 1322.5 213.7 1322.8 169.9 1323.0 201.0 1323.0 203.5 1323.1 210.9 1323.4 155.7 1323.5 191.4 1323.5 205.3 1323.7 176.2 1323.9 233.2 1324.0 185.1 1324.0 181.9 1324.3 151.5 1324.4 226.9 1324.5 205.7 1324.6 165.4 1324.7 154.8 1324.8 212.3 1325.0 197.3 1325.1 181.6 1325.1 223.1 1325.3 155.3 1325.5 213.5 1325.6 194.5 1325.6 240.9 1325.9 172.7 1326.0 197.0 1326.0 203.1 1326.4 169.6 1326.5 202.7 1326.5 207.8 1326.9 164.7 1327.0 179.1 1327.0 149.9 1327.3 218.4 1327.5 185.8 1327.5 172.9 1327.7 146.5 1327.8 206.7 1328.0 176.2 1328.0 210.8 1328.1 169.8 1328.2 227.2 1328.5 216.9 1328.5 170.3 1328.8 232.0 1329.0 177.2 1329.0 148.1 1329.1 207.2 1329.3 142.0 1329.5 158.2 1329.5 174.2 1329.7 157.6 1329.9 229.6 1330.0 195.5 1330.3 219.0 1330.5 150.6 1330.6 175.8 1330.6 213.9 1330.9 165.9 1331.0 197.3 1331.0 200.6 1331.2 216.9 1331.3 151.8 1331.5 161.7 1331.5 152.8 1331.9 210.4 1332.0 205.5 1332.0 204.2 1332.1 144.7 1332.3 224.1 1332.5 183.2 1332.5 223.3 1332.6 143.4 1332.9 232.6 1332.9 164.6 1333.0 186.6 1333.2 218.3 1333.4 116.2 1333.5 187.9 1333.5 201.2 1333.6 169.7 1333.7 220.1 1334.0 183.7 1334.0 164.9 1334.1 222.8 1334.3 158.2 1334.5 177.4 1334.5 142.9 1334.6 200.4 1334.7 132.3 1335.0 163.4 1335.1 201.7 1335.2 145.9 1335.4 217.4 1335.5 159.5 1335.5 147.1 1335.8 203.1 1336.0 131.5 1336.0 175.2 1336.1 153.2 1336.3 194.3 1336.4 192.4 1336.5 182.5 1336.7 149.1 1337.0 187.6 1337.0 155.7 1337.3 187.4 1337.5 167.9 1337.5 205.2 1337.8 153.5 1337.9 212.9 1337.9 197.9 1338.0 186.3 1338.1 212.4 1338.3 131.0 1338.5 170.3 1338.5 167.8 1338.6 199.5 1338.8 133.4 1339.0 156.6 1339.0 177.9 1339.3 145.5 1339.4 211.7 1339.5 167.0 1339.6 211.8 1339.8 213.0 1339.9 150.6 1340.0 187.6 1340.0 192.6 1340.1 195.7 1340.1 141.0 1340.5 174.0 1340.6 174.4 1340.6 221.3 1340.9 138.1 1341.0 199.9 1341.0 217.6 1341.3 134.4 1341.4 202.7 1341.5 203.4 1341.7 214.1 1341.8 156.6 1342.0 159.2 1342.0 147.0 1342.3 203.0 1342.4 144.7 1342.5 146.5 1342.7 135.5 1342.8 205.3 1343.0 141.1 1343.0 140.6 1343.4 205.6 1343.4 152.9 1343.5 169.4 1343.6 196.2 1343.6 149.0 1344.0 154.1 1344.0 196.9 1344.5 158.4 1344.6 178.3 1344.7 179.6 1345.0 148.6 1345.0 150.4 1345.3 133.3 1345.4 207.5 1345.5 168.1 1345.5 154.9 1345.6 186.2 1345.8 130.9 1346.0 173.2 1346.0 170.8 1346.2 149.9 1346.4 191.7 1346.5 185.6 1346.5 146.4 1346.8 184.6 1347.0 126.7 1347.1 128.8 1347.2 195.8 1347.5 169.4 1347.5 174.5 1347.6 133.5 1347.7 198.1 1348.0 157.8 1348.0 189.1 1348.1 145.6 1348.2 210.7 1348.5 159.8 1348.6 195.6 1348.6 115.7 1348.8 199.9 1349.0 166.8 1349.0 148.4 1349.1 211.6 1349.2 132.5 1349.5 169.3 1349.5 169.1 1349.6 133.1 1349.9 171.0 1350.0 156.5 1350.0 187.7 1350.2 133.5 1350.4 151.0 1350.5 200.4 1350.8 139.1 1351.0 142.1 1351.0 178.6 1351.1 116.5 1351.3 205.4 1351.5 121.5 1351.5 216.8 1351.8 120.3 1352.0 141.8 1352.0 165.0 1352.2 181.6 1352.3 142.7 1352.4 156.7 1352.5 166.2 1352.9 123.8 1353.0 185.5 1353.0 140.3 1353.4 126.9 1353.4 183.3 1353.5 148.2 1353.5 148.7 1353.6 111.9 1353.7 183.5 1354.0 126.7 1354.0 150.6 1354.1 184.2 1354.3 104.2 1354.5 132.4 1354.5 185.5 1354.8 222.7 1354.9 127.9 1355.0 161.8 1355.0 136.5 1355.4 176.4 1355.5 172.6 1355.6 150.5 1355.7 128.1 1355.8 193.9 1355.9 190.2 1356.0 121.1 1356.1 210.3 1356.4 144.3 1356.5 146.5 1356.7 112.8 1356.9 193.1 1357.0 144.9 1357.0 163.3 1357.1 188.3 1357.3 144.1 1357.5 158.2 1357.5 151.6 1357.6 108.5 1357.7 183.9 1358.0 179.2 1358.0 195.1 1358.4 136.4 1358.5 181.5 1358.5 147.3 1358.6 121.4 1358.8 186.7 1359.0 137.4 1359.0 145.2 1359.1 205.0 1359.2 133.2 1359.5 170.7 1359.5 132.0 1359.6 179.7 1360.0 141.5 1360.0 130.2 1360.1 129.0 1360.2 203.2 1360.5 158.1 1360.5 197.5 1360.6 108.7 1361.0 170.4 1361.0 147.2 1361.2 183.5 1361.4 172.1 1361.5 194.8 1361.9 125.8 1362.0 189.0 1362.1 119.1 1362.4 207.2 1362.5 191.0 1362.5 141.3 1362.6 179.1 1362.9 118.8 1363.0 125.2 1363.0 154.7 1363.1 170.2 1363.4 135.0 1363.5 144.6 1363.5 142.5 1363.7 169.3 1363.9 116.0 1364.0 146.0 1364.0 148.7 1364.1 197.1 1364.4 102.4 1364.5 146.8 1364.5 168.1 1364.6 118.4 1364.8 189.1 1364.9 171.0 1365.0 124.9 1365.1 177.5 1365.3 123.5 1365.5 141.6 1365.5 185.5 1365.7 187.7 1365.9 141.0 1366.0 172.8 1366.0 198.8 1366.1 118.1 1366.2 200.2 1366.5 178.3 1366.5 129.3 1366.8 175.6 1367.0 172.8 1367.0 136.8 1367.1 185.7 1367.3 116.0 1367.5 142.3 1367.5 132.4 1367.7 171.4 1367.8 101.4 1368.0 136.9 1368.0 121.4 1368.1 120.3 1368.1 179.2 1368.5 121.7 1368.5 145.8 1368.6 110.9 1368.7 185.7 1369.0 146.7 1369.0 142.7 1369.2 197.5 1369.4 125.8 1369.5 136.8 1369.5 186.0 1370.0 130.0 1370.0 170.7 1370.3 180.0 1370.3 117.7 1370.5 137.3 1370.5 156.6 1370.8 121.4 1370.9 183.5 1371.0 166.7 1371.0 166.1 1371.3 185.3 1371.3 119.0 1371.5 148.6 1371.5 169.1 1371.6 120.2 1371.8 182.2 1372.0 141.6 1372.0 132.1 1372.3 120.6 1372.4 196.5 1372.5 158.0 1372.5 125.7 1372.9 123.1 1372.9 183.5 1373.0 139.5 1373.0 109.6 1373.4 168.8 1373.5 139.3 1373.5 167.4 1373.6 123.6 1374.0 124.4 1374.0 142.7 1374.1 117.4 1374.4 165.8 1374.5 160.7 1374.5 155.3 1374.9 107.3 1375.0 143.6 1375.0 162.4 1375.2 132.3 1375.3 191.8 1375.5 165.7 1375.5 93.4 1375.8 171.0 1376.0 141.8 1376.0 177.9 1376.2 219.0 1376.4 127.5 1376.5 165.3 1376.5 125.9 1376.7 166.5 1376.9 107.5 1377.0 120.9 1377.0 126.3 1377.1 121.7 1377.2 185.3 1377.4 157.0 1377.5 132.6 1377.6 99.3 1377.7 169.9 1378.0 131.3 1378.0 135.9 1378.3 89.4 1378.3 170.9 1378.5 120.5 1378.5 91.2 1378.7 177.0 1379.0 138.3 1379.0 120.5 1379.2 95.9 1379.4 169.3 1379.5 139.2 1379.5 136.4 1379.7 115.3 1380.0 187.9 1380.0 132.2 1380.1 168.7 1380.5 105.2 1380.5 116.6 1380.8 168.9 1380.9 92.9 1381.0 144.6 1381.0 119.6 1381.1 153.7 1381.4 99.8 1381.5 130.9 1381.5 132.1 1381.7 88.9 1381.9 162.5 1382.0 96.3 1382.0 138.4 1382.1 167.3 1382.4 101.9 1382.5 153.2 1382.5 108.2 1382.7 161.7 1383.0 119.6 1383.0 114.3 1383.2 172.6 1383.4 102.3 1383.5 172.4 1383.5 116.4 1383.8 165.1 1384.0 142.4 1384.0 146.0 1384.2 103.7 1384.4 160.5 1384.5 124.5 1384.5 125.5 1384.7 179.7 1384.9 57.7 1385.0 127.6 1385.1 99.3 1385.1 148.8 1385.3 82.9 1385.5 147.4 1385.5 152.8 1385.9 85.1 1385.9 170.3 1386.0 121.1 1386.0 152.1 1386.2 165.7 1386.5 109.5 1386.5 153.9 1386.7 110.2 1386.8 164.6 1387.0 152.0 1387.0 127.1 1387.1 90.5 1387.1 168.6 1387.5 114.8 1387.5 140.4 1387.6 175.3 1387.8 118.4 1388.0 173.1 1388.0 137.0 1388.2 91.0 1388.4 147.1 1388.5 117.3 1388.5 116.8 1388.8 164.4 1388.9 85.3 1389.0 126.6 1389.0 160.6 1389.2 169.7 1389.5 103.5 1389.5 143.8 1389.6 167.2 1389.9 111.6 1390.0 141.0 1390.0 108.5 1390.1 153.3 1390.5 128.0 1390.5 131.5 1390.8 117.9 1390.8 162.2 1391.0 158.4 1391.0 151.4 1391.1 87.1 1391.5 148.1 1391.5 136.7 1391.7 152.5 1391.7 78.8 1392.0 131.3 1392.0 143.1 1392.3 97.8 1392.5 147.9 1392.5 93.9 1392.6 154.4 1393.0 142.8 1393.0 151.0 1393.2 73.0 1393.5 136.4 1393.5 131.5 1393.8 144.7 1393.9 88.7 1394.0 123.2 1394.0 147.8 1394.4 77.1 1394.5 157.4 1394.5 77.7 1394.9 162.5 1395.0 85.8 1395.0 80.9 1395.3 151.4 1395.5 110.1 1395.5 116.5 1395.6 154.4 1395.9 86.1 1396.0 104.2 1396.0 151.0 1396.3 163.4 1396.5 96.7 1396.5 117.3 1396.7 151.4 1396.8 76.6 1397.0 138.7 1397.0 104.0 1397.2 87.6 1397.3 156.1 1397.5 144.9 1397.5 145.1 1397.8 96.5 1398.0 154.8 1398.0 134.3 1398.2 143.0 1398.4 116.6 1398.5 128.1 1398.5 111.8 1398.7 144.5 1398.9 98.0 1399.0 106.6 1399.0 118.9 1399.3 96.6 1399.3 159.0 1399.5 146.5 1399.5 121.3 1399.7 126.4 1399.8 76.1 1400.0 89.5 1400.0 115.9 1400.2 158.4 1400.3 94.8 1400.5 122.4 1400.5 109.6 1400.6 175.6 1400.9 94.6 1401.0 125.2 1401.0 116.7 1401.3 142.2 1401.5 98.0 1401.5 105.1 1401.8 148.4 1401.9 82.0 1402.0 129.8 1402.0 107.8 1402.4 139.7 1402.5 91.5 1402.5 122.7 1402.6 143.3 1403.0 93.9 1403.0 123.2 1403.2 154.1 1403.4 83.5 1403.5 108.8 1403.5 111.1 1403.6 76.4 1403.9 149.2 1404.0 85.3 1404.0 144.1 1404.2 159.4 1404.4 104.9 1404.5 124.1 1404.5 123.9 1404.8 84.7 1404.8 135.9 1405.0 101.3 1405.0 107.4 1405.1 142.7 1405.3 88.1 1405.5 131.3 1405.5 124.5 1405.7 66.3 1405.9 144.3 1406.0 137.9 1406.0 156.3 1406.2 64.2 1406.5 140.1 1406.5 132.2 1406.9 83.2 1407.0 159.7 1407.0 75.7 1407.0 140.3 1407.5 115.4 1407.5 86.6 1407.7 150.5 1408.0 68.3 1408.0 115.5 1408.2 93.5 1408.4 119.5 1408.5 116.8 1408.5 101.2 1408.8 136.5 1408.9 92.6 1409.0 132.6 1409.0 97.0 1409.2 134.2 1409.5 78.9 1409.5 116.9 1409.7 68.9 1409.9 149.9 1410.0 101.4 1410.0 118.9 1410.3 61.6 1410.5 147.0 1410.5 106.9 1410.5 138.5 1410.9 65.0 1411.0 88.1 1411.0 93.9 1411.3 147.2 1411.5 99.1 1411.5 122.4 1411.9 151.0 1412.0 98.5 1412.0 118.5 1412.3 142.3 1412.4 93.7 1412.5 94.5 1412.5 127.4 1412.6 75.2 1412.9 132.0 1413.0 126.6 1413.0 110.2 1413.1 71.6 1413.2 133.4 1413.5 111.1 1413.5 61.9 1414.0 144.3 1414.0 80.4 1414.1 77.8 1414.4 141.7 1414.5 78.2 1414.5 96.4 1414.8 120.0 1414.8 92.5 1415.0 118.4 1415.0 127.7 1415.1 141.9 1415.2 79.4 1415.5 101.3 1415.5 153.5 1415.9 97.2 1416.0 128.2 1416.0 112.6 1416.1 133.3 1416.1 80.4 1416.5 127.8 1416.5 92.6 1416.6 137.9 1417.0 80.7 1417.0 126.1 1417.4 144.4 1417.5 85.2 1417.5 81.8 1417.6 126.1 1417.9 60.8 1418.0 72.7 1418.0 84.1 1418.3 69.5 1418.3 152.4 1418.5 114.9 1418.5 94.5 1418.6 79.2 1419.0 138.7 1419.0 105.7 1419.0 126.4 1419.2 69.5 1419.5 86.5 1419.5 107.4 1419.6 136.0 1419.7 97.2 1420.0 115.1 1420.0 85.6 1420.3 64.7 1420.3 153.6 1420.5 101.2 1420.5 95.5 1420.6 140.4 1420.6 79.4 1421.0 120.6 1421.0 131.8 1421.2 84.8 1421.5 147.8 1421.5 135.9 1421.7 62.7 1422.0 85.1 1422.0 95.1 1422.1 70.1 1422.2 121.3 1422.5 107.7 1422.5 99.1 1422.8 86.6 1422.8 137.4 1423.0 108.9 1423.0 90.8 1423.1 81.0 1423.3 136.2 1423.5 82.5 1423.5 125.9 1423.6 133.5 1423.7 96.6 1424.0 105.0 1424.0 98.4 1424.0 78.0 1424.1 146.7 1424.5 136.6 1424.5 113.2 1424.8 61.5 1424.9 127.4 1425.0 90.2 1425.0 73.8 1425.3 110.5 1425.5 76.4 1425.5 81.3 1425.5 69.8 1425.7 132.5 1426.0 111.5 1426.0 86.8 1426.1 134.0 1426.4 63.4 1426.5 96.1 1426.5 103.3 1426.6 61.1 1426.6 124.2 1427.0 64.9 1427.0 98.7 1427.1 138.6 1427.4 89.0 1427.5 110.8 1427.5 136.6 1427.6 143.4 1427.7 78.4 1428.0 131.0 1428.0 71.3 1428.1 141.7 1428.5 93.7 1428.5 115.1 1428.6 66.0 1429.0 148.2 1429.0 71.6 1429.1 109.0 1429.5 90.4 1429.5 76.6 1429.9 140.1 1430.0 57.6 1430.0 60.4 1430.3 55.1 1430.4 116.3 1430.5 91.5 1430.5 102.7 1430.7 120.5 1431.0 65.9 1431.0 79.8 1431.3 145.2 1431.5 73.6 1431.5 100.9 1431.6 120.8 1431.9 55.4 1432.0 109.1 1432.0 77.5 1432.2 120.8 1432.2 60.8 1432.5 99.2 1432.5 126.8 1432.7 55.8 1433.0 82.0 1433.0 78.9 1433.4 71.3 1433.4 128.8 1433.5 117.2 1433.5 71.2 1433.6 131.3 1433.9 67.8 1434.0 111.0 1434.0 123.9 1434.2 64.3 1434.5 113.8 1434.5 106.7 1434.9 66.6 1435.0 127.1 1435.0 78.2 1435.2 124.2 1435.4 62.5 1435.5 82.8 1435.5 51.4 1435.9 124.5 1436.0 109.4 1436.0 119.6 1436.5 53.0 1436.5 67.3 1436.9 137.4 1436.9 56.7 1437.0 108.0 1437.0 93.6 1437.4 58.6 1437.5 132.8 1437.5 72.3 1437.7 155.1 1437.9 60.8 1438.0 106.8 1438.0 55.7 1438.1 51.4 1438.3 126.5 1438.5 107.1 1438.5 101.8 1438.6 129.7 1438.9 77.2 1439.0 91.6 1439.0 57.9 1439.2 129.7 1439.5 75.8 1439.5 72.5 1439.6 106.4 1440.0 59.9 1440.0 108.1 1440.1 39.6 1440.2 110.7 1440.5 67.1 1440.5 128.0 1440.7 129.3 1440.9 48.5 1441.0 81.7 1441.0 97.5 1441.3 61.8 1441.5 126.4 1441.5 78.6 1441.6 110.0 1441.7 51.5 1442.0 82.0 1442.0 75.7 1442.1 103.1 1442.4 55.0 1442.5 88.3 1442.5 73.5 1442.6 112.9 1442.8 66.1 1443.0 70.7 1443.0 92.3 1443.1 118.2 1443.3 46.4 1443.5 68.8 1443.5 117.7 1444.0 46.2 1444.0 90.4 1444.0 67.8 1444.2 123.6 1444.3 50.5 1444.5 79.1 1444.5 120.0 1444.7 120.4 1444.9 45.2 1445.0 62.2 1445.0 52.8 1445.2 50.1 1445.2 130.0 1445.5 99.7 1445.5 93.6 1445.7 105.3 1445.9 41.0 1446.0 50.2 1446.0 95.5 1446.1 126.2 1446.2 51.9 1446.5 90.5 1446.5 91.1 1446.5 49.2 1447.0 113.1 1447.0 78.8 1447.2 108.0 1447.4 54.1 1447.5 75.0 1447.5 98.1 1447.7 118.2 1447.9 44.7 1448.0 115.4 1448.0 63.8 1448.1 54.8 1448.2 110.5 1448.5 76.4 1448.5 96.7 1448.5 128.9 1448.6 31.7 1449.0 68.6 1449.0 72.1 1449.1 56.0 1449.3 114.8 1449.5 90.3 1449.5 87.2 1449.7 104.6 1449.7 68.0 1450.0 78.9 1450.0 77.1 1450.1 57.1 1450.5 95.5 1450.5 92.4 1450.6 61.0 1451.0 93.8 1451.0 62.6 1451.3 47.1 1451.5 119.7 1451.5 71.2 1451.6 94.3 1451.8 36.8 1452.0 77.6 1452.0 45.6 1452.3 127.4 1452.5 90.1 1452.5 114.6 1452.7 41.7 1453.0 58.5 1453.0 70.4 1453.1 41.7 1453.2 120.2 1453.5 67.0 1453.5 58.5 1453.7 27.4 1453.9 119.0 1454.0 99.5 1454.0 89.8 1454.2 54.5 1454.3 111.6 1454.5 104.8 1454.5 56.5 1454.6 30.0 1455.0 117.5 1455.0 50.0 1455.3 105.2 1455.5 39.6 1455.5 29.7 1455.6 105.6 1456.0 93.8 1456.0 66.0 1456.1 47.5 1456.2 115.6 1456.5 54.4 1456.5 60.8 1456.7 98.8 1456.8 27.0 1457.0 91.5 1457.0 90.0 1457.2 104.8 1457.4 30.0 1457.5 99.1 1457.5 83.8 1457.8 91.3 1457.9 37.7 1458.0 53.7 1458.0 101.9 1458.1 113.6 1458.2 38.2 1458.5 81.2 1458.5 84.5 1458.6 93.6 1458.8 32.4 1459.0 82.1 1459.0 84.8 1459.1 43.6 1459.2 108.1 1459.5 98.6 1459.5 86.5 1459.8 121.6 1460.0 28.8 1460.0 55.3 1460.1 115.4 1460.2 50.1 1460.5 75.4 1460.5 52.5 1460.8 42.5 1461.0 108.9 1461.0 73.2 1461.1 45.5 1461.4 109.6 1461.5 67.8 1461.5 52.9 1461.8 29.8 1461.9 112.0 1462.0 48.3 1462.0 72.4 1462.3 95.5 1462.3 30.0 1462.5 63.1 1462.5 96.0 1462.6 35.4 1462.7 103.4 1463.0 57.2 1463.0 52.7 1463.1 101.1 1463.4 38.8 1463.5 50.5 1463.5 53.8 1463.7 115.0 1463.8 31.3 1464.0 63.3 1464.0 75.7 1464.0 37.3 1464.2 103.5 1464.5 76.1 1464.5 88.1 1464.7 19.6 1464.7 108.7 1465.0 70.0 1465.0 59.0 1465.1 85.3 1465.4 23.3 1465.5 57.5 1465.5 94.5 1465.7 22.6 1466.0 44.6 1466.0 52.0 1466.2 100.9 1466.2 44.6 1466.5 78.8 1466.5 112.2 1467.0 48.3 1467.0 79.6 1467.0 78.9 1467.1 110.3 1467.1 36.6 1467.5 48.2 1467.5 64.2 1467.8 26.2 1468.0 91.4 1468.0 58.4 1468.2 44.6 1468.2 98.9 1468.5 47.5 1468.5 39.8 1468.7 26.0 1468.8 110.6 1469.0 51.3 1469.0 75.7 1469.1 90.8 1469.3 16.4 1469.5 39.3 1469.5 44.0 1469.6 111.6 1470.0 88.6 1470.0 73.8 1470.2 32.6 1470.5 83.2 1470.5 66.8 1470.5 23.7 1470.8 113.3 1471.0 36.5 1471.0 81.4 1471.2 106.0 1471.5 13.9 1471.5 81.5 1471.8 18.4 1472.0 72.6 1472.0 53.8 1472.4 98.4 1472.5 39.9 1472.5 81.5 1472.7 29.1 1472.8 95.4 1473.0 80.7 1473.0 57.9 1473.1 16.8 1473.5 90.8 1473.5 100.7 1473.7 20.1 1474.0 74.1 1474.0 47.0 1474.1 87.2 1474.1 19.3 1474.5 59.1 1474.5 65.3 1474.7 35.9 1474.8 110.6 1475.0 38.3 1475.0 67.1 1475.3 34.0 1475.3 87.6 1475.5 76.2 1475.5 81.3 1475.6 19.3 1476.0 105.2 1476.0 95.5 1476.2 17.4 1476.5 56.4 1476.5 36.6 1476.5 21.0 1476.8 89.0 1477.0 78.7 1477.0 53.9 1477.1 19.1 1477.3 89.8 1477.5 78.9 1477.5 51.1 1477.8 10.6 1477.8 102.6 1478.0 85.7 1478.0 82.6 1478.3 93.5 1478.5 16.7 1478.5 61.0 1478.7 86.9 1478.8 24.7 1479.0 78.6 1479.0 40.6 1479.3 89.0 1479.4 13.3 1479.5 46.5 1479.5 50.3 1479.7 16.9 1479.8 98.7 1480.0 74.1 1480.0 63.4 1480.1 17.8 1480.5 80.4 1480.5 45.8 1480.5 65.3 1480.9 24.7 1481.0 76.9 1481.0 94.8 1481.5 16.7 1481.5 45.8 1481.8 85.9 1482.0 21.7 1482.0 80.0 1482.3 34.5 1482.3 88.5 1482.5 44.5 1482.5 46.5 1482.7 122.0 1482.9 24.7 1483.0 56.3 1483.0 71.2 1483.3 35.1 1483.4 85.9 1483.5 77.5 1483.5 87.2 1483.6 18.1 1483.7 129.0 1484.0 32.2 1484.0 49.7 1484.3 82.8 1484.4 18.7 1484.5 76.8 1484.5 83.0 1484.9 32.8 1485.0 67.9 1485.0 75.9 1485.3 15.5 1485.3 89.8 1485.5 47.1 1485.5 59.9 1485.8 87.5 1485.9 16.7 1486.0 31.9 1486.0 52.2 1486.2 101.8 1486.3 22.9 1486.5 76.4 1486.5 27.0 1486.9 94.7 1487.0 40.3 1487.0 47.0 1487.5 93.2 1487.5 21.3 1487.5 77.4 1487.7 16.2 1488.0 84.6 1488.0 22.6 1488.5 73.0 1488.5 46.6 1488.5 60.1 1488.8 3.5 1488.9 67.0 1489.0 33.0 1489.0 58.6 1489.2 75.6 1489.2 10.6 1489.5 64.0 1489.5 32.1 1489.6 84.6 1489.7 24.6 1490.0 44.7 1490.0 77.6 1490.1 85.7 1490.4 17.3 1490.5 63.8 1490.5 68.9 1490.6 78.8 1490.8 28.0 1491.0 33.6 1491.0 43.1 1491.2 68.9 1491.5 34.5 1491.5 52.6 1491.9 73.2 1491.9 20.9 1492.0 38.8 1492.0 74.9 1492.4 25.8 1492.5 94.2 1492.5 35.1 1492.5 61.8 1492.6 87.1 1492.6 18.4 1493.0 35.3 1493.0 60.1 1493.5 35.1 1493.5 73.2 1493.5 29.2 1493.6 79.8 1493.6 13.3 1494.0 55.8 1494.0 40.2 1494.1 88.9 1494.2 28.8 1494.5 31.4 1494.5 33.4 1494.5 -27.3 1494.8 80.2 1495.0 37.4 1495.0 59.8 1495.2 8.9 1495.2 79.8 1495.5 57.8 1495.5 50.2 1495.5 22.8 1495.7 86.8 1496.0 28.5 1496.0 51.8 1496.1 14.6 1496.2 86.3 1496.5 71.7 1496.5 47.4 1496.8 75.4 1496.8 11.5 1497.0 34.6 1497.0 73.6 1497.1 10.3 1497.5 49.0 1497.5 54.4 1497.9 56.0 1497.9 12.6 1498.0 29.3 1498.0 57.6 1498.1 21.6 1498.5 72.8 1498.5 37.4 1498.5 36.3 1498.6 66.0 1498.9 -4.6 1499.0 34.1 1499.0 25.3 1499.1 63.2 1499.2 -4.4 1499.5 13.3 1499.5 58.9 1499.6 60.8 1499.8 11.4 1500.0 54.9 1500.0 44.0 1500.2 67.1 1500.3 3.4 1500.5 33.2 1500.5 35.9 1500.6 21.6 1501.0 79.2 1501.0 18.6 1501.3 -0.1 1501.4 72.1 1501.5 1.9 1501.5 42.5 1501.7 -2.3 1501.9 75.9 1502.0 19.0 1502.0 28.8 1502.1 77.8 1502.2 6.0 1502.5 77.6 1502.5 23.5 1502.8 74.2 1503.0 4.7 1503.0 21.9 1503.0 37.5 1503.1 63.4 1503.2 -6.3 1503.5 13.1 1503.5 7.2 1503.7 79.4 1504.0 26.2 1504.0 30.1 1504.3 73.7 1504.4 -25.9 1504.5 51.5 1504.5 32.9 1504.6 73.4 1504.9 -4.2 1505.0 26.9 1505.0 11.2 1505.1 63.4 1505.1 4.0 1505.5 51.4 1505.5 8.8 1505.8 7.8 1505.9 63.3 1506.0 34.8 1506.0 72.3 1506.3 10.5 1506.5 52.7 1506.5 29.6 1506.6 51.1 1506.8 -10.0 1507.0 8.0 1507.0 32.4 1507.3 0.1 1507.5 75.1 1507.5 45.5 1507.5 65.3 1507.9 16.2 1508.0 36.2 1508.0 70.6 1508.1 -36.9 1508.5 42.6 1508.5 31.2 1508.7 43.5 1508.8 5.4 1509.0 13.5 1509.0 5.3 1509.1 48.0 1509.2 -14.6 1509.5 37.1 1509.5 27.9 1509.8 -7.1 1509.8 63.4 1510.0 13.3 1510.0 29.5 1510.1 50.9 1510.4 -6.8 1510.5 41.0 1510.5 -7.0 1510.6 67.2 1510.8 -8.9 1511.0 20.1 1511.0 51.5 1511.2 52.9 1511.4 4.7 1511.5 45.1 1511.5 -13.4 1511.7 55.8 1511.8 -18.9 1512.0 29.0 1512.0 22.9 1512.3 -11.6 1512.5 61.6 1512.5 -24.4 1512.7 53.2 1513.0 20.4 1513.0 3.3 1513.2 51.8 1513.5 21.2 1513.5 42.0 1513.6 -4.2 1513.8 59.6 1514.0 30.1 1514.0 0.3 1514.2 49.6 1514.5 34.6 1514.5 36.3 1514.6 -18.3 1514.7 47.4 1515.0 15.4 1515.0 59.2 1515.1 -21.0 1515.3 65.6 1515.5 58.5 1515.5 31.5 1515.6 -19.0 1515.9 53.3 1516.0 32.0 1516.0 11.1 1516.2 -22.7 1516.4 51.6 1516.5 25.6 1516.5 37.0 1516.6 -15.6 1516.9 60.0 1517.0 -0.4 1517.0 -7.9 1517.1 62.7 1517.3 -19.3 1517.5 38.1 1517.5 27.5 1517.6 54.7 1517.7 -11.5 1518.0 36.1 1518.0 22.8 1518.1 58.2 1518.2 -9.9 1518.5 40.0 1518.5 9.2 1518.7 61.3 1518.9 -17.2 1519.0 30.1 1519.0 46.4 1519.4 -25.5 1519.5 24.4 1519.5 -2.6 1519.8 51.3 1519.8 -15.0 1520.0 -13.6 1520.0 38.9 1520.3 47.6 1520.4 -9.4 1520.5 15.2 1520.5 -22.8 1520.6 46.2 1520.7 -48.0 1521.0 16.9 1521.0 17.4 1521.2 -25.3 1521.4 37.4 1521.5 3.4 1521.5 32.6 1521.6 34.0 1521.8 -12.2 1522.0 22.0 1522.0 -3.8 1522.1 58.7 1522.4 -13.5 1522.5 7.3 1522.5 4.6 1522.6 -20.9 1522.9 42.7 1523.0 -20.2 1523.0 11.8 1523.3 45.0 1523.4 -33.8 1523.5 6.2 1523.5 20.3 1523.5 -27.7 1523.8 40.4 1524.0 -14.2 1524.0 20.8 1524.1 58.9 1524.3 -27.7 1524.5 -6.2 1524.5 -6.0 1524.6 44.6 1524.8 -19.9 1525.0 43.2 1525.0 -13.1 1525.1 43.9 1525.5 30.9 1525.5 11.5 1525.6 -40.2 1525.7 45.5 1526.0 12.3 1526.0 -12.5 1526.1 -40.7 1526.5 45.0 1526.5 35.2 1526.5 6.9 1526.7 47.2 1526.9 -29.7 1527.0 25.9 1527.0 0.7 1527.1 53.1 1527.4 -22.6 1527.5 9.8 1527.5 23.9 1527.9 52.5 1527.9 -13.6 1528.0 -9.4 1528.0 -2.2 1528.1 45.2 1528.3 -35.8 1528.5 25.0 1528.5 -14.7 1528.6 -30.5 1528.7 36.2 1529.0 0.3 1529.0 28.8 1529.3 -25.0 1529.5 46.1 1529.5 -20.5 1529.5 -24.8 1529.6 26.4 1530.0 -7.7 1530.0 37.6 1530.2 -32.9 1530.5 31.4 1530.5 -33.6 1530.7 -41.1 1530.7 41.6 1531.0 -32.9 1531.0 13.9 1531.3 39.7 1531.3 -33.6 1531.5 -14.7 1531.5 17.4 1531.6 21.7 1531.9 -39.9 1532.0 19.2 1532.0 -31.9 1532.2 27.7 1532.4 -35.2 1532.5 -8.8 1532.5 -26.8 1532.7 -37.8 1532.8 25.7 1533.0 20.6 1533.0 -28.7 1533.1 -31.6 1533.1 32.8 1533.5 -3.8 1533.5 2.0 1533.6 39.9 1534.0 -28.4 1534.0 22.0 1534.0 -11.8 1534.2 -33.6 1534.3 37.0 1534.5 1.8 1534.5 -15.4 1534.6 30.3 1534.8 -41.3 1535.0 -16.5 1535.0 -16.7 1535.0 -30.6 1535.4 36.5 1535.5 -27.1 1535.5 17.9 1535.6 -50.1 1536.0 19.4 1536.0 -18.0 1536.1 17.4 1536.5 -48.4 1536.5 12.1 1536.6 -44.6 1536.7 26.8 1537.0 19.1 1537.0 -24.0 1537.2 20.2 1537.3 -35.5 1537.5 5.2 1537.5 4.3 1537.6 30.0 1537.8 -49.0 1538.0 -1.2 1538.0 15.2 1538.3 24.1 1538.5 -41.3 1538.5 -8.5 1538.9 -30.9 1538.9 28.0 1539.0 14.4 1539.0 -9.7 1539.2 -44.0 1539.3 13.3 1539.5 -1.0 1539.5 -29.3 1539.8 -40.3 1540.0 32.2 1540.0 -16.3 1540.0 -43.7 1540.1 23.3 1540.5 0.6 1540.5 -30.9 1540.8 6.3 1540.8 -52.1 1541.0 -1.1 1541.0 14.8 1541.4 22.5 1541.5 -41.5 1541.5 -23.7 1541.5 11.7 1541.6 -54.1 1541.7 21.5 1542.0 5.6 1542.0 -15.7 1542.2 19.6 1542.2 -44.8 1542.5 -41.9 1542.5 -24.8 1542.6 -46.8 1543.0 30.7 1543.0 -11.1 1543.0 8.7 1543.2 9.5 1543.5 -57.8"/>
</g>
<text transform="translate(206.5 989.9) scale(0.965 1)" font-size="69.3" fill="#262626" text-anchor="end">70</text>
<text transform="translate(206.5 819.4) scale(0.965 1)" font-size="69.3" fill="#262626" text-anchor="end">80</text>
<text transform="translate(206.5 648.9) scale(0.965 1)" font-size="69.3" fill="#262626" text-anchor="end">90</text>
<text transform="translate(206.5 478.5) scale(0.965 1)" font-size="69.3" fill="#262626" text-anchor="end">100</text>
<text transform="translate(206.5 308.0) scale(0.965 1)" font-size="69.3" fill="#262626" text-anchor="end">110</text>
<text transform="translate(206.5 137.5) scale(0.965 1)" font-size="69.3" fill="#262626" text-anchor="end">120</text>
<text transform="translate(907.9 1155.5) scale(0.965 1)" font-size="69.3" fill="#262626" text-anchor="end">10</text><text transform="translate(936 1123.7) scale(0.965 1)" font-size="54.5" fill="#262626" text-anchor="end">1</text>
<text transform="translate(1569.2 1155.5) scale(0.965 1)" font-size="69.3" fill="#262626" text-anchor="end">10</text><text transform="translate(1599.8 1123.7) scale(0.965 1)" font-size="54.5" fill="#262626" text-anchor="end">2</text>
<text transform="translate(890.3 1237.3) scale(0.963 1)" font-size="69.3" fill="#262626" text-anchor="middle">Frequency(GHz)</text>
<text transform="translate(73.6 541.5) rotate(-90)" font-size="67" fill="#262626" text-anchor="middle">OSNR (dB)</text>
<path d="M823.3 916H922.8" stroke="#ff0000" stroke-width="6.5"/><path d="M823.3 979H922.8" stroke="#0000ff" stroke-width="6.5"/>
<text x="929" y="933.5" font-size="52.5" fill="#000">OIL-based OPA</text>
<text x="929" y="998" font-size="52.5" fill="#000">Passive-waveguide OPA</text>
<text transform="translate(284.3 290.5) scale(0.972 1)" font-size="68" font-weight="bold" fill="#000">13.8 dB</text>
<path d="M399.4 223.8V179.8H389.8L405.1 148.3L420.7 179.8H410.8V223.8Z" fill="#000"/>
<path d="M399.4 305.1V349.4H389.8L405.1 381.9L420.7 349.4H410.8V305.1Z" fill="#000"/>
<rect x="270" y="454.4" width="332.7" height="586.1" fill="#fff" stroke="#000" stroke-width="5.6"/>
<path d="M303.6 702.2A46.3 46.3 0 0 1 303.6 794.8M293.1 702.2H303.6M293.1 794.8H303.6M303.6 655.9A92.6 92.6 0 0 1 303.6 841.1M293.1 655.9H303.6M293.1 841.1H303.6M303.6 609.6A138.9 138.9 0 0 1 303.6 887.4M293.1 609.6H303.6M293.1 887.4H303.6M303.6 563.3A185.2 185.2 0 0 1 303.6 933.7M293.1 563.3H303.6M293.1 933.7H303.6M303.6 517.0A231.5 231.5 0 0 1 303.6 980.0M293.1 517.0H303.6M293.1 980.0H303.6M303.6 748.5L303.6 980.0M303.6 748.5L363.5 972.1M303.6 748.5L419.4 949.0M303.6 748.5L467.3 912.2M303.6 748.5L504.1 864.2M303.6 748.5L527.2 808.4M303.6 748.5L535.1 748.5M303.6 748.5L527.2 688.6M303.6 748.5L504.1 632.8M303.6 748.5L467.3 584.8M303.6 748.5L419.4 548.0M303.6 748.5L363.5 524.9M303.6 748.5L303.6 517.0" stroke="#cdcdcd" stroke-width="2.7" fill="none"/>
<path d="M303.6 823.5L304.2 823.6 304.6 823.7 305.0 824.0 305.3 824.2 305.7 824.5 306.0 824.9 306.3 825.2 306.6 825.6 306.9 826.0 307.1 826.4 307.4 826.8 307.7 827.2 308.0 827.6 308.2 828.0 308.4 828.4 308.6 828.8 308.9 829.2 309.1 829.6 309.4 830.0 309.6 830.4 309.9 830.9 310.1 831.3 310.4 831.8 310.6 832.3 310.9 832.7 311.2 833.2 311.4 833.6 311.6 834.0 311.8 834.4 312.0 834.8 312.3 835.2 312.5 835.6 312.7 836.0 312.9 836.4 313.2 836.8 313.4 837.2 313.6 837.6 313.9 838.0 314.1 838.4 314.3 838.8 314.6 839.2 314.8 839.7 315.1 840.1 315.3 840.5 315.6 840.9 315.8 841.3 316.1 841.7 316.3 842.1 316.6 842.5 316.8 842.9 317.1 843.2 317.3 843.6 317.6 844.0 317.9 844.4 318.1 844.8 318.4 845.2 318.7 845.5 318.9 845.9 319.2 846.3 319.5 846.6 319.7 847.0 320.0 847.3 320.3 847.7 320.5 848.0 320.8 848.3 321.1 848.7 321.4 849.1 321.8 849.5 322.1 849.9 322.5 850.2 322.8 850.6 323.1 851.0 323.5 851.3 323.8 851.7 324.2 852.0 324.5 852.3 324.9 852.6 325.2 852.9 325.6 853.2 325.9 853.5 326.3 853.7 326.7 854.0 327.1 854.3 327.5 854.6 327.9 854.8 328.3 855.0 328.8 855.2 329.2 855.4 329.7 855.6 330.2 855.7 330.7 855.8 331.2 855.9 331.8 855.9 332.4 855.8 332.9 855.7 333.4 855.5 333.8 855.3 334.1 855.0 334.5 854.7 334.8 854.4 335.1 854.0 335.3 853.6 335.6 853.2 335.8 852.7 336.0 852.2 336.1 851.8 336.3 851.3 336.4 850.7 336.5 850.2 336.6 849.6 336.7 849.0 336.8 848.3 336.8 847.7 336.8 847.1 336.9 846.5 336.9 845.8 336.8 845.1 336.8 844.4 336.8 843.6 336.7 843.0 336.7 842.4 336.6 841.8 336.6 841.1 336.5 840.4 336.4 839.7 336.3 839.0 336.2 838.2 336.1 837.7 336.0 837.2 335.9 836.6 335.8 836.1 335.7 835.5 335.6 834.9 335.5 834.3 335.3 833.7 335.2 833.0 335.0 832.4 334.9 831.7 334.7 831.0 334.6 830.3 334.4 829.6 334.2 828.8 334.0 828.0 333.8 827.2 333.6 826.4 333.3 825.6 333.1 824.7 332.8 823.8 332.6 822.9 332.4 822.4 332.3 821.9 332.1 821.5 332.0 821.0 331.8 820.5 331.7 819.9 331.5 819.4 331.3 818.9 331.2 818.4 331.0 817.8 330.8 817.2 330.6 816.7 330.4 816.1 330.3 815.5 330.1 814.9 329.9 814.3 329.6 813.7 329.4 813.0 329.2 812.4 329.0 811.7 328.7 811.1 328.5 810.4 328.3 809.7 328.0 808.9 327.7 808.2 327.5 807.5 327.2 806.7 326.9 805.9 326.6 805.1 326.3 804.3 326.0 803.4 325.7 802.6 325.4 801.7 325.0 800.7 324.7 799.8 324.3 798.8 323.9 797.8 323.5 796.8 323.1 795.8 322.7 794.7 322.3 793.6 321.8 792.4 321.3 791.2 320.9 790.0 320.3 788.7 319.8 787.4 319.3 786.0 318.7 784.5 318.1 783.0 317.4 781.5 316.8 779.8 316.1 778.1 315.3 776.3 314.6 774.4 313.7 772.4 312.8 770.3 311.9 768.1 310.9 765.7 309.8 763.1 308.7 760.4 307.4 757.4 306.0 754.1 304.5 750.6 303.6 748.5 305.4 752.5 306.9 756.0 308.3 759.1 309.6 762.0 310.8 764.7 311.9 767.2 313.0 769.6 314.0 771.8 314.9 773.9 315.8 775.8 316.6 777.7 317.5 779.5 318.2 781.2 319.0 782.8 319.7 784.3 320.4 785.8 321.0 787.3 321.7 788.6 322.3 789.9 322.9 791.2 323.5 792.4 324.1 793.6 324.6 794.8 325.1 795.9 325.7 797.0 326.2 798.0 326.7 799.0 327.1 800.0 327.6 801.0 328.1 801.9 328.5 802.8 329.0 803.7 329.4 804.5 329.8 805.4 330.2 806.2 330.6 807.0 331.0 807.8 331.4 808.5 331.8 809.3 332.2 810.0 332.5 810.7 332.9 811.4 333.3 812.1 333.6 812.7 334.0 813.4 334.3 814.0 334.6 814.6 335.0 815.2 335.3 815.8 335.6 816.4 335.9 817.0 336.2 817.6 336.5 818.1 336.8 818.7 337.1 819.2 337.4 819.7 337.7 820.2 338.0 820.7 338.3 821.2 338.6 821.7 338.8 822.2 339.1 822.7 339.4 823.1 339.7 823.6 339.9 824.0 340.2 824.5 340.4 824.9 340.7 825.3 340.9 825.7 341.2 826.1 341.4 826.5 341.7 826.9 341.9 827.3 342.1 827.7 342.4 828.1 342.6 828.5 343.1 829.2 343.5 829.9 344.0 830.5 344.4 831.2 344.8 831.8 345.2 832.5 345.6 833.0 346.0 833.6 346.4 834.2 346.8 834.7 347.2 835.2 347.5 835.7 347.9 836.2 348.3 836.7 348.6 837.2 348.9 837.6 349.3 838.0 349.6 838.5 349.9 838.9 350.3 839.2 350.6 839.6 350.9 840.0 351.2 840.3 351.5 840.6 351.8 841.0 352.2 841.4 352.6 841.8 353.0 842.2 353.4 842.6 353.7 843.0 354.1 843.3 354.5 843.6 354.8 843.9 355.2 844.2 355.6 844.5 356.0 844.7 356.5 845.0 356.9 845.1 357.4 845.3 358.0 845.3 358.5 845.1 358.9 844.8 359.1 844.4 359.2 843.8 359.3 843.2 359.3 842.5 359.2 841.9 359.1 841.3 359.0 840.7 358.9 840.2 358.8 839.6 358.6 839.0 358.5 838.4 358.3 837.8 358.0 837.1 357.9 836.6 357.7 836.2 357.5 835.7 357.3 835.1 357.1 834.6 356.9 834.0 356.6 833.5 356.4 832.9 356.1 832.2 355.8 831.6 355.6 830.9 355.2 830.2 354.9 829.5 354.6 828.8 354.2 828.0 353.8 827.2 353.6 826.8 353.4 826.4 353.2 826.0 353.0 825.6 352.7 825.1 352.5 824.7 352.3 824.2 352.0 823.8 351.8 823.3 351.5 822.8 351.3 822.3 351.0 821.8 350.7 821.3 350.5 820.8 350.2 820.3 349.9 819.8 349.6 819.2 349.3 818.6 348.9 818.1 348.6 817.5 348.3 816.9 347.9 816.3 347.6 815.6 347.2 815.0 346.8 814.3 346.4 813.7 346.0 813.0 345.6 812.3 345.2 811.6 344.7 810.8 344.3 810.1 343.8 809.3 343.3 808.5 342.8 807.7 342.3 806.8 341.8 806.0 341.2 805.1 340.7 804.1 340.1 803.2 339.5 802.2 338.8 801.2 338.2 800.2 337.5 799.1 336.8 798.0 336.0 796.8 335.3 795.6 334.4 794.4 333.6 793.1 332.7 791.7 331.8 790.3 330.8 788.8 329.8 787.3 328.7 785.6 327.6 783.9 326.4 782.1 325.1 780.2 323.8 778.2 322.3 776.0 320.8 773.7 319.1 771.2 317.2 768.4 315.2 765.5 313.0 762.2 310.6 758.6 307.8 754.6 304.6 750.0 303.6 748.5 306.9 753.3 309.9 757.5 312.5 761.3 314.9 764.6 317.0 767.6 319.0 770.4 320.8 773.0 322.5 775.4 324.1 777.6 325.6 779.6 326.9 781.6 328.3 783.4 329.5 785.1 330.7 786.8 331.8 788.3 332.9 789.8 333.9 791.2 334.9 792.5 335.9 793.8 336.8 795.1 337.7 796.3 338.5 797.4 339.4 798.5 340.2 799.6 340.9 800.6 341.7 801.6 342.4 802.5 343.1 803.5 343.8 804.3 344.5 805.2 345.1 806.0 345.8 806.9 346.4 807.6 347.0 808.4 347.6 809.2 348.1 809.9 348.7 810.6 349.3 811.3 349.8 811.9 350.3 812.6 350.8 813.2 351.3 813.8 351.8 814.4 352.3 815.0 352.8 815.6 353.2 816.1 353.7 816.7 354.1 817.2 354.6 817.7 355.0 818.2 355.4 818.7 355.8 819.2 356.2 819.7 356.6 820.1 357.0 820.6 357.4 821.0 357.8 821.5 358.2 821.9 358.5 822.3 358.9 822.7 359.2 823.1 359.6 823.5 359.9 823.8 360.3 824.2 360.6 824.6 360.9 824.9 361.2 825.2 361.5 825.6 361.8 825.9 362.2 826.2 362.5 826.5 363.0 827.1 363.6 827.7 364.1 828.3 364.7 828.8 365.2 829.3 365.7 829.8 366.2 830.2 366.6 830.7 367.1 831.1 367.5 831.5 368.0 831.8 368.4 832.2 368.8 832.5 369.1 832.8 369.5 833.1 369.9 833.4 370.4 833.8 370.9 834.1 371.3 834.4 371.7 834.7 372.1 834.9 372.6 835.1 373.1 835.3 373.6 835.5 374.1 835.5 374.6 835.3 374.9 834.9 374.9 834.3 374.8 833.7 374.7 833.2 374.6 832.6 374.4 832.2 374.2 831.7 373.9 831.1 373.6 830.5 373.4 830.1 373.2 829.7 373.0 829.2 372.7 828.7 372.4 828.2 372.1 827.7 371.8 827.2 371.4 826.6 371.1 826.0 370.7 825.4 370.2 824.7 369.8 824.1 369.3 823.4 369.1 823.0 368.8 822.6 368.6 822.3 368.3 821.9 368.0 821.5 367.7 821.1 367.4 820.7 367.1 820.3 366.8 819.8 366.5 819.4 366.2 819.0 365.8 818.5 365.5 818.0 365.1 817.6 364.8 817.1 364.4 816.6 364.0 816.1 363.6 815.5 363.2 815.0 362.8 814.5 362.3 813.9 361.9 813.3 361.4 812.8 360.9 812.2 360.4 811.5 359.9 810.9 359.4 810.3 358.9 809.6 358.3 808.9 357.7 808.2 357.1 807.5 356.5 806.8 355.9 806.0 355.2 805.2 354.5 804.4 353.8 803.6 353.1 802.7 352.3 801.8 351.5 800.9 350.7 800.0 349.9 799.0 349.0 798.0 348.1 796.9 347.1 795.8 346.1 794.6 345.0 793.4 343.9 792.2 342.7 790.9 341.5 789.5 340.2 788.1 338.9 786.6 337.4 785.0 335.9 783.3 334.3 781.5 332.5 779.6 330.6 777.5 328.6 775.3 326.4 772.9 324.0 770.4 321.4 767.5 318.4 764.3 315.1 760.8 311.3 756.8 307.0 752.1 303.6 748.5 304.6 749.6 309.5 754.7 313.6 759.0 317.2 762.7 320.4 766.1 323.2 769.0 325.8 771.7 328.2 774.2 330.4 776.5 332.4 778.5 334.3 780.5 336.1 782.3 337.8 784.0 339.3 785.6 340.8 787.1 342.3 788.6 343.6 789.9 344.9 791.2 346.1 792.4 347.3 793.6 348.5 794.7 349.6 795.8 350.6 796.8 351.6 797.8 352.6 798.8 353.5 799.7 354.4 800.6 355.3 801.4 356.2 802.3 357.0 803.0 357.8 803.8 358.6 804.5 359.4 805.3 360.1 805.9 360.8 806.6 361.5 807.3 362.2 807.9 362.9 808.5 363.5 809.1 364.1 809.7 364.7 810.2 365.3 810.8 365.9 811.3 366.5 811.8 367.1 812.3 367.6 812.8 368.2 813.3 368.7 813.7 369.2 814.2 369.7 814.6 370.2 815.0 370.7 815.4 371.1 815.8 371.6 816.2 372.0 816.6 372.5 816.9 372.9 817.3 373.3 817.6 373.7 818.0 374.1 818.3 374.5 818.6 374.9 818.9 375.3 819.2 375.7 819.5 376.0 819.8 376.4 820.1 376.8 820.4 377.1 820.6 377.8 821.1 378.4 821.6 379.0 822.1 379.6 822.5 380.2 822.9 380.7 823.2 381.2 823.6 381.7 823.9 382.2 824.2 382.7 824.5 383.1 824.7 383.5 825.0 383.9 825.2 384.4 825.5 384.9 825.7 385.4 825.9 385.9 826.1 386.5 826.2 387.1 826.2 387.5 825.9 387.7 825.4 387.5 824.8 387.3 824.3 387.1 823.9 386.9 823.4 386.6 822.9 386.2 822.4 386.0 822.0 385.7 821.5 385.4 821.1 385.0 820.6 384.6 820.2 384.2 819.7 383.8 819.1 383.3 818.6 382.8 818.0 382.3 817.4 381.7 816.7 381.4 816.4 381.1 816.0 380.8 815.7 380.5 815.3 380.1 815.0 379.8 814.6 379.4 814.2 379.0 813.8 378.7 813.4 378.3 813.0 377.9 812.6 377.4 812.2 377.0 811.7 376.6 811.3 376.1 810.8 375.6 810.3 375.1 809.9 374.6 809.4 374.1 808.9 373.6 808.3 373.0 807.8 372.5 807.2 371.9 806.7 371.2 806.1 370.6 805.5 370.0 804.9 369.3 804.2 368.6 803.6 367.9 802.9 367.1 802.2 366.3 801.5 365.5 800.8 364.7 800.0 363.8 799.2 362.9 798.4 362.0 797.6 361.0 796.7 360.0 795.8 358.9 794.9 357.8 793.9 356.7 792.9 355.4 791.8 354.2 790.7 352.8 789.5 351.4 788.3 349.9 787.0 348.3 785.7 346.6 784.2 344.9 782.7 343.0 781.1 340.9 779.4 338.7 777.5 336.3 775.5 333.7 773.3 330.9 771.0 327.7 768.4 324.2 765.4 320.2 762.2 315.6 758.4 310.2 753.9 303.6 748.5 307.6 751.7 313.5 756.6 318.6 760.6 322.9 764.1 326.7 767.1 330.1 769.8 333.1 772.3 335.9 774.5 338.5 776.5 340.8 778.4 343.0 780.1 345.1 781.8 347.0 783.3 348.9 784.7 350.6 786.0 352.2 787.3 353.8 788.5 355.2 789.6 356.7 790.7 358.0 791.7 359.3 792.7 360.5 793.6 361.7 794.5 362.9 795.4 364.0 796.2 365.0 797.0 366.1 797.7 367.1 798.5 368.0 799.2 369.0 799.9 369.9 800.5 370.7 801.1 371.6 801.7 372.4 802.3 373.2 802.9 374.0 803.4 374.7 804.0 375.5 804.5 376.2 805.0 376.9 805.5 377.5 805.9 378.2 806.4 378.9 806.8 379.5 807.2 380.1 807.6 380.7 808.0 381.3 808.4 381.8 808.8 382.4 809.2 382.9 809.5 383.5 809.8 384.0 810.2 384.5 810.5 385.0 810.8 385.4 811.1 385.9 811.4 386.4 811.7 386.8 811.9 387.2 812.2 387.7 812.5 388.1 812.7 388.5 812.9 388.9 813.2 389.3 813.4 390.0 813.8 390.7 814.2 391.4 814.6 392.1 814.9 392.7 815.2 393.3 815.5 393.8 815.8 394.3 816.0 394.8 816.2 395.3 816.4 395.7 816.6 396.3 816.8 396.9 817.0 397.3 817.1 397.9 817.2 398.5 817.2 399.0 817.0 399.1 816.5 399.0 816.1 398.7 815.6 398.5 815.2 398.2 814.8 397.8 814.3 397.5 813.9 397.2 813.5 396.8 813.1 396.4 812.7 396.0 812.3 395.5 811.8 395.0 811.3 394.5 810.8 393.9 810.3 393.3 809.7 392.9 809.4 392.6 809.1 392.2 808.8 391.9 808.5 391.5 808.2 391.1 807.8 390.7 807.5 390.3 807.1 389.8 806.8 389.4 806.4 388.9 806.0 388.5 805.7 388.0 805.3 387.5 804.8 386.9 804.4 386.4 804.0 385.8 803.6 385.2 803.1 384.6 802.6 384.0 802.2 383.4 801.7 382.7 801.2 382.0 800.7 381.3 800.1 380.6 799.6 379.8 799.0 379.0 798.4 378.2 797.8 377.3 797.2 376.4 796.6 375.5 795.9 374.6 795.2 373.6 794.5 372.5 793.8 371.4 793.0 370.3 792.2 369.1 791.4 367.9 790.5 366.6 789.7 365.2 788.7 363.8 787.7 362.3 786.7 360.7 785.6 359.1 784.5 357.3 783.3 355.4 782.1 353.4 780.7 351.2 779.3 348.9 777.8 346.4 776.1 343.7 774.3 340.7 772.4 337.4 770.2 333.8 767.9 329.7 765.2 325.0 762.2 319.5 758.7 312.9 754.4 304.7 749.2 303.6 748.5 311.1 753.2 318.1 757.7 323.9 761.3 328.9 764.4 333.3 767.2 337.1 769.6 340.6 771.7 343.7 773.7 346.6 775.5 349.3 777.1 351.7 778.6 354.0 780.0 356.2 781.3 358.2 782.5 360.1 783.7 361.9 784.8 363.6 785.8 365.3 786.7 366.8 787.7 368.3 788.5 369.7 789.4 371.1 790.2 372.4 790.9 373.7 791.6 374.9 792.3 376.0 793.0 377.2 793.6 378.2 794.2 379.3 794.8 380.3 795.4 381.3 795.9 382.2 796.5 383.1 797.0 384.0 797.4 384.9 797.9 385.7 798.4 386.5 798.8 387.3 799.2 388.1 799.6 388.8 800.0 389.6 800.4 390.3 800.7 391.0 801.1 391.6 801.4 392.3 801.8 392.9 802.1 393.5 802.4 394.1 802.7 394.7 803.0 395.3 803.2 395.8 803.5 396.4 803.8 396.9 804.0 397.4 804.2 397.9 804.5 398.4 804.7 398.9 804.9 399.3 805.1 399.8 805.3 400.2 805.5 400.6 805.7 401.5 806.0 402.2 806.3 403.0 806.6 403.7 806.9 404.3 807.1 404.9 807.4 405.5 807.6 406.1 807.7 406.6 807.9 407.0 808.0 407.7 808.2 408.3 808.3 408.9 808.3 409.5 808.3 410.0 808.2 410.2 807.8 410.1 807.3 409.9 806.8 409.6 806.5 409.2 806.1 408.8 805.6 408.4 805.3 408.0 804.9 407.6 804.5 407.1 804.2 406.6 803.7 406.1 803.3 405.5 802.8 404.8 802.4 404.1 801.8 403.7 801.6 403.3 801.3 402.9 801.0 402.5 800.7 402.1 800.5 401.6 800.2 401.2 799.8 400.7 799.5 400.2 799.2 399.7 798.9 399.2 798.5 398.6 798.2 398.0 797.8 397.5 797.4 396.8 797.1 396.2 796.7 395.6 796.3 394.9 795.9 394.2 795.4 393.5 795.0 392.7 794.6 391.9 794.1 391.1 793.6 390.3 793.1 389.4 792.6 388.5 792.1 387.6 791.6 386.6 791.0 385.6 790.4 384.5 789.8 383.4 789.2 382.2 788.6 381.0 787.9 379.8 787.2 378.4 786.5 377.1 785.7 375.6 785.0 374.1 784.1 372.5 783.3 370.8 782.4 369.0 781.4 367.0 780.4 365.0 779.3 362.8 778.2 360.5 777.0 358.0 775.7 355.3 774.3 352.3 772.8 349.0 771.1 345.5 769.3 341.4 767.3 336.9 765.0 331.7 762.4 325.6 759.4 318.1 755.7 308.7 751.0 303.6 748.5 312.3 752.8 321.1 757.0 328.1 760.5 334.0 763.3 339.1 765.8 343.5 767.9 347.5 769.8 351.1 771.5 354.3 773.1 357.3 774.5 360.1 775.8 362.7 777.0 365.1 778.1 367.3 779.1 369.4 780.1 371.4 781.0 373.3 781.9 375.1 782.7 376.8 783.5 378.4 784.2 380.0 784.9 381.5 785.5 382.9 786.2 384.2 786.8 385.6 787.3 386.8 787.9 388.0 788.4 389.2 788.9 390.3 789.4 391.4 789.8 392.5 790.3 393.5 790.7 394.5 791.1 395.4 791.5 396.4 791.9 397.3 792.2 398.1 792.6 399.0 792.9 399.8 793.2 400.6 793.5 401.4 793.8 402.1 794.1 402.8 794.4 403.5 794.6 404.2 794.9 404.9 795.1 405.5 795.4 406.2 795.6 406.8 795.8 407.4 796.0 408.0 796.2 408.5 796.4 409.1 796.6 409.6 796.8 410.1 796.9 410.7 797.1 411.1 797.3 411.6 797.4 412.1 797.6 413.0 797.8 413.8 798.1 414.6 798.3 415.4 798.5 416.1 798.6 416.7 798.8 417.3 798.9 417.9 799.0 418.4 799.1 419.1 799.2 419.8 799.3 420.5 799.3 421.0 799.2 421.5 799.1 421.8 798.7 421.7 798.2 421.4 797.8 421.1 797.5 420.7 797.1 420.2 796.7 419.8 796.4 419.4 796.0 418.9 795.7 418.4 795.3 417.8 795.0 417.2 794.6 416.5 794.1 415.7 793.7 415.3 793.5 414.9 793.2 414.5 793.0 414.0 792.8 413.6 792.5 413.1 792.2 412.6 792.0 412.1 791.7 411.5 791.4 411.0 791.1 410.4 790.8 409.8 790.5 409.2 790.2 408.5 789.9 407.9 789.6 407.2 789.3 406.5 788.9 405.7 788.6 404.9 788.2 404.1 787.8 403.3 787.4 402.4 787.0 401.5 786.6 400.6 786.2 399.6 785.8 398.6 785.3 397.6 784.9 396.5 784.4 395.3 783.9 394.1 783.4 392.9 782.8 391.6 782.3 390.2 781.7 388.8 781.1 387.3 780.5 385.7 779.8 384.0 779.1 382.2 778.4 380.4 777.6 378.4 776.8 376.3 776.0 374.0 775.1 371.6 774.1 368.9 773.1 366.1 772.0 363.0 770.8 359.6 769.5 355.9 768.1 351.7 766.5 347.0 764.7 341.5 762.6 335.1 760.2 327.4 757.3 317.5 753.7 304.2 748.7 303.6 748.5 309.4 750.6 321.4 755.0 330.6 758.4 338.0 761.1 344.1 763.3 349.4 765.2 354.1 766.9 358.3 768.3 362.0 769.7 365.4 770.9 368.5 772.0 371.4 773.0 374.1 773.9 376.6 774.7 379.0 775.5 381.2 776.3 383.3 777.0 385.2 777.7 387.1 778.3 388.9 778.9 390.6 779.4 392.2 779.9 393.8 780.4 395.3 780.9 396.7 781.4 398.1 781.8 399.4 782.2 400.6 782.6 401.9 782.9 403.0 783.3 404.2 783.6 405.3 784.0 406.3 784.3 407.4 784.6 408.4 784.9 409.3 785.1 410.3 785.4 411.2 785.6 412.0 785.9 412.9 786.1 413.7 786.3 414.5 786.5 415.3 786.7 416.0 786.9 416.8 787.1 417.5 787.3 418.2 787.5 418.8 787.6 419.5 787.8 420.1 787.9 420.7 788.1 421.3 788.2 421.9 788.3 422.5 788.4 423.0 788.6 423.6 788.7 424.1 788.8 424.6 788.9 425.6 789.0 426.5 789.2 427.3 789.3 428.1 789.5 428.9 789.6 429.6 789.6 430.2 789.7 430.8 789.8 431.6 789.8 432.4 789.8 433.0 789.8 433.7 789.7 434.2 789.6 434.6 789.3 434.7 788.8 434.5 788.4 434.1 788.0 433.7 787.6 433.2 787.3 432.8 787.0 432.4 786.7 431.9 786.4 431.3 786.1 430.7 785.8 430.0 785.4 429.3 785.1 428.5 784.7 428.1 784.5 427.6 784.3 427.2 784.1 426.7 783.9 426.2 783.7 425.7 783.5 425.1 783.3 424.6 783.0 424.0 782.8 423.4 782.6 422.8 782.3 422.1 782.1 421.4 781.8 420.7 781.5 420.0 781.3 419.3 781.0 418.5 780.7 417.7 780.4 416.8 780.1 415.9 779.8 415.0 779.5 414.1 779.2 413.1 778.8 412.0 778.5 410.9 778.1 409.8 777.7 408.6 777.4 407.4 777.0 406.1 776.5 404.8 776.1 403.3 775.7 401.9 775.2 400.3 774.7 398.6 774.2 396.9 773.7 395.1 773.2 393.1 772.6 391.0 772.0 388.8 771.3 386.4 770.6 383.9 769.9 381.1 769.1 378.1 768.3 374.9 767.4 371.3 766.4 367.3 765.3 362.8 764.1 357.7 762.7 351.8 761.2 344.9 759.3 336.3 757.0 325.2 754.1 309.5 750.0 303.6 748.5 309.5 750.0 325.4 754.1 336.7 757.0 345.5 759.2 352.6 761.0 358.7 762.6 364.0 763.9 368.6 765.0 372.7 766.0 376.5 766.9 379.9 767.8 383.1 768.5 386.0 769.2 388.7 769.8 391.3 770.4 393.7 771.0 395.9 771.5 398.0 772.0 400.0 772.4 402.0 772.8 403.8 773.2 405.5 773.6 407.2 773.9 408.8 774.3 410.3 774.6 411.7 774.9 413.1 775.2 414.5 775.4 415.8 775.7 417.1 775.9 418.3 776.2 419.4 776.4 420.6 776.6 421.6 776.8 422.7 777.0 423.7 777.1 424.7 777.3 425.7 777.5 426.6 777.6 427.5 777.8 428.4 777.9 429.2 778.0 430.1 778.2 430.8 778.3 431.6 778.4 432.4 778.5 433.1 778.6 433.8 778.7 434.5 778.8 435.2 778.9 435.8 778.9 436.5 779.0 437.1 779.1 437.7 779.1 438.3 779.2 438.8 779.2 439.9 779.3 440.9 779.4 441.9 779.5 442.8 779.5 443.6 779.6 444.4 779.6 445.1 779.6 445.8 779.6 446.5 779.6 447.1 779.5 447.8 779.5 448.5 779.4 449.1 779.3 449.6 779.1 450.1 778.9 450.5 778.6 450.5 778.0 450.2 777.6 449.8 777.3 449.4 776.9 448.8 776.6 448.4 776.4 447.9 776.1 447.3 775.8 446.7 775.6 446.0 775.3 445.3 775.0 444.4 774.7 443.5 774.4 443.1 774.2 442.6 774.0 442.0 773.9 441.5 773.7 440.9 773.5 440.3 773.3 439.7 773.1 439.1 773.0 438.4 772.8 437.8 772.6 437.0 772.4 436.3 772.2 435.5 772.0 434.7 771.7 433.9 771.5 433.0 771.3 432.1 771.1 431.1 770.8 430.2 770.6 429.1 770.3 428.0 770.1 426.9 769.8 425.7 769.6 424.5 769.3 423.2 769.0 421.9 768.7 420.4 768.4 418.9 768.1 417.4 767.7 415.7 767.4 413.9 767.0 412.1 766.7 410.1 766.3 408.0 765.9 405.7 765.4 403.3 765.0 400.7 764.5 397.9 764.0 394.8 763.4 391.5 762.8 387.8 762.2 383.7 761.5 379.1 760.7 373.8 759.8 367.7 758.8 360.4 757.6 351.3 756.1 339.5 754.2 322.5 751.5 303.6 748.5 328.8 752.4 344.1 754.8 355.1 756.5 363.8 757.8 371.0 758.9 377.0 759.8 382.3 760.5 387.0 761.2 391.2 761.8 395.0 762.3 398.5 762.8 401.7 763.3 404.7 763.6 407.5 764.0 410.1 764.3 412.5 764.6 414.9 764.9 417.0 765.2 419.1 765.4 421.1 765.7 422.9 765.9 424.7 766.1 426.5 766.2 428.1 766.4 429.7 766.6 431.2 766.7 432.6 766.9 434.0 767.0 435.4 767.1 436.7 767.2 438.0 767.3 439.2 767.4 440.4 767.5 441.5 767.6 442.6 767.7 443.7 767.8 444.7 767.8 445.7 767.9 446.7 767.9 447.6 768.0 448.6 768.0 449.5 768.1 450.3 768.1 451.2 768.2 452.0 768.2 452.8 768.2 453.6 768.2 454.3 768.3 455.1 768.3 455.8 768.3 456.5 768.3 457.1 768.3 457.8 768.3 458.4 768.3 459.1 768.3 459.7 768.3 460.8 768.3 461.9 768.2 463.0 768.2 463.9 768.2 464.9 768.1 465.7 768.0 466.6 768.0 467.3 767.9 468.0 767.8 468.7 767.7 469.3 767.6 469.9 767.5 470.4 767.4 470.9 767.2 471.5 767.0 472.0 766.8 472.5 766.6 472.9 766.3 473.1 765.9 473.1 765.3 472.8 764.9 472.4 764.6 471.9 764.3 471.5 764.1 471.1 763.9 470.6 763.7 470.0 763.4 469.3 763.2 468.6 763.0 467.8 762.7 466.9 762.5 466.0 762.2 465.5 762.1 464.9 762.0 464.4 761.8 463.8 761.7 463.2 761.6 462.5 761.4 461.9 761.3 461.2 761.1 460.4 761.0 459.7 760.9 458.9 760.7 458.0 760.6 457.1 760.4 456.2 760.3 455.3 760.1 454.3 760.0 453.2 759.8 452.1 759.6 450.9 759.5 449.7 759.3 448.5 759.1 447.1 759.0 445.7 758.8 444.2 758.6 442.6 758.4 440.9 758.2 439.1 758.0 437.2 757.8 435.2 757.6 433.0 757.4 430.7 757.2 428.1 756.9 425.4 756.7 422.4 756.4 419.1 756.1 415.5 755.8 411.5 755.5 406.9 755.2 401.7 754.8 395.7 754.3 388.4 753.8 379.5 753.2 367.8 752.5 350.9 751.4 320.7 749.5 303.6 748.5 330.5 750.1 356.4 751.6 372.2 752.5 383.6 753.2 392.5 753.6 399.9 754.0 406.2 754.3 411.7 754.6 416.5 754.8 420.9 755.0 424.9 755.1 428.5 755.2 431.9 755.4 435.0 755.5 438.0 755.5 440.7 755.6 443.3 755.7 445.8 755.7 448.1 755.8 450.3 755.8 452.5 755.8 454.5 755.9 456.4 755.9 458.3 755.9 460.1 755.9 461.8 755.9 463.5 755.9 465.1 755.9 466.6 755.8 468.1 755.8 469.6 755.8 471.0 755.8 472.4 755.8 473.7 755.7 475.0 755.7 476.2 755.6 477.5 755.6 478.7 755.6 479.8 755.5 481.0 755.5 482.1 755.4 483.2 755.4 484.2 755.3 485.2 755.3 486.3 755.2 487.2 755.1 488.2 755.1 489.2 755.0 490.1 754.9 491.0 754.9 491.9 754.8 492.8 754.7 493.6 754.7 494.4 754.6 495.3 754.5 496.1 754.4 496.9 754.4 497.6 754.3 498.4 754.2 499.2 754.1 499.9 754.1 500.6 754.0 501.3 753.9 502.0 753.8 502.7 753.7 503.4 753.6 504.0 753.5 504.7 753.4 505.3 753.4 506.0 753.3 506.6 753.2 507.2 753.1 507.8 753.0 508.4 752.9 508.9 752.8 509.5 752.7 510.1 752.6 510.6 752.5 511.2 752.4 511.7 752.3 512.2 752.2 512.7 752.1 513.2 752.0 513.7 751.9 514.7 751.7 515.7 751.5 516.6 751.3 517.4 751.1 518.3 750.9 519.1 750.6 519.9 750.4 520.7 750.2 521.5 750.0 522.2 749.8 522.9 749.5 523.6 749.3 524.2 749.1 524.8 748.8 525.5 748.6 526.0 748.4 526.6 748.1 527.2 747.9 527.7 747.7 528.2 747.4 528.7 747.2 529.1 747.0 529.6 746.7 530.0 746.5 530.4 746.2 530.8 746.0 531.2 745.8 531.7 745.4 532.2 745.0 532.6 744.7 533.0 744.3 533.4 743.9 533.7 743.6 534.0 743.2 534.2 742.8 534.5 742.3 534.7 741.8 534.9 741.4 535.0 740.7 534.9 740.1 534.8 739.5 534.7 739.1 534.4 738.6 534.1 738.1 533.9 737.8 533.6 737.4 533.2 737.1 532.8 736.7 532.4 736.4 532.0 736.1 531.5 735.7 530.9 735.4 530.4 735.1 530.0 734.9 529.5 734.6 529.1 734.4 528.6 734.2 528.2 734.0 527.7 733.8 527.1 733.6 526.6 733.4 526.0 733.2 525.4 733.0 524.8 732.8 524.2 732.6 523.6 732.5 522.9 732.3 522.2 732.1 521.5 731.9 520.8 731.8 520.0 731.6 519.2 731.4 518.4 731.3 517.5 731.1 516.7 730.9 515.8 730.8 514.9 730.6 513.9 730.5 512.9 730.4 511.9 730.2 510.9 730.1 509.8 730.0 509.2 729.9 508.7 729.9 508.1 729.8 507.5 729.8 506.9 729.7 506.3 729.7 505.7 729.6 505.1 729.6 504.5 729.5 503.8 729.5 503.2 729.4 502.5 729.4 501.8 729.3 501.1 729.3 500.4 729.3 499.7 729.2 499.0 729.2 498.3 729.2 497.5 729.1 496.8 729.1 496.0 729.1 495.2 729.1 494.4 729.1 493.6 729.0 492.7 729.0 491.9 729.0 491.0 729.0 490.1 729.0 489.2 729.0 488.3 729.0 487.3 729.0 486.4 729.0 485.4 729.0 484.4 729.0 483.4 729.0 482.3 729.1 481.2 729.1 480.1 729.1 479.0 729.1 477.9 729.2 476.7 729.2 475.5 729.3 474.2 729.3 472.9 729.4 471.6 729.4 470.2 729.5 468.8 729.6 467.4 729.6 465.9 729.7 464.4 729.8 462.8 729.9 461.2 730.0 459.5 730.1 457.7 730.3 455.9 730.4 454.0 730.5 452.0 730.7 449.9 730.9 447.7 731.1 445.4 731.3 443.0 731.5 440.5 731.7 437.8 732.0 434.9 732.3 431.9 732.6 428.6 732.9 425.1 733.3 421.2 733.7 417.0 734.2 412.3 734.7 407.1 735.3 401.2 736.0 394.2 736.9 385.9 737.9 375.5 739.2 361.7 740.9 340.5 743.7 303.6 748.5 342.7 743.3 362.3 740.7 375.2 739.0 384.9 737.6 392.6 736.6 398.9 735.6 404.3 734.9 409.0 734.2 413.2 733.5 416.9 733.0 420.3 732.5 423.3 732.0 426.1 731.5 428.7 731.1 431.1 730.7 433.3 730.3 435.3 730.0 437.3 729.6 439.1 729.3 440.8 729.0 442.4 728.7 443.9 728.4 445.3 728.1 446.7 727.8 448.0 727.6 449.2 727.3 450.4 727.1 451.5 726.8 452.5 726.6 453.5 726.4 454.5 726.1 455.4 725.9 456.3 725.7 457.1 725.5 457.9 725.3 458.7 725.1 459.4 724.9 460.1 724.7 460.8 724.5 461.5 724.3 462.1 724.2 462.7 724.0 463.2 723.8 463.8 723.6 464.3 723.5 464.8 723.3 465.2 723.2 465.7 723.0 466.5 722.7 467.3 722.4 468.0 722.1 468.6 721.8 469.1 721.6 469.6 721.3 470.0 721.1 470.4 720.8 470.9 720.5 471.2 720.2 471.5 719.7 471.5 719.1 471.1 718.7 470.6 718.4 470.2 718.3 469.6 718.1 469.0 717.9 468.2 717.8 467.6 717.7 467.0 717.7 466.4 717.6 465.6 717.6 464.9 717.6 464.1 717.5 463.2 717.5 462.3 717.5 461.4 717.5 460.4 717.6 459.3 717.6 458.2 717.7 457.6 717.7 457.0 717.7 456.3 717.8 455.7 717.8 455.0 717.9 454.4 717.9 453.7 718.0 453.0 718.1 452.2 718.1 451.5 718.2 450.7 718.3 449.9 718.4 449.1 718.4 448.3 718.5 447.4 718.6 446.5 718.7 445.6 718.9 444.7 719.0 443.7 719.1 442.7 719.2 441.7 719.4 440.6 719.5 439.5 719.7 438.4 719.8 437.2 720.0 436.0 720.2 434.8 720.4 433.5 720.6 432.2 720.8 430.8 721.0 429.4 721.3 427.9 721.5 426.3 721.8 424.7 722.1 423.0 722.4 421.3 722.7 419.4 723.1 417.5 723.4 415.5 723.8 413.3 724.2 411.1 724.7 408.7 725.1 406.2 725.6 403.4 726.2 400.5 726.8 397.4 727.4 394.0 728.1 390.3 728.9 386.3 729.8 381.8 730.8 376.7 731.9 370.9 733.2 364.1 734.7 355.9 736.5 345.6 738.9 331.7 742.0 310.0 747.0 303.6 748.5 316.9 745.4 335.4 741.1 347.9 738.2 357.3 735.9 364.8 734.1 371.1 732.6 376.4 731.3 381.1 730.2 385.2 729.2 389.0 728.2 392.3 727.4 395.4 726.6 398.2 725.9 400.8 725.2 403.2 724.6 405.5 724.0 407.6 723.4 409.6 722.9 411.4 722.4 413.2 721.9 414.8 721.4 416.4 721.0 417.9 720.6 419.3 720.1 420.7 719.7 422.0 719.4 423.2 719.0 424.4 718.6 425.5 718.3 426.6 718.0 427.6 717.6 428.6 717.3 429.5 717.0 430.4 716.7 431.3 716.4 432.1 716.1 432.9 715.9 433.7 715.6 434.4 715.3 435.1 715.1 435.8 714.8 436.5 714.6 437.1 714.4 437.7 714.1 438.3 713.9 438.8 713.7 439.4 713.5 439.9 713.3 440.4 713.1 440.9 712.9 441.3 712.7 441.8 712.5 442.2 712.3 443.0 711.9 443.7 711.6 444.4 711.3 444.9 710.9 445.5 710.6 446.0 710.4 446.4 710.1 446.8 709.8 447.2 709.5 447.6 709.1 447.9 708.7 448.0 708.2 447.8 707.8 447.4 707.5 446.8 707.4 446.3 707.3 445.7 707.2 445.0 707.2 444.1 707.2 443.5 707.2 442.9 707.2 442.2 707.3 441.5 707.3 440.7 707.4 439.8 707.5 438.9 707.6 438.0 707.8 437.0 707.9 436.4 708.0 435.9 708.1 435.3 708.2 434.8 708.3 434.2 708.4 433.6 708.5 432.9 708.6 432.3 708.8 431.6 708.9 431.0 709.0 430.3 709.2 429.5 709.3 428.8 709.5 428.0 709.6 427.3 709.8 426.5 710.0 425.6 710.2 424.8 710.4 423.9 710.6 423.0 710.8 422.1 711.0 421.1 711.3 420.1 711.5 419.1 711.8 418.0 712.1 416.9 712.3 415.8 712.6 414.6 712.9 413.4 713.3 412.2 713.6 410.8 714.0 409.5 714.3 408.1 714.7 406.6 715.1 405.1 715.6 403.5 716.0 401.8 716.5 400.1 717.0 398.3 717.6 396.3 718.2 394.3 718.8 392.2 719.4 389.9 720.1 387.5 720.8 384.9 721.6 382.2 722.5 379.2 723.4 376.0 724.5 372.5 725.6 368.7 726.8 364.4 728.2 359.6 729.8 354.1 731.6 347.7 733.7 340.1 736.2 330.5 739.4 317.8 743.7 303.6 748.5 316.3 744.2 329.2 739.8 338.8 736.5 346.4 733.9 352.7 731.7 358.1 729.8 362.8 728.2 366.9 726.7 370.6 725.4 374.0 724.2 377.0 723.1 379.9 722.1 382.5 721.1 384.9 720.2 387.1 719.4 389.2 718.6 391.2 717.9 393.1 717.2 394.8 716.5 396.5 715.9 398.0 715.3 399.5 714.7 401.0 714.1 402.3 713.6 403.6 713.1 404.8 712.6 406.0 712.1 407.2 711.6 408.2 711.2 409.3 710.8 410.3 710.3 411.2 709.9 412.1 709.5 413.0 709.2 413.9 708.8 414.7 708.4 415.5 708.1 416.2 707.7 417.0 707.4 417.7 707.1 418.3 706.8 419.0 706.5 419.6 706.2 420.2 705.9 420.8 705.6 421.4 705.3 421.9 705.1 422.4 704.8 422.9 704.5 423.4 704.3 423.9 704.1 424.3 703.8 424.8 703.6 425.2 703.4 425.6 703.1 426.3 702.7 427.0 702.3 427.6 701.9 428.2 701.6 428.7 701.2 429.2 700.9 429.6 700.6 430.0 700.3 430.3 700.0 430.7 699.6 431.0 699.3 431.3 698.9 431.4 698.3 431.0 698.0 430.5 697.8 429.9 697.7 429.2 697.7 428.5 697.7 427.8 697.8 427.2 697.9 426.6 698.0 426.0 698.1 425.3 698.2 424.6 698.4 423.8 698.6 423.0 698.8 422.1 699.0 421.2 699.2 420.7 699.4 420.2 699.5 419.7 699.6 419.2 699.8 418.6 699.9 418.1 700.1 417.5 700.3 416.9 700.5 416.3 700.6 415.7 700.8 415.0 701.0 414.4 701.2 413.7 701.5 413.0 701.7 412.3 701.9 411.6 702.2 410.8 702.4 410.0 702.7 409.3 703.0 408.4 703.3 407.6 703.6 406.7 703.9 405.8 704.2 404.9 704.5 403.9 704.9 402.9 705.3 401.9 705.6 400.9 706.0 399.8 706.5 398.7 706.9 397.5 707.3 396.3 707.8 395.0 708.3 393.7 708.8 392.4 709.4 390.9 709.9 389.5 710.5 387.9 711.2 386.3 711.8 384.6 712.5 382.9 713.3 381.0 714.0 379.1 714.9 377.0 715.7 374.8 716.7 372.5 717.7 370.0 718.7 367.3 719.9 364.4 721.2 361.3 722.5 357.8 724.0 354.1 725.7 349.9 727.6 345.2 729.7 339.7 732.1 333.4 735.0 325.7 738.4 316.0 742.9 303.6 748.5 308.1 746.4 319.6 741.1 328.3 737.1 335.3 733.9 341.2 731.2 346.2 728.8 350.6 726.8 354.5 724.9 358.0 723.3 361.1 721.8 364.0 720.4 366.7 719.1 369.2 717.9 371.5 716.8 373.6 715.7 375.6 714.7 377.5 713.8 379.3 712.9 381.0 712.1 382.6 711.3 384.1 710.5 385.5 709.8 386.9 709.1 388.2 708.4 389.4 707.8 390.6 707.2 391.8 706.6 392.9 706.0 393.9 705.4 394.9 704.9 395.9 704.4 396.8 703.9 397.7 703.4 398.6 702.9 399.4 702.4 400.2 702.0 400.9 701.6 401.7 701.1 402.4 700.7 403.1 700.3 403.8 700.0 404.4 699.6 405.0 699.2 405.6 698.9 406.2 698.5 406.7 698.2 407.3 697.8 407.8 697.5 408.3 697.2 408.8 696.9 409.2 696.6 409.7 696.3 410.1 696.0 410.5 695.8 411.0 695.5 411.3 695.2 411.7 695.0 412.1 694.7 412.7 694.2 413.4 693.8 413.9 693.4 414.5 693.0 415.0 692.6 415.4 692.2 415.8 691.9 416.1 691.5 416.5 691.2 416.8 690.8 417.2 690.4 417.4 690.0 417.6 689.5 417.4 689.0 416.9 688.8 416.2 688.8 415.6 688.8 415.0 688.9 414.3 689.1 413.8 689.2 413.3 689.3 412.8 689.5 412.2 689.6 411.5 689.8 410.8 690.1 410.1 690.3 409.4 690.6 408.6 690.9 407.7 691.2 407.3 691.4 406.8 691.5 406.4 691.7 405.9 691.9 405.4 692.1 404.9 692.3 404.4 692.6 403.8 692.8 403.3 693.0 402.7 693.3 402.1 693.5 401.6 693.8 401.0 694.0 400.3 694.3 399.7 694.6 399.0 694.9 398.4 695.2 397.7 695.6 397.0 695.9 396.2 696.2 395.5 696.6 394.7 697.0 393.9 697.4 393.1 697.8 392.2 698.2 391.4 698.6 390.5 699.1 389.5 699.5 388.6 700.0 387.6 700.5 386.6 701.1 385.5 701.6 384.4 702.2 383.3 702.8 382.1 703.4 380.9 704.0 379.7 704.7 378.3 705.4 377.0 706.1 375.5 706.9 374.1 707.7 372.5 708.6 370.9 709.5 369.1 710.4 367.3 711.4 365.4 712.5 363.4 713.6 361.3 714.8 359.0 716.1 356.5 717.5 353.9 719.0 351.1 720.7 348.0 722.4 344.6 724.4 340.8 726.6 336.6 729.1 331.8 731.9 326.3 735.1 319.6 739.0 311.5 743.8 303.6 748.5 305.9 747.1 315.1 741.6 322.4 737.2 328.4 733.6 333.5 730.6 337.9 727.9 341.8 725.5 345.3 723.4 348.4 721.5 351.3 719.7 353.9 718.1 356.3 716.6 358.6 715.2 360.7 713.9 362.6 712.7 364.5 711.5 366.2 710.4 367.9 709.3 369.4 708.4 370.9 707.4 372.3 706.5 373.6 705.6 374.9 704.8 376.1 704.0 377.3 703.2 378.4 702.5 379.5 701.8 380.5 701.1 381.5 700.4 382.4 699.8 383.3 699.2 384.2 698.6 385.0 698.0 385.8 697.4 386.6 696.9 387.4 696.4 388.1 695.9 388.8 695.4 389.5 694.9 390.1 694.4 390.8 693.9 391.4 693.5 392.0 693.1 392.6 692.6 393.1 692.2 393.6 691.8 394.2 691.4 394.7 691.0 395.1 690.7 395.6 690.3 396.1 690.0 396.5 689.6 396.9 689.3 397.3 689.0 397.7 688.6 398.1 688.3 398.5 688.0 398.8 687.7 399.2 687.4 399.5 687.1 400.1 686.6 400.7 686.1 401.2 685.6 401.7 685.1 402.2 684.7 402.6 684.3 403.0 683.9 403.3 683.5 403.7 683.1 403.9 682.8 404.3 682.4 404.6 681.9 404.8 681.5 405.0 681.0 404.9 680.4 404.5 680.2 403.8 680.1 403.3 680.2 402.8 680.3 402.2 680.5 401.6 680.7 401.1 680.9 400.7 681.0 400.1 681.3 399.6 681.5 399.0 681.7 398.4 682.0 397.8 682.3 397.1 682.6 396.4 683.0 395.6 683.4 394.9 683.8 394.5 684.0 394.0 684.2 393.6 684.5 393.2 684.7 392.7 684.9 392.3 685.2 391.8 685.5 391.3 685.7 390.8 686.0 390.3 686.3 389.8 686.6 389.3 686.9 388.7 687.3 388.2 687.6 387.6 687.9 387.0 688.3 386.4 688.7 385.8 689.0 385.2 689.4 384.5 689.8 383.9 690.3 383.2 690.7 382.5 691.1 381.8 691.6 381.0 692.1 380.3 692.6 379.5 693.1 378.7 693.6 377.8 694.1 377.0 694.7 376.1 695.3 375.2 695.9 374.3 696.5 373.3 697.2 372.3 697.9 371.3 698.6 370.2 699.3 369.1 700.1 367.9 700.9 366.7 701.7 365.5 702.6 364.2 703.5 362.9 704.4 361.5 705.4 360.0 706.5 358.4 707.6 356.8 708.8 355.1 710.0 353.3 711.3 351.4 712.7 349.3 714.2 347.2 715.8 344.8 717.5 342.3 719.4 339.6 721.4 336.7 723.6 333.4 726.0 329.8 728.7 325.7 731.8 321.0 735.3 315.5 739.5 308.9 744.4 303.6 748.5 310.3 743.4 316.5 738.6 321.7 734.6 326.1 731.2 330.0 728.2 333.5 725.5 336.6 723.1 339.4 720.9 342.0 718.8 344.3 717.0 346.5 715.3 348.5 713.6 350.4 712.1 352.2 710.7 353.9 709.4 355.5 708.1 357.0 706.9 358.4 705.7 359.7 704.6 361.0 703.6 362.2 702.6 363.4 701.6 364.5 700.7 365.6 699.8 366.6 698.9 367.6 698.1 368.5 697.3 369.4 696.5 370.3 695.8 371.1 695.1 371.9 694.4 372.7 693.7 373.5 693.1 374.2 692.4 374.9 691.8 375.6 691.2 376.2 690.6 376.9 690.1 377.5 689.5 378.1 689.0 378.6 688.4 379.2 687.9 379.7 687.4 380.3 687.0 380.8 686.5 381.2 686.0 381.7 685.6 382.2 685.1 382.6 684.7 383.1 684.3 383.5 683.9 383.9 683.5 384.3 683.1 384.6 682.7 385.0 682.4 385.4 682.0 385.7 681.6 386.0 681.3 386.4 681.0 386.7 680.6 387.0 680.3 387.3 680.0 387.8 679.4 388.4 678.8 388.8 678.3 389.3 677.8 389.7 677.3 390.1 676.8 390.5 676.3 390.8 675.9 391.1 675.5 391.4 675.1 391.6 674.8 391.9 674.3 392.2 673.8 392.4 673.4 392.6 672.9 392.7 672.4 392.6 671.8 392.2 671.6 391.6 671.6 391.0 671.7 390.4 671.9 390.0 672.0 389.4 672.3 388.9 672.5 388.4 672.7 388.0 673.0 387.6 673.2 387.1 673.5 386.6 673.8 386.0 674.1 385.5 674.5 384.9 674.8 384.3 675.2 383.7 675.6 383.0 676.1 382.3 676.6 382.0 676.8 381.6 677.1 381.2 677.3 380.8 677.6 380.5 677.9 380.1 678.2 379.7 678.5 379.2 678.8 378.8 679.1 378.4 679.4 377.9 679.8 377.5 680.1 377.0 680.5 376.6 680.8 376.1 681.2 375.6 681.6 375.1 682.0 374.6 682.4 374.1 682.8 373.5 683.3 373.0 683.7 372.4 684.2 371.8 684.6 371.2 685.1 370.6 685.6 370.0 686.1 369.4 686.7 368.7 687.2 368.1 687.8 367.4 688.3 366.7 688.9 366.0 689.6 365.2 690.2 364.5 690.9 363.7 691.5 362.9 692.2 362.1 693.0 361.2 693.7 360.3 694.5 359.4 695.3 358.5 696.2 357.5 697.0 356.5 697.9 355.4 698.9 354.4 699.9 353.2 700.9 352.1 702.0 350.8 703.1 349.6 704.3 348.2 705.5 346.8 706.8 345.4 708.2 343.8 709.6 342.2 711.2 340.5 712.8 338.6 714.5 336.7 716.4 334.6 718.4 332.3 720.6 329.9 722.9 327.2 725.5 324.3 728.3 321.0 731.5 317.3 735.1 313.1 739.2 308.2 744.0 303.6 748.5 309.4 742.7 314.1 738.1 318.0 734.2 321.5 730.7 324.6 727.6 327.4 724.8 329.9 722.3 332.2 720.0 334.3 717.8 336.3 715.8 338.1 714.0 339.8 712.2 341.4 710.6 342.9 709.0 344.3 707.6 345.6 706.2 346.9 704.9 348.1 703.6 349.3 702.4 350.4 701.2 351.4 700.1 352.4 699.1 353.4 698.0 354.3 697.0 355.2 696.1 356.0 695.2 356.9 694.3 357.7 693.4 358.4 692.6 359.1 691.8 359.8 691.0 360.5 690.2 361.2 689.5 361.8 688.8 362.4 688.1 363.0 687.4 363.6 686.8 364.2 686.1 364.7 685.5 365.2 684.9 365.7 684.3 366.2 683.7 366.7 683.2 367.2 682.6 367.6 682.1 368.1 681.6 368.5 681.0 368.9 680.5 369.3 680.1 369.7 679.6 370.1 679.1 370.4 678.7 370.8 678.2 371.1 677.8 371.5 677.4 371.8 676.9 372.1 676.5 372.4 676.1 372.7 675.7 373.0 675.4 373.3 675.0 373.6 674.6 373.8 674.3 374.1 673.9 374.6 673.2 375.0 672.6 375.5 672.0 375.9 671.4 376.3 670.8 376.6 670.3 377.0 669.7 377.3 669.2 377.6 668.8 377.8 668.3 378.1 667.9 378.3 667.4 378.5 667.1 378.8 666.5 379.0 666.0 379.2 665.5 379.4 664.9 379.5 664.4 379.6 663.9 379.5 663.4 379.3 663.0 378.8 662.8 378.2 662.8 377.7 663.0 377.2 663.2 376.7 663.5 376.3 663.7 375.8 664.0 375.3 664.3 374.7 664.7 374.4 664.9 374.0 665.2 373.6 665.5 373.1 665.9 372.7 666.2 372.3 666.6 371.8 667.0 371.3 667.4 370.8 667.8 370.3 668.3 369.7 668.7 369.2 669.2 368.6 669.8 368.0 670.3 367.4 670.9 367.1 671.2 366.7 671.5 366.4 671.9 366.1 672.2 365.7 672.5 365.4 672.9 365.0 673.2 364.7 673.6 364.3 673.9 363.9 674.3 363.5 674.7 363.2 675.1 362.8 675.5 362.4 675.9 362.0 676.3 361.5 676.8 361.1 677.2 360.7 677.7 360.3 678.2 359.8 678.6 359.4 679.1 358.9 679.6 358.4 680.2 357.9 680.7 357.4 681.2 356.9 681.8 356.4 682.4 355.9 683.0 355.3 683.6 354.8 684.2 354.2 684.8 353.7 685.5 353.1 686.2 352.5 686.9 351.8 687.6 351.2 688.3 350.5 689.1 349.9 689.9 349.2 690.7 348.5 691.5 347.8 692.4 347.0 693.3 346.2 694.2 345.4 695.1 344.6 696.1 343.8 697.2 342.9 698.2 342.0 699.3 341.0 700.5 340.1 701.7 339.1 702.9 338.0 704.2 336.9 705.6 335.7 707.1 334.5 708.6 333.3 710.2 331.9 711.8 330.5 713.6 329.0 715.5 327.5 717.5 325.8 719.7 324.0 722.0 322.0 724.5 319.9 727.2 317.6 730.2 315.1 733.5 312.2 737.2 309.0 741.4 305.4 746.2 303.6 748.5 307.5 743.3 310.8 738.9 313.7 735.0 316.3 731.6 318.6 728.5 320.7 725.7 322.6 723.1 324.4 720.7 326.0 718.4 327.5 716.4 329.0 714.4 330.3 712.6 331.6 710.8 332.8 709.2 333.9 707.6 335.0 706.1 336.0 704.7 337.0 703.3 337.9 702.0 338.8 700.8 339.6 699.6 340.4 698.4 341.2 697.3 342.0 696.2 342.7 695.2 343.4 694.2 344.0 693.2 344.7 692.3 345.3 691.4 345.9 690.5 346.5 689.6 347.0 688.8 347.6 688.0 348.1 687.2 348.6 686.4 349.1 685.7 349.6 684.9 350.0 684.2 350.5 683.5 350.9 682.9 351.3 682.2 351.8 681.6 352.2 680.9 352.5 680.3 352.9 679.7 353.3 679.1 353.6 678.5 354.0 678.0 354.3 677.4 354.7 676.9 355.0 676.4 355.3 675.8 355.6 675.3 355.9 674.8 356.2 674.4 356.4 673.9 356.7 673.4 357.0 673.0 357.2 672.5 357.5 672.1 357.7 671.6 358.0 671.2 358.2 670.8 358.4 670.4 358.7 670.0 358.9 669.6 359.3 668.8 359.7 668.1 360.0 667.4 360.4 666.7 360.7 666.1 361.0 665.4 361.3 664.8 361.6 664.2 361.8 663.7 362.1 663.1 362.3 662.6 362.5 662.1 362.7 661.6 362.9 661.1 363.1 660.6 363.3 660.0 363.5 659.4 363.7 658.8 363.9 658.3 364.0 657.8 364.2 657.1 364.3 656.6 364.3 655.9 364.3 655.3 364.3 654.7 364.1 654.2 363.8 653.9 363.4 653.7 362.8 653.7 362.3 653.8 361.9 654.0 361.4 654.2 360.9 654.5 360.5 654.8 360.1 655.0 359.8 655.3 359.4 655.7 359.0 656.0 358.5 656.4 358.1 656.8 357.6 657.2 357.3 657.5 357.0 657.9 356.7 658.2 356.3 658.6 356.0 658.9 355.7 659.3 355.3 659.7 354.9 660.1 354.5 660.6 354.2 661.0 353.8 661.5 353.4 662.0 353.0 662.5 352.5 663.0 352.1 663.6 351.7 664.1 351.2 664.7 350.8 665.3 350.3 665.9 349.8 666.6 349.3 667.3 348.8 668.0 348.5 668.3 348.3 668.7 348.0 669.1 347.8 669.5 347.5 669.9 347.2 670.2 346.9 670.6 346.7 671.1 346.4 671.5 346.1 671.9 345.8 672.3 345.5 672.8 345.2 673.2 344.9 673.7 344.6 674.2 344.3 674.6 343.9 675.1 343.6 675.6 343.3 676.1 343.0 676.6 342.6 677.2 342.3 677.7 341.9 678.2 341.6 678.8 341.2 679.4 340.9 680.0 340.5 680.6 340.1 681.2 339.7 681.8 339.3 682.4 338.9 683.1 338.5 683.7 338.1 684.4 337.7 685.1 337.3 685.8 336.8 686.6 336.4 687.3 336.0 688.1 335.5 688.9 335.0 689.7 334.5 690.5 334.0 691.4 333.5 692.2 333.0 693.2 332.5 694.1 331.9 695.0 331.4 696.0 330.8 697.0 330.2 698.1 329.6 699.2 329.0 700.3 328.4 701.5 327.7 702.7 327.0 703.9 326.3 705.2 325.6 706.5 324.8 707.9 324.0 709.4 323.2 710.9 322.3 712.5 321.5 714.2 320.5 715.9 319.5 717.8 318.5 719.7 317.4 721.8 316.3 724.0 315.0 726.3 313.7 728.8 312.3 731.5 310.8 734.5 309.2 737.6 307.4 741.1 305.4 745.0 303.6 748.5 304.0 747.8 306.0 743.7 307.8 740.0 309.5 736.7 311.0 733.6 312.4 730.8 313.7 728.2 314.9 725.8 316.0 723.5 317.0 721.4 318.0 719.4 318.9 717.5 319.8 715.7 320.6 714.0 321.4 712.3 322.1 710.8 322.8 709.3 323.5 707.8 324.2 706.5 324.8 705.1 325.4 703.9 326.0 702.6 326.5 701.4 327.0 700.3 327.5 699.2 328.0 698.1 328.5 697.1 329.0 696.1 329.4 695.1 329.8 694.1 330.2 693.2 330.6 692.3 331.0 691.4 331.4 690.6 331.7 689.7 332.1 688.9 332.4 688.1 332.8 687.3 333.1 686.6 333.4 685.8 333.7 685.1 334.0 684.4 334.3 683.7 334.6 683.0 334.8 682.4 335.1 681.7 335.4 681.1 335.6 680.5 335.9 679.9 336.1 679.3 336.3 678.7 336.5 678.1 336.8 677.5 337.0 677.0 337.2 676.4 337.4 675.9 337.6 675.4 337.8 674.9 338.0 674.4 338.2 673.9 338.3 673.4 338.5 672.9 338.7 672.4 338.8 671.9 339.0 671.5 339.2 671.0 339.5 670.2 339.8 669.3 340.0 668.5 340.3 667.7 340.5 666.9 340.8 666.1 341.0 665.4 341.2 664.7 341.4 664.0 341.6 663.3 341.8 662.7 342.0 662.1 342.1 661.4 342.3 660.8 342.4 660.3 342.6 659.7 342.7 659.1 342.8 658.6 342.9 658.1 343.1 657.6 343.2 656.8 343.3 656.1 343.5 655.5 343.6 654.8 343.7 654.2 343.7 653.6 343.8 653.0 343.9 652.4 343.9 651.7 344.0 651.1 344.0 650.4 344.0 649.7 344.0 649.0 343.9 648.4 343.8 647.8 343.7 647.3 343.6 646.8 343.5 646.2 343.3 645.8 343.1 645.4 342.8 644.9 342.5 644.6 342.2 644.3 341.7 644.1 341.2 644.0 340.6 643.9 340.1 644.0 339.5 644.1 339.0 644.3 338.6 644.5 338.1 644.8 337.8 645.0 337.4 645.3 337.0 645.6 336.6 646.0 336.2 646.2 335.9 646.6 335.6 646.9 335.2 647.2 334.9 647.6 334.5 648.0 334.2 648.4 333.8 648.8 333.5 649.2 333.2 649.6 332.9 649.9 332.6 650.3 332.4 650.7 332.1 651.1 331.8 651.5 331.5 651.9 331.2 652.3 330.9 652.7 330.6 653.2 330.4 653.7 330.1 654.1 329.8 654.6 329.5 655.1 329.2 655.6 328.9 656.1 328.6 656.7 328.3 657.2 328.0 657.8 327.7 658.3 327.3 658.9 327.1 659.3 326.9 659.7 326.7 660.2 326.5 660.6 326.3 661.0 326.1 661.4 325.9 661.9 325.7 662.3 325.5 662.8 325.3 663.2 325.0 663.7 324.8 664.2 324.6 664.6 324.4 665.1 324.2 665.6 324.0 666.1 323.7 666.7 323.5 667.2 323.3 667.7 323.1 668.2 322.9 668.8 322.6 669.3 322.4 669.9 322.2 670.5 322.0 671.1 321.7 671.7 321.5 672.3 321.3 672.9 321.1 673.5 320.8 674.1 320.6 674.8 320.4 675.4 320.1 676.1 319.9 676.8 319.7 677.5 319.4 678.2 319.2 678.9 319.0 679.6 318.7 680.4 318.5 681.1 318.2 681.9 318.0 682.7 317.7 683.5 317.5 684.3 317.2 685.1 317.0 686.0 316.7 686.8 316.5 687.7 316.2 688.6 316.0 689.5 315.8 690.0 315.7 690.5 315.6 691.0 315.4 691.5 315.3 691.9 315.2 692.4 315.0 692.9 314.9 693.5 314.8 694.0 314.6 694.5 314.5 695.0 314.4 695.6 314.2 696.1 314.1 696.6 313.9 697.2 313.8 697.8 313.7 698.3 313.5 698.9 313.4 699.5 313.2 700.1 313.1 700.7 312.9 701.3 312.8 701.9 312.6 702.5 312.5 703.2 312.3 703.8 312.2 704.5 312.0 705.1 311.9 705.8 311.7 706.5 311.6 707.2 311.4 707.9 311.3 708.6 311.1 709.3 310.9 710.1 310.8 710.8 310.6 711.6 310.4 712.4 310.3 713.2 310.1 714.0 309.9 714.8 309.7 715.7 309.6 716.5 309.4 717.4 309.2 718.3 309.0 719.2 308.8 720.2 308.6 721.1 308.4 722.1 308.2 723.1 308.0 724.1 307.8 725.2 307.6 726.2 307.4 727.3 307.2 728.5 307.0 729.6 306.8 730.8 306.5 732.1 306.3 733.3 306.1 734.6 305.8 736.0 305.6 737.4 305.3 738.8 305.0 740.3 304.8 741.8 304.5 743.4 304.2 745.1 303.9 746.8 303.6 748.5 303.7 747.5 304.0 746.0 304.2 744.5 304.4 743.1 304.6 741.8 304.8 740.5 304.9 739.3 305.1 738.1 305.3 736.9 305.4 735.8 305.6 734.7 305.7 733.6 305.8 732.6 306.0 731.6 306.1 730.6 306.2 729.7 306.3 728.8 306.4 727.9 306.6 727.0 306.7 726.1 306.8 725.3 306.9 724.5 307.0 723.7 307.0 722.9 307.1 722.2 307.2 721.5 307.3 720.7 307.4 720.0 307.5 719.3 307.5 718.7 307.6 718.0 307.7 717.4 307.7 716.7 307.8 716.1 307.9 715.5 307.9 714.9 308.0 714.3 308.0 713.7 308.1 713.2 308.1 712.6 308.2 711.5 308.3 710.5 308.4 709.5 308.5 708.5 308.6 707.5 308.6 706.6 308.7 705.7 308.7 704.9 308.8 704.0 308.8 703.2 308.9 702.5 308.9 701.7 309.0 700.9 309.0 700.2 309.0 699.5 309.0 698.8 309.0 698.2 309.1 697.5 309.1 696.9 309.1 696.3 309.1 695.7 309.1 694.8 309.1 694.0 309.1 693.2 309.1 692.4 309.1 691.6 309.0 690.9 309.0 690.2 309.0 689.5 309.0 688.9 308.9 688.2 308.9 687.6 308.8 687.0 308.8 686.4 308.7 685.9 308.6 685.2 308.6 684.5 308.5 683.9 308.4 683.2 308.3 682.6 308.2 682.1 308.1 681.5 308.0 681.0 307.9 680.5 307.7 679.9 307.6 679.4 307.4 678.9 307.3 678.4 307.1 677.9 306.9 677.4 306.7 676.9 306.5 676.5 306.3 676.1 306.0 675.7 305.8 675.3 305.5 674.9 305.2 674.6 304.8 674.3 304.5 674.1 304.0 673.9 303.6 673.9" stroke="#000" stroke-width="5" fill="none" stroke-linejoin="round" stroke-linecap="round"/>
<text x="292" y="496.4" font-size="37.5" font-weight="bold" fill="#000">90</text>
<text x="422" y="532.6" font-size="37.5" font-weight="bold" fill="#000">60</text>
<text x="519.4" y="626.4" font-size="37.5" font-weight="bold" fill="#000">30</text>
<text x="565.4" y="763" font-size="37.5" font-weight="bold" fill="#000">0</text>
<text x="503.8" y="903.7" font-size="37.5" font-weight="bold" fill="#000">–30</text>
<text x="407.3" y="993.2" font-size="37.5" font-weight="bold" fill="#000">–60</text>
<text x="277.1" y="1028.8" font-size="37.5" font-weight="bold" fill="#000">–90</text>
<g transform="translate(477.8 649.4) rotate(62)"><rect x="-44" y="-20" width="88" height="40" fill="#fff"/><text x="0" y="11.5" font-size="32" font-weight="bold" text-anchor="middle" fill="#000">13 dB</text></g>
<path d="M481 712.3L527 705.2" stroke="#000" stroke-width="2.6"/><path d="M474.9 713.2L484 706.5L485.6 717.5Z M532.8 704.3L523.7 711L522.1 700Z" fill="#000"/>
</svg></body></html>
